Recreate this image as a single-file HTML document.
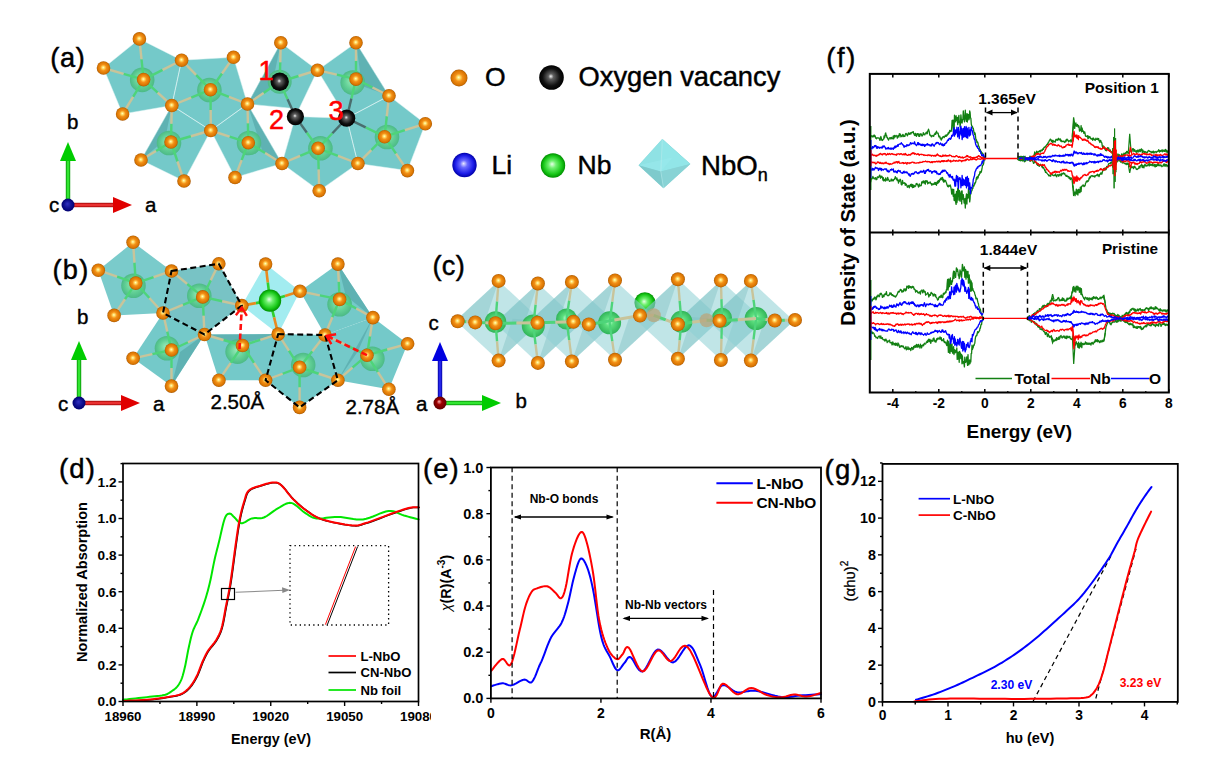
<!DOCTYPE html>
<html><head><meta charset="utf-8"><style>
html,body{margin:0;padding:0;background:#fff;}
svg{display:block;font-family:"Liberation Sans", sans-serif;}
</style></head><body>
<svg width="1232" height="762" viewBox="0 0 1232 762">
<defs>
<clipPath id="clipd"><rect x="0" y="0" width="431" height="762"/></clipPath>
</defs>
<rect width="1232" height="762" fill="#fff"/>
<defs>
<radialGradient id="gO" cx="50%" cy="50%" r="50%" fx="48%" fy="46%">
 <stop offset="0" stop-color="#ffffc8"/><stop offset="0.2" stop-color="#ffd860"/>
 <stop offset="0.45" stop-color="#f39018"/><stop offset="0.85" stop-color="#d87400"/><stop offset="1" stop-color="#a85a08"/></radialGradient>
<radialGradient id="gV" cx="50%" cy="50%" r="50%" fx="47%" fy="45%">
 <stop offset="0" stop-color="#f0f0f0"/><stop offset="0.22" stop-color="#606060"/>
 <stop offset="0.7" stop-color="#111"/><stop offset="1" stop-color="#000"/></radialGradient>
<radialGradient id="gNbm" cx="50%" cy="50%" r="50%" fx="45%" fy="42%">
 <stop offset="0" stop-color="#96eab8"/><stop offset="0.6" stop-color="#62d096"/>
 <stop offset="1" stop-color="#4cba86"/></radialGradient>
<radialGradient id="gNb" cx="50%" cy="50%" r="50%" fx="46%" fy="44%">
 <stop offset="0" stop-color="#e8ffe8"/><stop offset="0.3" stop-color="#70f070"/>
 <stop offset="0.75" stop-color="#18c818"/><stop offset="1" stop-color="#009000"/></radialGradient>
<radialGradient id="gAx" cx="50%" cy="50%" r="50%" fx="45%" fy="40%">
 <stop offset="0" stop-color="#3030c0"/><stop offset="0.6" stop-color="#101090"/><stop offset="1" stop-color="#000070"/></radialGradient>
<radialGradient id="gLi" cx="50%" cy="50%" r="50%" fx="46%" fy="44%">
 <stop offset="0" stop-color="#e8e8ff"/><stop offset="0.3" stop-color="#6a6aff"/>
 <stop offset="0.75" stop-color="#1c1ce8"/><stop offset="1" stop-color="#0000a8"/></radialGradient>
<radialGradient id="gNbc" cx="50%" cy="50%" r="50%" fx="48%" fy="45%">
 <stop offset="0" stop-color="#c8ffd8"/><stop offset="0.35" stop-color="#5ee080"/>
 <stop offset="1" stop-color="#30b458"/></radialGradient>
<radialGradient id="gRed" cx="50%" cy="50%" r="50%" fx="42%" fy="38%">
 <stop offset="0" stop-color="#ffb0b0"/><stop offset="0.4" stop-color="#a00000"/>
 <stop offset="1" stop-color="#600000"/></radialGradient>
<linearGradient id="gArG" x1="0" y1="0" x2="1" y2="0">
 <stop offset="0" stop-color="#009000"/><stop offset="0.5" stop-color="#40ff40"/><stop offset="1" stop-color="#009000"/></linearGradient>
<linearGradient id="gArR" x1="0" y1="0" x2="0" y2="1">
 <stop offset="0" stop-color="#a00000"/><stop offset="0.5" stop-color="#ff4040"/><stop offset="1" stop-color="#a00000"/></linearGradient>
<linearGradient id="gArB" x1="0" y1="0" x2="1" y2="0">
 <stop offset="0" stop-color="#0000a0"/><stop offset="0.5" stop-color="#3030ff"/><stop offset="1" stop-color="#0000a0"/></linearGradient>
<linearGradient id="gArG2" x1="0" y1="0" x2="0" y2="1">
 <stop offset="0" stop-color="#009000"/><stop offset="0.5" stop-color="#40ff40"/><stop offset="1" stop-color="#009000"/></linearGradient>
</defs><polygon points="139.4,38.9 181.6,60.2 171.8,105.5 122.6,114 103.5,68" fill="#74c9c9" /><polygon points="181.6,60.2 233.5,57.3 247.5,104 210.8,130.5 171.8,105.5" fill="#74c9c9" /><polygon points="171.8,105.5 210.8,130.5 184,181 141,160" fill="#74c9c9" /><polygon points="247.5,104 282,163.5 235,177.5 210.8,130.5" fill="#74c9c9" /><polygon points="280.8,42.7 317.5,70.2 299,109 247.5,104" fill="#74c9c9" /><polygon points="356,42.7 389,95.8 346.7,118.2 317.5,70.2" fill="#74c9c9" /><polygon points="295.4,116.6 346.7,118.2 357.9,163.5 319.2,190.7 282,163.5" fill="#74c9c9" /><polygon points="389,95.8 425.3,123.75 407.4,170.6 357.9,163.5 346.7,118.2" fill="#74c9c9" /><polygon points="171.8,105.5 141,160 165,140" fill="#5aacae" opacity="0.8"/><polygon points="247.5,104 282,163.5 262,150" fill="#5aacae" opacity="0.8"/><polygon points="280.8,42.7 247.5,104 272,86" fill="#5aacae" opacity="0.8"/><polygon points="356,42.7 389,95.8 362,86" fill="#5aacae" opacity="0.8"/><polygon points="139.4,38.9 181.6,60.2 171.8,105.5 122.6,114 103.5,68" fill="none" stroke="#e0f4f4" stroke-width="0.7" opacity="0.7"/><polygon points="181.6,60.2 233.5,57.3 247.5,104 210.8,130.5 171.8,105.5" fill="none" stroke="#e0f4f4" stroke-width="0.7" opacity="0.7"/><polygon points="171.8,105.5 210.8,130.5 184,181 141,160" fill="none" stroke="#e0f4f4" stroke-width="0.7" opacity="0.7"/><polygon points="247.5,104 282,163.5 235,177.5 210.8,130.5" fill="none" stroke="#e0f4f4" stroke-width="0.7" opacity="0.7"/><polygon points="280.8,42.7 317.5,70.2 299,109 247.5,104" fill="none" stroke="#e0f4f4" stroke-width="0.7" opacity="0.7"/><polygon points="356,42.7 389,95.8 346.7,118.2 317.5,70.2" fill="none" stroke="#e0f4f4" stroke-width="0.7" opacity="0.7"/><polygon points="295.4,116.6 346.7,118.2 357.9,163.5 319.2,190.7 282,163.5" fill="none" stroke="#e0f4f4" stroke-width="0.7" opacity="0.7"/><polygon points="389,95.8 425.3,123.75 407.4,170.6 357.9,163.5 346.7,118.2" fill="none" stroke="#e0f4f4" stroke-width="0.7" opacity="0.7"/><circle cx="142.2" cy="79.9" r="12.3" fill="url(#gNbm)"/><circle cx="209.4" cy="90" r="12.3" fill="url(#gNbm)"/><circle cx="169" cy="143" r="12.3" fill="url(#gNbm)"/><circle cx="249" cy="143" r="12.3" fill="url(#gNbm)"/><circle cx="352.7" cy="82.5" r="12.3" fill="url(#gNbm)"/><circle cx="320.4" cy="148.3" r="12.3" fill="url(#gNbm)"/><circle cx="387" cy="137" r="12.3" fill="url(#gNbm)"/><circle cx="279.7" cy="81.8" r="12" fill="url(#gNbm)"/><line x1="143.6" y1="79.6" x2="141.5" y2="59.25" stroke="#4ed47a" stroke-width="2.4"/><line x1="141.5" y1="59.25" x2="139.4" y2="38.9" stroke="#c8c49a" stroke-width="2.4"/><line x1="143.6" y1="79.6" x2="123.55" y2="73.8" stroke="#4ed47a" stroke-width="2.4"/><line x1="123.55" y1="73.8" x2="103.5" y2="68" stroke="#c8c49a" stroke-width="2.4"/><line x1="143.6" y1="79.6" x2="133.1" y2="96.8" stroke="#4ed47a" stroke-width="2.4"/><line x1="133.1" y1="96.8" x2="122.6" y2="114" stroke="#c8c49a" stroke-width="2.4"/><line x1="143.6" y1="79.6" x2="162.6" y2="69.9" stroke="#4ed47a" stroke-width="2.4"/><line x1="162.6" y1="69.9" x2="181.6" y2="60.2" stroke="#c8c49a" stroke-width="2.4"/><line x1="143.6" y1="79.6" x2="157.7" y2="92.55" stroke="#4ed47a" stroke-width="2.4"/><line x1="157.7" y1="92.55" x2="171.8" y2="105.5" stroke="#c8c49a" stroke-width="2.4"/><line x1="210.5" y1="89.7" x2="196.05" y2="74.95" stroke="#4ed47a" stroke-width="2.4"/><line x1="196.05" y1="74.95" x2="181.6" y2="60.2" stroke="#c8c49a" stroke-width="2.4"/><line x1="210.5" y1="89.7" x2="222" y2="73.5" stroke="#4ed47a" stroke-width="2.4"/><line x1="222" y1="73.5" x2="233.5" y2="57.3" stroke="#c8c49a" stroke-width="2.4"/><line x1="210.5" y1="89.7" x2="229" y2="96.85" stroke="#4ed47a" stroke-width="2.4"/><line x1="229" y1="96.85" x2="247.5" y2="104" stroke="#c8c49a" stroke-width="2.4"/><line x1="210.5" y1="89.7" x2="210.65" y2="110.1" stroke="#4ed47a" stroke-width="2.4"/><line x1="210.65" y1="110.1" x2="210.8" y2="130.5" stroke="#c8c49a" stroke-width="2.4"/><line x1="210.5" y1="89.7" x2="191.15" y2="97.6" stroke="#4ed47a" stroke-width="2.4"/><line x1="191.15" y1="97.6" x2="171.8" y2="105.5" stroke="#c8c49a" stroke-width="2.4"/><line x1="171" y1="142" x2="171.4" y2="123.75" stroke="#4ed47a" stroke-width="2.4"/><line x1="171.4" y1="123.75" x2="171.8" y2="105.5" stroke="#c8c49a" stroke-width="2.4"/><line x1="171" y1="142" x2="190.9" y2="136.25" stroke="#4ed47a" stroke-width="2.4"/><line x1="190.9" y1="136.25" x2="210.8" y2="130.5" stroke="#c8c49a" stroke-width="2.4"/><line x1="171" y1="142" x2="177.5" y2="161.5" stroke="#4ed47a" stroke-width="2.4"/><line x1="177.5" y1="161.5" x2="184" y2="181" stroke="#c8c49a" stroke-width="2.4"/><line x1="171" y1="142" x2="156" y2="151" stroke="#4ed47a" stroke-width="2.4"/><line x1="156" y1="151" x2="141" y2="160" stroke="#c8c49a" stroke-width="2.4"/><line x1="248.3" y1="142.7" x2="247.9" y2="123.35" stroke="#4ed47a" stroke-width="2.4"/><line x1="247.9" y1="123.35" x2="247.5" y2="104" stroke="#c8c49a" stroke-width="2.4"/><line x1="248.3" y1="142.7" x2="265.15" y2="153.1" stroke="#4ed47a" stroke-width="2.4"/><line x1="265.15" y1="153.1" x2="282" y2="163.5" stroke="#c8c49a" stroke-width="2.4"/><line x1="248.3" y1="142.7" x2="241.65" y2="160.1" stroke="#4ed47a" stroke-width="2.4"/><line x1="241.65" y1="160.1" x2="235" y2="177.5" stroke="#c8c49a" stroke-width="2.4"/><line x1="248.3" y1="142.7" x2="229.55" y2="136.6" stroke="#4ed47a" stroke-width="2.4"/><line x1="229.55" y1="136.6" x2="210.8" y2="130.5" stroke="#c8c49a" stroke-width="2.4"/><line x1="356" y1="79.1" x2="356" y2="60.9" stroke="#4ed47a" stroke-width="2.4"/><line x1="356" y1="60.9" x2="356" y2="42.7" stroke="#c8c49a" stroke-width="2.4"/><line x1="356" y1="79.1" x2="372.5" y2="87.45" stroke="#4ed47a" stroke-width="2.4"/><line x1="372.5" y1="87.45" x2="389" y2="95.8" stroke="#c8c49a" stroke-width="2.4"/><line x1="356" y1="79.1" x2="336.75" y2="74.65" stroke="#4ed47a" stroke-width="2.4"/><line x1="336.75" y1="74.65" x2="317.5" y2="70.2" stroke="#c8c49a" stroke-width="2.4"/><line x1="318.1" y1="148.3" x2="338" y2="155.9" stroke="#4ed47a" stroke-width="2.4"/><line x1="338" y1="155.9" x2="357.9" y2="163.5" stroke="#c8c49a" stroke-width="2.4"/><line x1="318.1" y1="148.3" x2="318.65" y2="169.5" stroke="#4ed47a" stroke-width="2.4"/><line x1="318.65" y1="169.5" x2="319.2" y2="190.7" stroke="#c8c49a" stroke-width="2.4"/><line x1="318.1" y1="148.3" x2="300.05" y2="155.9" stroke="#4ed47a" stroke-width="2.4"/><line x1="300.05" y1="155.9" x2="282" y2="163.5" stroke="#c8c49a" stroke-width="2.4"/><line x1="384.6" y1="136.7" x2="386.8" y2="116.25" stroke="#4ed47a" stroke-width="2.4"/><line x1="386.8" y1="116.25" x2="389" y2="95.8" stroke="#c8c49a" stroke-width="2.4"/><line x1="384.6" y1="136.7" x2="404.95" y2="130.22" stroke="#4ed47a" stroke-width="2.4"/><line x1="404.95" y1="130.22" x2="425.3" y2="123.75" stroke="#c8c49a" stroke-width="2.4"/><line x1="384.6" y1="136.7" x2="396" y2="153.65" stroke="#4ed47a" stroke-width="2.4"/><line x1="396" y1="153.65" x2="407.4" y2="170.6" stroke="#c8c49a" stroke-width="2.4"/><line x1="384.6" y1="136.7" x2="371.25" y2="150.1" stroke="#4ed47a" stroke-width="2.4"/><line x1="371.25" y1="150.1" x2="357.9" y2="163.5" stroke="#c8c49a" stroke-width="2.4"/><line x1="279.7" y1="81.8" x2="280.25" y2="62.25" stroke="#4ed47a" stroke-width="2.4"/><line x1="280.25" y1="62.25" x2="280.8" y2="42.7" stroke="#c8c49a" stroke-width="2.4"/><line x1="279.7" y1="81.8" x2="298.6" y2="76" stroke="#4ed47a" stroke-width="2.4"/><line x1="298.6" y1="76" x2="317.5" y2="70.2" stroke="#c8c49a" stroke-width="2.4"/><line x1="279.7" y1="81.8" x2="263.6" y2="92.9" stroke="#4ed47a" stroke-width="2.4"/><line x1="263.6" y1="92.9" x2="247.5" y2="104" stroke="#c8c49a" stroke-width="2.4"/><line x1="279.7" y1="81.8" x2="287.55" y2="99.2" stroke="#4ed47a" stroke-width="2.4"/><line x1="287.55" y1="99.2" x2="295.4" y2="116.6" stroke="#4a6e6e" stroke-width="2.4"/><line x1="318.1" y1="148.3" x2="306.75" y2="132.45" stroke="#4ed47a" stroke-width="2.4"/><line x1="306.75" y1="132.45" x2="295.4" y2="116.6" stroke="#4a6e6e" stroke-width="2.4"/><line x1="318.1" y1="148.3" x2="332.4" y2="133.25" stroke="#4ed47a" stroke-width="2.4"/><line x1="332.4" y1="133.25" x2="346.7" y2="118.2" stroke="#4a6e6e" stroke-width="2.4"/><line x1="384.6" y1="136.7" x2="365.65" y2="127.45" stroke="#4ed47a" stroke-width="2.4"/><line x1="365.65" y1="127.45" x2="346.7" y2="118.2" stroke="#4a6e6e" stroke-width="2.4"/><line x1="356" y1="79.1" x2="351.35" y2="98.65" stroke="#4ed47a" stroke-width="2.4"/><line x1="351.35" y1="98.65" x2="346.7" y2="118.2" stroke="#4a6e6e" stroke-width="2.4"/><circle cx="139.4" cy="38.9" r="6.8" fill="url(#gO)"/><circle cx="103.5" cy="68" r="6.8" fill="url(#gO)"/><circle cx="122.6" cy="114" r="6.8" fill="url(#gO)"/><circle cx="181.6" cy="60.2" r="6.8" fill="url(#gO)"/><circle cx="233.5" cy="57.3" r="6.8" fill="url(#gO)"/><circle cx="143.6" cy="79.6" r="6.8" fill="url(#gO)"/><circle cx="210.5" cy="89.7" r="6.8" fill="url(#gO)"/><circle cx="171.8" cy="105.5" r="6.8" fill="url(#gO)"/><circle cx="247.5" cy="104" r="6.8" fill="url(#gO)"/><circle cx="210.8" cy="130.5" r="6.8" fill="url(#gO)"/><circle cx="171" cy="142" r="6.8" fill="url(#gO)"/><circle cx="248.3" cy="142.7" r="6.8" fill="url(#gO)"/><circle cx="141" cy="160" r="6.8" fill="url(#gO)"/><circle cx="184" cy="181" r="6.8" fill="url(#gO)"/><circle cx="235" cy="177.5" r="6.8" fill="url(#gO)"/><circle cx="280.8" cy="42.7" r="6.8" fill="url(#gO)"/><circle cx="317.5" cy="70.2" r="6.8" fill="url(#gO)"/><circle cx="356" cy="42.7" r="6.8" fill="url(#gO)"/><circle cx="356" cy="79.1" r="6.8" fill="url(#gO)"/><circle cx="389" cy="95.8" r="6.8" fill="url(#gO)"/><circle cx="425.3" cy="123.75" r="6.8" fill="url(#gO)"/><circle cx="384.6" cy="136.7" r="6.8" fill="url(#gO)"/><circle cx="318.1" cy="148.3" r="6.8" fill="url(#gO)"/><circle cx="282" cy="163.5" r="6.8" fill="url(#gO)"/><circle cx="357.9" cy="163.5" r="6.8" fill="url(#gO)"/><circle cx="319.2" cy="190.7" r="6.8" fill="url(#gO)"/><circle cx="407.4" cy="170.6" r="6.8" fill="url(#gO)"/><circle cx="279.7" cy="81.8" r="9.2" fill="url(#gV)"/><circle cx="295.4" cy="116.6" r="8.6" fill="url(#gV)"/><circle cx="346.7" cy="118.2" r="8.6" fill="url(#gV)"/><text x="258.5" y="80.3" font-size="27" font-weight="normal" text-anchor="start" fill="#ff0000" stroke="#ff0000" stroke-width="0.5" >1</text><text x="269" y="128.7" font-size="27" font-weight="normal" text-anchor="start" fill="#ff0000" stroke="#ff0000" stroke-width="0.5" >2</text><text x="328.5" y="120.4" font-size="27" font-weight="normal" text-anchor="start" fill="#ff0000" stroke="#ff0000" stroke-width="0.5" >3</text><text x="50.3" y="66.5" font-size="27.2" font-weight="normal" text-anchor="start" fill="#000" stroke="#000" stroke-width="0.45" letter-spacing="0.7">(a)</text><rect x="65.8" y="159" width="4.4" height="46" fill="url(#gArG)"/><polygon points="68,142 60,161 76,161" fill="#00cc00"/><rect x="68" y="202.8" width="47" height="4.4" fill="url(#gArR)"/><polygon points="132,205 113,197 113,213" fill="#e00000"/><circle cx="68" cy="205" r="6.5" fill="url(#gAx)"/><text x="67" y="129" font-size="20.5" font-weight="normal" text-anchor="start" fill="#000" stroke="#000" stroke-width="0.4" >b</text><text x="145" y="212" font-size="20.5" font-weight="normal" text-anchor="start" fill="#000" stroke="#000" stroke-width="0.4" >a</text><text x="49" y="212" font-size="20.5" font-weight="normal" text-anchor="start" fill="#000" stroke="#000" stroke-width="0.4" >c</text><circle cx="459" cy="78" r="8.5" fill="url(#gO)"/><text x="485" y="85.5" font-size="26.5" font-weight="normal" text-anchor="start" fill="#000" stroke="#000" stroke-width="0.45" >O</text><circle cx="551.5" cy="77.5" r="12.3" fill="url(#gV)"/><text x="578.5" y="85.5" font-size="27.3" font-weight="normal" text-anchor="start" fill="#000" stroke="#000" stroke-width="0.45" >Oxygen vacancy</text><circle cx="464.5" cy="165" r="12.2" fill="url(#gLi)"/><text x="491.5" y="174" font-size="26.5" font-weight="normal" text-anchor="start" fill="#000" stroke="#000" stroke-width="0.45" >Li</text><circle cx="553" cy="165.5" r="12.2" fill="url(#gNb)"/><text x="577.5" y="174" font-size="26.5" font-weight="normal" text-anchor="start" fill="#000" stroke="#000" stroke-width="0.45" >Nb</text><polygon points="662.3,139.1 638.6,165.3 663.5,188.2 690.3,164.1" fill="#8ad8da" /><polygon points="662.3,139.1 672.5,157.4 690.3,164.1" fill="#86d0d3" /><polygon points="662.3,139.1 638.6,165.3 660.8,171.5" fill="#8fe2e4" /><polygon points="662.3,139.1 660.8,171.5 690.3,164.1" fill="#92e6e8" /><polygon points="638.6,165.3 660.8,171.5 672.5,157.4" fill="#9aeaec" opacity="0.6"/><polygon points="663.5,188.2 638.6,165.3 660.8,171.5" fill="#7ecacc" /><polygon points="663.5,188.2 660.8,171.5 690.3,164.1" fill="#88d3d5" /><polyline points="662.3,139.1 660.8,171.5 663.5,188.2" fill="none" stroke="#c8f0f0" stroke-width="0.6" opacity="0.7"/><text x="701" y="175" font-size="27.6" font-weight="normal" text-anchor="start" fill="#000" stroke="#000" stroke-width="0.45" >NbO<tspan font-size="18" dy="6">n</tspan></text><polygon points="133.1,242.3 171.5,271 163,313 114.1,315.4 98.3,270.2" fill="#7acbcb" /><polygon points="171.5,271 218.8,263.8 241.8,305.6 204.5,334.5 163,313" fill="#78c3c5" /><polygon points="163,313 204.5,334.5 171.5,386.1 133.1,358.3" fill="#74c9c9" /><polygon points="204.5,334.5 278.2,334.1 265.6,380.2 218.9,380.2" fill="#74c9c9" /><polygon points="265.6,264.1 300,291.3 278.2,334.1 241.8,305.6" fill="#a2ecf0" /><polygon points="337.9,264.1 372.9,317.6 325,335 300,291.3" fill="#74c9c9" /><polygon points="278.2,334.1 325,335 337.9,380.2 299.6,407.4 265.6,380.2" fill="#74c9c9" /><polygon points="372.9,317.6 407.6,343.8 388.9,389.2 337.9,380.2 325,335" fill="#74c9c9" /><polygon points="204.5,334.5 171.5,386.1 180,352" fill="#5aacae" opacity="0.8"/><polygon points="204.5,334.5 278.2,334.1 237.6,345" fill="#5aacae" opacity="0.8"/><polygon points="337.9,264.1 372.9,317.6 345.7,295.7" fill="#5aacae" opacity="0.8"/><polygon points="372.9,317.6 337.9,380.2 357.8,351.6" fill="#5aacae" opacity="0.8"/><circle cx="133.5" cy="285.8" r="12.3" fill="url(#gNbm)"/><circle cx="199.3" cy="295.8" r="12.3" fill="url(#gNbm)"/><circle cx="167" cy="348.2" r="12.3" fill="url(#gNbm)"/><circle cx="237.6" cy="351.6" r="12.3" fill="url(#gNbm)"/><circle cx="303.2" cy="365" r="12.3" fill="url(#gNbm)"/><circle cx="339.6" cy="304.2" r="12.3" fill="url(#gNbm)"/><circle cx="372.4" cy="358.8" r="12.3" fill="url(#gNbm)"/><line x1="135.8" y1="283.1" x2="134.45" y2="262.7" stroke="#4ed47a" stroke-width="2.4"/><line x1="134.45" y1="262.7" x2="133.1" y2="242.3" stroke="#c8c49a" stroke-width="2.4"/><line x1="135.8" y1="283.1" x2="117.05" y2="276.65" stroke="#4ed47a" stroke-width="2.4"/><line x1="117.05" y1="276.65" x2="98.3" y2="270.2" stroke="#c8c49a" stroke-width="2.4"/><line x1="135.8" y1="283.1" x2="124.95" y2="299.25" stroke="#4ed47a" stroke-width="2.4"/><line x1="124.95" y1="299.25" x2="114.1" y2="315.4" stroke="#c8c49a" stroke-width="2.4"/><line x1="135.8" y1="283.1" x2="153.65" y2="277.05" stroke="#4ed47a" stroke-width="2.4"/><line x1="153.65" y1="277.05" x2="171.5" y2="271" stroke="#c8c49a" stroke-width="2.4"/><line x1="135.8" y1="283.1" x2="149.4" y2="298.05" stroke="#4ed47a" stroke-width="2.4"/><line x1="149.4" y1="298.05" x2="163" y2="313" stroke="#c8c49a" stroke-width="2.4"/><line x1="202.7" y1="296.9" x2="187.1" y2="283.95" stroke="#4ed47a" stroke-width="2.4"/><line x1="187.1" y1="283.95" x2="171.5" y2="271" stroke="#c8c49a" stroke-width="2.4"/><line x1="202.7" y1="296.9" x2="210.75" y2="280.35" stroke="#4ed47a" stroke-width="2.4"/><line x1="210.75" y1="280.35" x2="218.8" y2="263.8" stroke="#c8c49a" stroke-width="2.4"/><line x1="202.7" y1="296.9" x2="222.25" y2="301.25" stroke="#4ed47a" stroke-width="2.4"/><line x1="222.25" y1="301.25" x2="241.8" y2="305.6" stroke="#c8c49a" stroke-width="2.4"/><line x1="202.7" y1="296.9" x2="203.6" y2="315.7" stroke="#4ed47a" stroke-width="2.4"/><line x1="203.6" y1="315.7" x2="204.5" y2="334.5" stroke="#c8c49a" stroke-width="2.4"/><line x1="202.7" y1="296.9" x2="182.85" y2="304.95" stroke="#4ed47a" stroke-width="2.4"/><line x1="182.85" y1="304.95" x2="163" y2="313" stroke="#c8c49a" stroke-width="2.4"/><line x1="171.5" y1="350" x2="167.25" y2="331.5" stroke="#4ed47a" stroke-width="2.4"/><line x1="167.25" y1="331.5" x2="163" y2="313" stroke="#c8c49a" stroke-width="2.4"/><line x1="171.5" y1="350" x2="188" y2="342.25" stroke="#4ed47a" stroke-width="2.4"/><line x1="188" y1="342.25" x2="204.5" y2="334.5" stroke="#c8c49a" stroke-width="2.4"/><line x1="171.5" y1="350" x2="171.5" y2="368.05" stroke="#4ed47a" stroke-width="2.4"/><line x1="171.5" y1="368.05" x2="171.5" y2="386.1" stroke="#c8c49a" stroke-width="2.4"/><line x1="171.5" y1="350" x2="152.3" y2="354.15" stroke="#4ed47a" stroke-width="2.4"/><line x1="152.3" y1="354.15" x2="133.1" y2="358.3" stroke="#c8c49a" stroke-width="2.4"/><line x1="242.5" y1="345.5" x2="223.5" y2="340" stroke="#4ed47a" stroke-width="2.4"/><line x1="223.5" y1="340" x2="204.5" y2="334.5" stroke="#c8c49a" stroke-width="2.4"/><line x1="242.5" y1="345.5" x2="260.35" y2="339.8" stroke="#4ed47a" stroke-width="2.4"/><line x1="260.35" y1="339.8" x2="278.2" y2="334.1" stroke="#c8c49a" stroke-width="2.4"/><line x1="242.5" y1="345.5" x2="254.05" y2="362.85" stroke="#4ed47a" stroke-width="2.4"/><line x1="254.05" y1="362.85" x2="265.6" y2="380.2" stroke="#c8c49a" stroke-width="2.4"/><line x1="242.5" y1="345.5" x2="230.7" y2="362.85" stroke="#4ed47a" stroke-width="2.4"/><line x1="230.7" y1="362.85" x2="218.9" y2="380.2" stroke="#c8c49a" stroke-width="2.4"/><line x1="299.6" y1="367.3" x2="288.9" y2="350.7" stroke="#4ed47a" stroke-width="2.4"/><line x1="288.9" y1="350.7" x2="278.2" y2="334.1" stroke="#c8c49a" stroke-width="2.4"/><line x1="299.6" y1="367.3" x2="312.3" y2="351.15" stroke="#4ed47a" stroke-width="2.4"/><line x1="312.3" y1="351.15" x2="325" y2="335" stroke="#c8c49a" stroke-width="2.4"/><line x1="299.6" y1="367.3" x2="318.75" y2="373.75" stroke="#4ed47a" stroke-width="2.4"/><line x1="318.75" y1="373.75" x2="337.9" y2="380.2" stroke="#c8c49a" stroke-width="2.4"/><line x1="299.6" y1="367.3" x2="299.6" y2="387.35" stroke="#4ed47a" stroke-width="2.4"/><line x1="299.6" y1="387.35" x2="299.6" y2="407.4" stroke="#c8c49a" stroke-width="2.4"/><line x1="299.6" y1="367.3" x2="282.6" y2="373.75" stroke="#4ed47a" stroke-width="2.4"/><line x1="282.6" y1="373.75" x2="265.6" y2="380.2" stroke="#c8c49a" stroke-width="2.4"/><line x1="339.6" y1="299.4" x2="338.75" y2="281.75" stroke="#4ed47a" stroke-width="2.4"/><line x1="338.75" y1="281.75" x2="337.9" y2="264.1" stroke="#c8c49a" stroke-width="2.4"/><line x1="339.6" y1="299.4" x2="356.25" y2="308.5" stroke="#4ed47a" stroke-width="2.4"/><line x1="356.25" y1="308.5" x2="372.9" y2="317.6" stroke="#c8c49a" stroke-width="2.4"/><line x1="339.6" y1="299.4" x2="332.3" y2="317.2" stroke="#4ed47a" stroke-width="2.4"/><line x1="332.3" y1="317.2" x2="325" y2="335" stroke="#c8c49a" stroke-width="2.4"/><line x1="339.6" y1="299.4" x2="319.8" y2="295.35" stroke="#4ed47a" stroke-width="2.4"/><line x1="319.8" y1="295.35" x2="300" y2="291.3" stroke="#c8c49a" stroke-width="2.4"/><line x1="367" y1="355.2" x2="369.95" y2="336.4" stroke="#4ed47a" stroke-width="2.4"/><line x1="369.95" y1="336.4" x2="372.9" y2="317.6" stroke="#c8c49a" stroke-width="2.4"/><line x1="367" y1="355.2" x2="387.3" y2="349.5" stroke="#4ed47a" stroke-width="2.4"/><line x1="387.3" y1="349.5" x2="407.6" y2="343.8" stroke="#c8c49a" stroke-width="2.4"/><line x1="367" y1="355.2" x2="377.95" y2="372.2" stroke="#4ed47a" stroke-width="2.4"/><line x1="377.95" y1="372.2" x2="388.9" y2="389.2" stroke="#c8c49a" stroke-width="2.4"/><line x1="367" y1="355.2" x2="352.45" y2="367.7" stroke="#4ed47a" stroke-width="2.4"/><line x1="352.45" y1="367.7" x2="337.9" y2="380.2" stroke="#c8c49a" stroke-width="2.4"/><line x1="367" y1="355.2" x2="346" y2="345.1" stroke="#4ed47a" stroke-width="2.4"/><line x1="346" y1="345.1" x2="325" y2="335" stroke="#c8c49a" stroke-width="2.4"/><line x1="270" y1="300.6" x2="267.8" y2="282.35" stroke="#30d030" stroke-width="2.6"/><line x1="267.8" y1="282.35" x2="265.6" y2="264.1" stroke="#e88a20" stroke-width="2.6"/><line x1="270" y1="300.6" x2="285" y2="295.95" stroke="#30d030" stroke-width="2.6"/><line x1="285" y1="295.95" x2="300" y2="291.3" stroke="#e88a20" stroke-width="2.6"/><line x1="270" y1="300.6" x2="274.1" y2="317.35" stroke="#30d030" stroke-width="2.6"/><line x1="274.1" y1="317.35" x2="278.2" y2="334.1" stroke="#e88a20" stroke-width="2.6"/><line x1="270" y1="300.6" x2="255.9" y2="303.1" stroke="#30d030" stroke-width="2.6"/><line x1="255.9" y1="303.1" x2="241.8" y2="305.6" stroke="#e88a20" stroke-width="2.6"/><circle cx="270" cy="300.6" r="11.2" fill="url(#gNb)"/><circle cx="133.1" cy="242.3" r="6.8" fill="url(#gO)"/><circle cx="98.3" cy="270.2" r="6.8" fill="url(#gO)"/><circle cx="114.1" cy="315.4" r="6.8" fill="url(#gO)"/><circle cx="135.8" cy="283.1" r="6.8" fill="url(#gO)"/><circle cx="171.5" cy="271" r="6.8" fill="url(#gO)"/><circle cx="218.8" cy="263.8" r="6.8" fill="url(#gO)"/><circle cx="202.7" cy="296.9" r="6.8" fill="url(#gO)"/><circle cx="163" cy="313" r="6.8" fill="url(#gO)"/><circle cx="241.8" cy="305.6" r="6.8" fill="url(#gO)"/><circle cx="204.5" cy="334.5" r="6.8" fill="url(#gO)"/><circle cx="171.5" cy="350" r="6.8" fill="url(#gO)"/><circle cx="133.1" cy="358.3" r="6.8" fill="url(#gO)"/><circle cx="171.5" cy="386.1" r="6.8" fill="url(#gO)"/><circle cx="242.5" cy="345.5" r="6.8" fill="url(#gO)"/><circle cx="218.9" cy="380.2" r="6.8" fill="url(#gO)"/><circle cx="265.6" cy="264.1" r="6.8" fill="url(#gO)"/><circle cx="300" cy="291.3" r="6.8" fill="url(#gO)"/><circle cx="278.2" cy="334.1" r="6.8" fill="url(#gO)"/><circle cx="265.6" cy="380.2" r="6.8" fill="url(#gO)"/><circle cx="299.6" cy="367.3" r="6.8" fill="url(#gO)"/><circle cx="325" cy="335" r="6.8" fill="url(#gO)"/><circle cx="337.9" cy="380.2" r="6.8" fill="url(#gO)"/><circle cx="299.6" cy="407.4" r="6.8" fill="url(#gO)"/><circle cx="337.9" cy="264.1" r="6.8" fill="url(#gO)"/><circle cx="339.6" cy="299.4" r="6.8" fill="url(#gO)"/><circle cx="372.9" cy="317.6" r="6.8" fill="url(#gO)"/><circle cx="407.6" cy="343.8" r="6.8" fill="url(#gO)"/><circle cx="367" cy="355.2" r="6.8" fill="url(#gO)"/><circle cx="388.9" cy="389.2" r="6.8" fill="url(#gO)"/><polygon points="171.5,271 218.8,263.8 241.8,305.6 204.5,334.5 163,313" fill="none" stroke="#000" stroke-width="2.1" stroke-dasharray="6,3.5"/><polygon points="278.2,334.1 325,335 337.9,380.2 299.6,407.4 265.6,380.2" fill="none" stroke="#000" stroke-width="2.1" stroke-dasharray="6,3.5"/><line x1="239.5" y1="349" x2="241.8" y2="307.5" stroke="#ff1010" stroke-width="2.6" stroke-dasharray="6,3.5"/><polyline points="246.85,315.79 241.8,307.5 235.87,315.18" fill="none" stroke="#ff1010" stroke-width="2.4"/><line x1="367" y1="355.2" x2="326.5" y2="335.8" stroke="#ff1010" stroke-width="2.6" stroke-dasharray="6,3.5"/><polyline points="336.09,334.3 326.5,335.8 331.34,344.22" fill="none" stroke="#ff1010" stroke-width="2.4"/><text x="210.5" y="408.5" font-size="20.5" font-weight="normal" text-anchor="start" fill="#000" stroke="#000" stroke-width="0.35" >2.50Å</text><text x="345.5" y="413.5" font-size="20.5" font-weight="normal" text-anchor="start" fill="#000" stroke="#000" stroke-width="0.35" >2.78Å</text><text x="52.5" y="278.6" font-size="27.2" font-weight="normal" text-anchor="start" fill="#000" stroke="#000" stroke-width="0.45" letter-spacing="1.3">(b)</text><rect x="76.8" y="358" width="4.4" height="45" fill="url(#gArG)"/><polygon points="79,341 71,360 87,360" fill="#00cc00"/><rect x="79" y="400.8" width="44" height="4.4" fill="url(#gArR)"/><polygon points="140,403 121,395 121,411" fill="#e00000"/><circle cx="79" cy="403" r="6.5" fill="url(#gAx)"/><text x="77" y="324" font-size="20.5" font-weight="normal" text-anchor="start" fill="#000" stroke="#000" stroke-width="0.4" >b</text><text x="153" y="411" font-size="20.5" font-weight="normal" text-anchor="start" fill="#000" stroke="#000" stroke-width="0.4" >a</text><text x="58" y="411" font-size="20.5" font-weight="normal" text-anchor="start" fill="#000" stroke="#000" stroke-width="0.4" >c</text><circle cx="644.9" cy="302.7" r="10.5" fill="url(#gNb)"/><polygon points="498.6,280.9 455.6,320.75 498.6,360.6 541.6,320.75" fill="#8dd0d4" opacity="0.55"/><polygon points="498.6,280.9 455.6,320.75 484.6,322.75" fill="#6fb7bb" opacity="0.35"/><polygon points="498.6,360.6 541.6,320.75 512.6,318.75" fill="#6fb7bb" opacity="0.35"/><polygon points="537.9,283.5 494.9,323.2 537.9,362.9 580.9,323.2" fill="#8dd0d4" opacity="0.55"/><polygon points="537.9,283.5 494.9,323.2 523.9,325.2" fill="#6fb7bb" opacity="0.35"/><polygon points="537.9,362.9 580.9,323.2 551.9,321.2" fill="#6fb7bb" opacity="0.35"/><polygon points="571.9,282 528.9,321.7 571.9,361.4 614.9,321.7" fill="#8dd0d4" opacity="0.55"/><polygon points="571.9,282 528.9,321.7 557.9,323.7" fill="#6fb7bb" opacity="0.35"/><polygon points="571.9,361.4 614.9,321.7 585.9,319.7" fill="#6fb7bb" opacity="0.35"/><polygon points="615,280.4 572,320.1 615,359.8 658,320.1" fill="#8dd0d4" opacity="0.55"/><polygon points="615,280.4 572,320.1 601,322.1" fill="#6fb7bb" opacity="0.35"/><polygon points="615,359.8 658,320.1 629,318.1" fill="#6fb7bb" opacity="0.35"/><polygon points="677.9,279.3 634.9,319.05 677.9,358.8 720.9,319.05" fill="#8dd0d4" opacity="0.55"/><polygon points="677.9,279.3 634.9,319.05 663.9,321.05" fill="#6fb7bb" opacity="0.35"/><polygon points="677.9,358.8 720.9,319.05 691.9,317.05" fill="#6fb7bb" opacity="0.35"/><polygon points="720.9,280.4 677.9,320.2 720.9,360 763.9,320.2" fill="#8dd0d4" opacity="0.55"/><polygon points="720.9,280.4 677.9,320.2 706.9,322.2" fill="#6fb7bb" opacity="0.35"/><polygon points="720.9,360 763.9,320.2 734.9,318.2" fill="#6fb7bb" opacity="0.35"/><polygon points="750.9,280.9 707.9,320.7 750.9,360.5 793.9,320.7" fill="#8dd0d4" opacity="0.55"/><polygon points="750.9,280.9 707.9,320.7 736.9,322.7" fill="#6fb7bb" opacity="0.35"/><polygon points="750.9,360.5 793.9,320.7 764.9,318.7" fill="#6fb7bb" opacity="0.35"/><circle cx="495.5" cy="322" r="10.8" fill="url(#gNbc)"/><circle cx="533.3" cy="325.9" r="11.5" fill="url(#gNbc)"/><circle cx="566.5" cy="319" r="10.5" fill="url(#gNbc)"/><circle cx="609.6" cy="322.8" r="11.5" fill="url(#gNbc)"/><circle cx="681.4" cy="321.8" r="11" fill="url(#gNbc)"/><circle cx="722" cy="317.8" r="10" fill="url(#gNbc)"/><circle cx="756.1" cy="318.6" r="11.5" fill="url(#gNbc)"/><line x1="495.5" y1="322" x2="497.05" y2="301.45" stroke="#4ed47a" stroke-width="2.4"/><line x1="497.05" y1="301.45" x2="498.6" y2="280.9" stroke="#c8c49a" stroke-width="2.4"/><line x1="495.5" y1="322" x2="497.05" y2="341.3" stroke="#4ed47a" stroke-width="2.4"/><line x1="497.05" y1="341.3" x2="498.6" y2="360.6" stroke="#c8c49a" stroke-width="2.4"/><line x1="533.3" y1="325.9" x2="535.6" y2="304.7" stroke="#4ed47a" stroke-width="2.4"/><line x1="535.6" y1="304.7" x2="537.9" y2="283.5" stroke="#c8c49a" stroke-width="2.4"/><line x1="533.3" y1="325.9" x2="535.6" y2="344.4" stroke="#4ed47a" stroke-width="2.4"/><line x1="535.6" y1="344.4" x2="537.9" y2="362.9" stroke="#c8c49a" stroke-width="2.4"/><line x1="566.5" y1="319" x2="569.2" y2="300.5" stroke="#4ed47a" stroke-width="2.4"/><line x1="569.2" y1="300.5" x2="571.9" y2="282" stroke="#c8c49a" stroke-width="2.4"/><line x1="566.5" y1="319" x2="569.2" y2="340.2" stroke="#4ed47a" stroke-width="2.4"/><line x1="569.2" y1="340.2" x2="571.9" y2="361.4" stroke="#c8c49a" stroke-width="2.4"/><line x1="609.6" y1="322.8" x2="612.3" y2="301.6" stroke="#4ed47a" stroke-width="2.4"/><line x1="612.3" y1="301.6" x2="615" y2="280.4" stroke="#c8c49a" stroke-width="2.4"/><line x1="609.6" y1="322.8" x2="612.3" y2="341.3" stroke="#4ed47a" stroke-width="2.4"/><line x1="612.3" y1="341.3" x2="615" y2="359.8" stroke="#c8c49a" stroke-width="2.4"/><line x1="681.4" y1="321.8" x2="679.65" y2="300.55" stroke="#4ed47a" stroke-width="2.4"/><line x1="679.65" y1="300.55" x2="677.9" y2="279.3" stroke="#c8c49a" stroke-width="2.4"/><line x1="681.4" y1="321.8" x2="679.65" y2="340.3" stroke="#4ed47a" stroke-width="2.4"/><line x1="679.65" y1="340.3" x2="677.9" y2="358.8" stroke="#c8c49a" stroke-width="2.4"/><line x1="722" y1="317.8" x2="721.45" y2="299.1" stroke="#4ed47a" stroke-width="2.4"/><line x1="721.45" y1="299.1" x2="720.9" y2="280.4" stroke="#c8c49a" stroke-width="2.4"/><line x1="722" y1="317.8" x2="721.45" y2="338.9" stroke="#4ed47a" stroke-width="2.4"/><line x1="721.45" y1="338.9" x2="720.9" y2="360" stroke="#c8c49a" stroke-width="2.4"/><line x1="756.1" y1="318.6" x2="753.5" y2="299.75" stroke="#4ed47a" stroke-width="2.4"/><line x1="753.5" y1="299.75" x2="750.9" y2="280.9" stroke="#c8c49a" stroke-width="2.4"/><line x1="756.1" y1="318.6" x2="753.5" y2="339.55" stroke="#4ed47a" stroke-width="2.4"/><line x1="753.5" y1="339.55" x2="750.9" y2="360.5" stroke="#c8c49a" stroke-width="2.4"/><line x1="457.7" y1="321.3" x2="466.45" y2="321.85" stroke="#4ed47a" stroke-width="3.0"/><line x1="466.45" y1="321.85" x2="475.2" y2="322.4" stroke="#c8c49a" stroke-width="3.0"/><line x1="475.2" y1="322.4" x2="485.35" y2="322.85" stroke="#4ed47a" stroke-width="3.0"/><line x1="485.35" y1="322.85" x2="495.5" y2="323.3" stroke="#c8c49a" stroke-width="3.0"/><line x1="495.5" y1="323.3" x2="516.5" y2="323.05" stroke="#4ed47a" stroke-width="3.0"/><line x1="516.5" y1="323.05" x2="537.5" y2="322.8" stroke="#c8c49a" stroke-width="3.0"/><line x1="537.5" y1="322.8" x2="555.45" y2="322.3" stroke="#4ed47a" stroke-width="3.0"/><line x1="555.45" y1="322.3" x2="573.4" y2="321.8" stroke="#c8c49a" stroke-width="3.0"/><line x1="573.4" y1="321.8" x2="581.1" y2="323.1" stroke="#4ed47a" stroke-width="3.0"/><line x1="581.1" y1="323.1" x2="588.8" y2="324.4" stroke="#c8c49a" stroke-width="3.0"/><line x1="588.8" y1="324.4" x2="614.4" y2="320" stroke="#4ed47a" stroke-width="3.0"/><line x1="614.4" y1="320" x2="640" y2="315.6" stroke="#c8c49a" stroke-width="3.0"/><line x1="640" y1="315.6" x2="646.9" y2="315.45" stroke="#4ed47a" stroke-width="3.0"/><line x1="646.9" y1="315.45" x2="653.8" y2="315.3" stroke="#c8c49a" stroke-width="3.0"/><line x1="653.8" y1="315.3" x2="665.85" y2="319.8" stroke="#4ed47a" stroke-width="3.0"/><line x1="665.85" y1="319.8" x2="677.9" y2="324.3" stroke="#c8c49a" stroke-width="3.0"/><line x1="677.9" y1="324.3" x2="692.25" y2="322.25" stroke="#4ed47a" stroke-width="3.0"/><line x1="692.25" y1="322.25" x2="706.6" y2="320.2" stroke="#c8c49a" stroke-width="3.0"/><line x1="706.6" y1="320.2" x2="713.1" y2="320.45" stroke="#4ed47a" stroke-width="3.0"/><line x1="713.1" y1="320.45" x2="719.6" y2="320.7" stroke="#c8c49a" stroke-width="3.0"/><line x1="719.6" y1="320.7" x2="737.85" y2="319.65" stroke="#4ed47a" stroke-width="3.0"/><line x1="737.85" y1="319.65" x2="756.1" y2="318.6" stroke="#c8c49a" stroke-width="3.0"/><line x1="756.1" y1="318.6" x2="765.45" y2="319.55" stroke="#4ed47a" stroke-width="3.0"/><line x1="765.45" y1="319.55" x2="774.8" y2="320.5" stroke="#c8c49a" stroke-width="3.0"/><line x1="774.8" y1="320.5" x2="784.9" y2="320.2" stroke="#4ed47a" stroke-width="3.0"/><line x1="784.9" y1="320.2" x2="795" y2="319.9" stroke="#c8c49a" stroke-width="3.0"/><circle cx="653.8" cy="315.3" r="7" fill="#b8a880" opacity="0.8"/><circle cx="706.6" cy="320.2" r="7" fill="#b8a880" opacity="0.8"/><circle cx="498.6" cy="280.9" r="7" fill="url(#gO)"/><circle cx="498.6" cy="360.6" r="7" fill="url(#gO)"/><circle cx="537.9" cy="283.5" r="7" fill="url(#gO)"/><circle cx="537.9" cy="362.9" r="7" fill="url(#gO)"/><circle cx="571.9" cy="282" r="7" fill="url(#gO)"/><circle cx="571.9" cy="361.4" r="7" fill="url(#gO)"/><circle cx="615" cy="280.4" r="7" fill="url(#gO)"/><circle cx="615" cy="359.8" r="7" fill="url(#gO)"/><circle cx="677.9" cy="279.3" r="7" fill="url(#gO)"/><circle cx="677.9" cy="358.8" r="7" fill="url(#gO)"/><circle cx="720.9" cy="280.4" r="7" fill="url(#gO)"/><circle cx="720.9" cy="360" r="7" fill="url(#gO)"/><circle cx="750.9" cy="280.9" r="7" fill="url(#gO)"/><circle cx="750.9" cy="360.5" r="7" fill="url(#gO)"/><circle cx="457.7" cy="321.3" r="7" fill="url(#gO)"/><circle cx="475.2" cy="322.4" r="7" fill="url(#gO)"/><circle cx="495.5" cy="323.3" r="7" fill="url(#gO)"/><circle cx="537.5" cy="322.8" r="7" fill="url(#gO)"/><circle cx="573.4" cy="321.8" r="7" fill="url(#gO)"/><circle cx="588.8" cy="324.4" r="7" fill="url(#gO)"/><circle cx="640" cy="315.6" r="7" fill="url(#gO)"/><circle cx="677.9" cy="324.3" r="7" fill="url(#gO)"/><circle cx="719.6" cy="320.7" r="7" fill="url(#gO)"/><circle cx="774.8" cy="320.5" r="7" fill="url(#gO)"/><circle cx="795" cy="319.9" r="7" fill="url(#gO)"/><text x="432.5" y="275.2" font-size="27.2" font-weight="normal" text-anchor="start" fill="#000" stroke="#000" stroke-width="0.45" letter-spacing="0.3">(c)</text><rect x="437.8" y="359" width="4.4" height="44" fill="url(#gArB)"/><polygon points="440,342 432,361 448,361" fill="#0000e0"/><rect x="440" y="400.8" width="44" height="4.4" fill="url(#gArG2)"/><polygon points="501,403 482,395 482,411" fill="#00cc00"/><circle cx="440" cy="403" r="6.5" fill="url(#gRed)"/><text x="428.5" y="330" font-size="20.5" font-weight="normal" text-anchor="start" fill="#000" stroke="#000" stroke-width="0.4" >c</text><text x="515.5" y="408" font-size="20.5" font-weight="normal" text-anchor="start" fill="#000" stroke="#000" stroke-width="0.4" >b</text><text x="416" y="411" font-size="20.5" font-weight="normal" text-anchor="start" fill="#000" stroke="#000" stroke-width="0.4" >a</text>
<polyline points="123.4,701.3 125.53,701.19 128.42,701.07 131.86,700.91 135.66,700.74 139.62,700.54 143.54,700.32 147.23,700.07 150.5,699.8 153.46,699.5 156.35,699.15 159.16,698.78 161.86,698.38 164.43,697.98 166.86,697.57 169.12,697.18 171.2,696.8 173.06,696.47 174.7,696.18 176.15,695.92 177.47,695.64 178.7,695.34 179.87,694.98 181.02,694.54 182.2,694 183.38,693.36 184.5,692.66 185.57,691.89 186.61,691.06 187.61,690.17 188.59,689.21 189.55,688.19 190.5,687.1 191.44,685.94 192.36,684.7 193.25,683.4 194.12,682.03 194.98,680.61 195.81,679.14 196.61,677.64 197.4,676.1 198.15,674.49 198.87,672.78 199.57,671.01 200.24,669.2 200.9,667.39 201.56,665.62 202.22,663.91 202.9,662.3 203.57,660.79 204.21,659.35 204.84,657.97 205.48,656.62 206.13,655.3 206.83,653.98 207.58,652.66 208.4,651.3 209.32,649.93 210.34,648.58 211.43,647.24 212.55,645.89 213.67,644.53 214.76,643.15 215.78,641.74 216.7,640.3 217.53,638.87 218.3,637.49 219.03,636.12 219.71,634.71 220.36,633.22 220.99,631.62 221.6,629.86 222.2,627.9 222.8,625.63 223.38,623.02 223.95,620.2 224.49,617.3 225,614.43 225.48,611.7 225.91,609.26 226.3,607.2 226.62,605.63 226.86,604.47 227.04,603.59 227.2,602.86 227.35,602.15 227.52,601.32 227.73,600.25 228,598.8 228.31,597.21 228.61,595.72 228.93,594.16 229.28,592.4 229.68,590.28 230.14,587.66 230.67,584.38 231.3,580.3 232.06,575.05 232.94,568.62 233.91,561.38 234.94,553.71 235.99,545.99 237.02,538.59 238,531.9 238.9,526.3 239.73,521.69 240.52,517.68 241.28,514.18 242.02,511.1 242.74,508.36 243.44,505.87 244.12,503.55 244.8,501.3 245.41,499.23 245.91,497.46 246.37,495.95 246.83,494.64 247.34,493.49 247.96,492.45 248.73,491.47 249.7,490.5 250.91,489.59 252.33,488.81 253.9,488.14 255.57,487.56 257.3,487.03 259.03,486.55 260.72,486.08 262.3,485.6 263.83,485.1 265.38,484.6 266.92,484.11 268.45,483.66 269.94,483.27 271.37,482.97 272.73,482.77 274,482.7 275.13,482.71 276.13,482.76 277.04,482.89 277.9,483.11 278.76,483.47 279.67,483.98 280.67,484.68 281.8,485.6 283.06,486.81 284.41,488.31 285.82,490.03 287.29,491.9 288.8,493.83 290.35,495.76 291.92,497.61 293.5,499.3 295.1,500.88 296.72,502.44 298.37,503.97 300.06,505.46 301.77,506.92 303.51,508.33 305.29,509.69 307.1,511 308.86,512.25 310.54,513.45 312.21,514.61 313.93,515.71 315.77,516.77 317.8,517.79 320.09,518.77 322.7,519.7 325.81,520.63 329.41,521.56 333.34,522.46 337.43,523.32 341.49,524.09 345.38,524.75 348.9,525.26 351.9,525.6 354.24,525.79 356.03,525.86 357.45,525.81 358.69,525.64 359.94,525.33 361.36,524.9 363.16,524.32 365.5,523.6 368.5,522.64 372.04,521.4 375.94,519.97 380.02,518.43 384.12,516.87 388.06,515.37 391.68,514.02 394.8,512.9 397.46,511.98 399.85,511.16 402,510.44 403.94,509.81 405.73,509.26 407.39,508.78 408.97,508.36 410.5,508 411.97,507.72 413.35,507.55 414.62,507.47 415.78,507.44 416.82,507.46 417.72,507.49 418.49,507.51 419.1,507.5" fill="none" stroke="#000" stroke-width="1.6" stroke-linejoin="round" stroke-linecap="round" /><polyline points="122.9,699.8 124.56,699.61 126.79,699.37 129.44,699.07 132.38,698.74 135.47,698.4 138.58,698.05 141.57,697.71 144.3,697.4 146.91,697.12 149.57,696.86 152.25,696.61 154.88,696.36 157.4,696.09 159.76,695.8 161.92,695.47 163.8,695.1 165.38,694.68 166.71,694.22 167.82,693.73 168.77,693.21 169.61,692.68 170.4,692.12 171.18,691.56 172,691 172.83,690.44 173.62,689.89 174.36,689.34 175.06,688.76 175.72,688.16 176.37,687.53 176.99,686.84 177.6,686.1 178.19,685.32 178.75,684.52 179.28,683.69 179.79,682.82 180.28,681.89 180.76,680.88 181.23,679.79 181.7,678.6 182.16,677.32 182.6,675.98 183.02,674.55 183.44,673.06 183.85,671.48 184.26,669.81 184.67,668.05 185.1,666.2 185.53,664.21 185.95,662.06 186.38,659.79 186.81,657.46 187.24,655.09 187.68,652.73 188.13,650.42 188.6,648.2 189.07,646.04 189.55,643.87 190.03,641.72 190.53,639.6 191.03,637.52 191.56,635.5 192.12,633.56 192.7,631.7 193.31,630 193.94,628.47 194.6,627.05 195.28,625.67 195.97,624.28 196.69,622.79 197.44,621.15 198.2,619.3 199.01,617.21 199.87,614.93 200.77,612.51 201.69,610 202.6,607.45 203.48,604.9 204.32,602.4 205.1,600 205.81,597.72 206.47,595.5 207.1,593.33 207.7,591.17 208.28,588.99 208.85,586.75 209.42,584.43 210,582 210.58,579.42 211.15,576.69 211.72,573.88 212.28,571.01 212.83,568.15 213.38,565.33 213.94,562.6 214.5,560 215.05,557.58 215.59,555.3 216.13,553.13 216.67,550.99 217.22,548.84 217.78,546.63 218.38,544.3 219,541.8 219.67,539 220.38,535.88 221.12,532.59 221.87,529.26 222.63,526.04 223.38,523.06 224.11,520.47 224.8,518.4 225.46,516.85 226.09,515.69 226.71,514.86 227.31,514.29 227.91,513.95 228.5,513.75 229.1,513.66 229.7,513.6 230.29,513.66 230.86,513.92 231.42,514.34 231.97,514.89 232.55,515.52 233.15,516.19 233.8,516.86 234.5,517.5 235.24,518.21 235.99,519.07 236.77,520.01 237.59,520.95 238.45,521.83 239.37,522.56 240.35,523.07 241.4,523.3 242.54,523.17 243.76,522.73 245.05,522.07 246.39,521.27 247.77,520.41 249.18,519.59 250.59,518.89 252,518.4 253.41,518.15 254.82,518.08 256.26,518.12 257.71,518.19 259.19,518.24 260.7,518.19 262.23,517.96 263.8,517.5 265.41,516.76 267.07,515.79 268.77,514.65 270.49,513.41 272.22,512.13 273.96,510.87 275.69,509.71 277.4,508.7 279.1,507.73 280.8,506.68 282.5,505.62 284.19,504.64 285.89,503.81 287.59,503.19 289.3,502.86 291,502.9 292.72,503.4 294.46,504.33 296.22,505.57 297.97,507.02 299.7,508.57 301.41,510.09 303.08,511.47 304.7,512.6 306.19,513.56 307.54,514.5 308.81,515.38 310.07,516.2 311.39,516.93 312.84,517.55 314.49,518.05 316.4,518.4 318.58,518.53 320.98,518.44 323.55,518.2 326.26,517.86 329.07,517.49 331.96,517.16 334.88,516.95 337.8,516.9 340.77,517.1 343.83,517.5 346.96,518.02 350.14,518.58 353.36,519.09 356.59,519.45 359.81,519.58 363,519.4 366.24,518.78 369.59,517.76 372.98,516.48 376.36,515.07 379.66,513.68 382.82,512.45 385.79,511.51 388.5,511 390.92,510.95 393.1,511.23 395.08,511.77 396.93,512.48 398.69,513.29 400.42,514.11 402.17,514.88 404,515.5 405.97,516.04 408.06,516.61 410.18,517.18 412.27,517.73 414.23,518.25 416,518.71 417.48,519.1 418.6,519.4" fill="none" stroke="#00e600" stroke-width="2.0" stroke-linejoin="round" stroke-linecap="round" /><polyline points="122.9,701 125.03,700.89 127.92,700.77 131.36,700.61 135.16,700.44 139.12,700.24 143.04,700.02 146.73,699.77 150,699.5 152.96,699.2 155.85,698.85 158.66,698.48 161.36,698.08 163.93,697.68 166.36,697.27 168.62,696.88 170.7,696.5 172.56,696.17 174.2,695.88 175.65,695.62 176.97,695.34 178.2,695.04 179.37,694.68 180.52,694.24 181.7,693.7 182.88,693.06 184,692.36 185.07,691.59 186.11,690.76 187.11,689.87 188.09,688.91 189.05,687.89 190,686.8 190.94,685.64 191.86,684.4 192.75,683.1 193.62,681.73 194.48,680.31 195.31,678.84 196.11,677.34 196.9,675.8 197.65,674.19 198.37,672.48 199.07,670.71 199.74,668.9 200.4,667.09 201.06,665.32 201.72,663.61 202.4,662 203.07,660.49 203.71,659.05 204.34,657.67 204.98,656.33 205.63,655 206.33,653.68 207.08,652.36 207.9,651 208.82,649.63 209.84,648.28 210.93,646.94 212.05,645.59 213.17,644.23 214.26,642.85 215.28,641.44 216.2,640 217.03,638.57 217.8,637.19 218.53,635.82 219.21,634.41 219.86,632.92 220.49,631.32 221.1,629.56 221.7,627.6 222.3,625.33 222.88,622.72 223.45,619.9 223.99,617 224.5,614.13 224.98,611.4 225.41,608.96 225.8,606.9 226.12,605.33 226.36,604.17 226.54,603.29 226.7,602.56 226.85,601.85 227.02,601.02 227.23,599.95 227.5,598.5 227.81,596.91 228.11,595.42 228.43,593.86 228.78,592.1 229.18,589.98 229.64,587.36 230.17,584.08 230.8,580 231.56,574.75 232.44,568.32 233.41,561.08 234.44,553.41 235.49,545.69 236.52,538.29 237.5,531.6 238.4,526 239.23,521.39 240.02,517.38 240.78,513.88 241.52,510.8 242.24,508.06 242.94,505.57 243.62,503.25 244.3,501 244.91,498.93 245.41,497.16 245.87,495.65 246.33,494.34 246.84,493.19 247.46,492.15 248.23,491.17 249.2,490.2 250.41,489.29 251.83,488.51 253.4,487.84 255.07,487.26 256.8,486.73 258.53,486.25 260.22,485.78 261.8,485.3 263.33,484.8 264.88,484.3 266.42,483.81 267.95,483.36 269.44,482.97 270.87,482.67 272.23,482.47 273.5,482.4 274.63,482.41 275.63,482.46 276.54,482.59 277.4,482.81 278.26,483.17 279.17,483.68 280.17,484.38 281.3,485.3 282.56,486.51 283.91,488.01 285.32,489.73 286.79,491.6 288.3,493.53 289.85,495.46 291.42,497.31 293,499 294.6,500.58 296.22,502.14 297.87,503.67 299.56,505.16 301.27,506.62 303.01,508.03 304.79,509.39 306.6,510.7 308.36,511.95 310.04,513.15 311.71,514.31 313.43,515.41 315.27,516.47 317.3,517.49 319.59,518.47 322.2,519.4 325.31,520.33 328.91,521.26 332.84,522.16 336.93,523.02 340.99,523.79 344.88,524.45 348.4,524.96 351.4,525.3 353.74,525.49 355.53,525.56 356.95,525.51 358.19,525.34 359.44,525.03 360.86,524.6 362.66,524.02 365,523.3 368,522.34 371.54,521.1 375.44,519.67 379.52,518.13 383.62,516.57 387.56,515.07 391.18,513.72 394.3,512.6 396.96,511.68 399.35,510.86 401.5,510.14 403.44,509.51 405.23,508.96 406.89,508.48 408.47,508.06 410,507.7 411.47,507.42 412.85,507.25 414.12,507.17 415.28,507.14 416.32,507.16 417.22,507.19 417.99,507.21 418.6,507.2" fill="none" stroke="#f00" stroke-width="2.0" stroke-linejoin="round" stroke-linecap="round" /><rect x="123" y="463.5" width="295.5" height="238.0" fill="none" stroke="#000" stroke-width="1.7"/><line x1="118.5" y1="701.5" x2="123" y2="701.5" stroke="#000" stroke-width="1.4" /><text x="116.5" y="706.4" font-size="13.6" font-weight="bold" text-anchor="end" fill="#000" >0.0</text><line x1="120.5" y1="683.2" x2="123" y2="683.2" stroke="#000" stroke-width="1.4" /><line x1="118.5" y1="664.9" x2="123" y2="664.9" stroke="#000" stroke-width="1.4" /><text x="116.5" y="669.8" font-size="13.6" font-weight="bold" text-anchor="end" fill="#000" >0.2</text><line x1="120.5" y1="646.6" x2="123" y2="646.6" stroke="#000" stroke-width="1.4" /><line x1="118.5" y1="628.3" x2="123" y2="628.3" stroke="#000" stroke-width="1.4" /><text x="116.5" y="633.2" font-size="13.6" font-weight="bold" text-anchor="end" fill="#000" >0.4</text><line x1="120.5" y1="610" x2="123" y2="610" stroke="#000" stroke-width="1.4" /><line x1="118.5" y1="591.7" x2="123" y2="591.7" stroke="#000" stroke-width="1.4" /><text x="116.5" y="596.6" font-size="13.6" font-weight="bold" text-anchor="end" fill="#000" >0.6</text><line x1="120.5" y1="573.4" x2="123" y2="573.4" stroke="#000" stroke-width="1.4" /><line x1="118.5" y1="555.1" x2="123" y2="555.1" stroke="#000" stroke-width="1.4" /><text x="116.5" y="560" font-size="13.6" font-weight="bold" text-anchor="end" fill="#000" >0.8</text><line x1="120.5" y1="536.8" x2="123" y2="536.8" stroke="#000" stroke-width="1.4" /><line x1="118.5" y1="518.5" x2="123" y2="518.5" stroke="#000" stroke-width="1.4" /><text x="116.5" y="523.4" font-size="13.6" font-weight="bold" text-anchor="end" fill="#000" >1.0</text><line x1="120.5" y1="500.2" x2="123" y2="500.2" stroke="#000" stroke-width="1.4" /><line x1="118.5" y1="481.9" x2="123" y2="481.9" stroke="#000" stroke-width="1.4" /><text x="116.5" y="486.8" font-size="13.6" font-weight="bold" text-anchor="end" fill="#000" >1.2</text><line x1="120.5" y1="463.6" x2="123" y2="463.6" stroke="#000" stroke-width="1.4" /><line x1="123" y1="701.5" x2="123" y2="706" stroke="#000" stroke-width="1.4" /><text x="123" y="720.7" font-size="13.3" font-weight="bold" text-anchor="middle" fill="#000" clip-path="url(#clipd)">18960</text><line x1="159.94" y1="701.5" x2="159.94" y2="704" stroke="#000" stroke-width="1.4" /><line x1="196.88" y1="701.5" x2="196.88" y2="706" stroke="#000" stroke-width="1.4" /><text x="196.88" y="720.7" font-size="13.3" font-weight="bold" text-anchor="middle" fill="#000" clip-path="url(#clipd)">18990</text><line x1="233.81" y1="701.5" x2="233.81" y2="704" stroke="#000" stroke-width="1.4" /><line x1="270.75" y1="701.5" x2="270.75" y2="706" stroke="#000" stroke-width="1.4" /><text x="270.75" y="720.7" font-size="13.3" font-weight="bold" text-anchor="middle" fill="#000" clip-path="url(#clipd)">19020</text><line x1="307.69" y1="701.5" x2="307.69" y2="704" stroke="#000" stroke-width="1.4" /><line x1="344.62" y1="701.5" x2="344.62" y2="706" stroke="#000" stroke-width="1.4" /><text x="344.62" y="720.7" font-size="13.3" font-weight="bold" text-anchor="middle" fill="#000" clip-path="url(#clipd)">19050</text><line x1="381.56" y1="701.5" x2="381.56" y2="704" stroke="#000" stroke-width="1.4" /><line x1="418.5" y1="701.5" x2="418.5" y2="706" stroke="#000" stroke-width="1.4" /><text x="418.5" y="720.7" font-size="13.3" font-weight="bold" text-anchor="middle" fill="#000" clip-path="url(#clipd)">19080</text><text x="271" y="743.6" font-size="14.4" font-weight="bold" text-anchor="middle" fill="#000" >Energy (eV)</text><text x="0" y="0" font-size="14.6" font-weight="bold" text-anchor="middle" fill="#000" transform="translate(87,582) rotate(-90)">Normalized Absorption</text><rect x="290" y="545.7" width="98.6" height="79.3" fill="none" stroke="#000" stroke-width="1.3" stroke-dasharray="1.3,3.2"/><line x1="327.4" y1="624.6" x2="357.6" y2="546.6" stroke="#000" stroke-width="1.0" /><line x1="325.4" y1="624.6" x2="355.6" y2="546.6" stroke="#f00" stroke-width="1.0" /><rect x="221.5" y="588.5" width="13" height="11" fill="none" stroke="#000" stroke-width="1.2"/><line x1="235.5" y1="592.3" x2="284" y2="590.3" stroke="#888" stroke-width="1.1" /><polygon points="290,590.1 282,587.3 282.4,593" fill="#888"/><line x1="328.5" y1="656" x2="356" y2="656" stroke="#f00" stroke-width="1.7" /><text x="360.5" y="660.7" font-size="13.1" font-weight="bold" text-anchor="start" fill="#000" >L-NbO</text><line x1="328.5" y1="672.5" x2="356" y2="672.5" stroke="#000" stroke-width="1.7" /><text x="360.5" y="677.2" font-size="13.1" font-weight="bold" text-anchor="start" fill="#000" >CN-NbO</text><line x1="328.5" y1="690" x2="356" y2="690" stroke="#00e600" stroke-width="1.7" /><text x="360.5" y="694.7" font-size="13.1" font-weight="bold" text-anchor="start" fill="#000" >Nb foil</text><text x="59" y="478.2" font-size="27.5" font-weight="normal" text-anchor="start" fill="#000" stroke="#000" stroke-width="0.45" letter-spacing="1.2">(d)</text><polyline points="491.2,686.2 492.07,685.94 493.24,685.56 494.63,685.11 496.18,684.63 497.79,684.16 499.4,683.75 500.93,683.45 502.3,683.3 503.52,683.37 504.66,683.64 505.74,684.03 506.81,684.47 507.89,684.9 509.01,685.23 510.21,685.38 511.5,685.3 512.94,684.9 514.5,684.23 516.15,683.37 517.83,682.42 519.5,681.48 521.12,680.64 522.64,679.98 524,679.6 525.21,679.65 526.3,680.09 527.3,680.76 528.24,681.51 529.15,682.16 530.04,682.57 530.95,682.57 531.9,682 532.91,680.73 533.97,678.86 535.05,676.58 536.11,674.04 537.14,671.44 538.1,668.95 538.96,666.75 539.7,665 540.26,663.8 540.64,663.02 540.9,662.5 541.11,662.11 541.33,661.68 541.6,661.06 542.01,660.12 542.6,658.7 543.37,656.73 544.26,654.32 545.25,651.59 546.32,648.68 547.45,645.69 548.62,642.77 549.81,640.03 551,637.6 552.24,635.48 553.58,633.57 554.97,631.8 556.38,630.11 557.78,628.44 559.12,626.72 560.37,624.89 561.5,622.9 562.49,620.8 563.37,618.67 564.17,616.49 564.91,614.24 565.62,611.89 566.32,609.41 567.04,606.79 567.8,604 568.59,600.92 569.38,597.54 570.16,593.96 570.95,590.28 571.74,586.61 572.52,583.05 573.31,579.72 574.1,576.7 574.89,573.85 575.68,570.99 576.46,568.23 577.25,565.64 578.04,563.32 578.83,561.36 579.61,559.86 580.4,558.9 581.19,558.5 581.98,558.59 582.76,559.1 583.55,559.99 584.34,561.2 585.13,562.68 585.91,564.36 586.7,566.2 587.47,568.16 588.23,570.27 588.97,572.6 589.72,575.19 590.48,578.1 591.28,581.38 592.11,585.1 593,589.3 593.95,594.33 594.95,600.29 596,606.85 597.07,613.71 598.16,620.53 599.25,626.99 600.34,632.79 601.4,637.6 602.46,641.41 603.52,644.54 604.59,647.11 605.66,649.27 606.72,651.16 607.77,652.92 608.8,654.68 609.8,656.6 610.77,658.7 611.72,660.87 612.65,663.01 613.57,665.04 614.48,666.87 615.38,668.4 616.29,669.54 617.2,670.2 618.13,670.28 619.06,669.8 620,668.92 620.93,667.75 621.85,666.43 622.76,665.1 623.65,663.87 624.5,662.9 625.28,661.98 625.97,660.92 626.62,659.81 627.26,658.76 627.94,657.88 628.7,657.27 629.57,657.04 630.6,657.3 631.79,658.37 633.09,660.3 634.5,662.76 635.99,665.42 637.55,667.95 639.16,670.02 640.82,671.32 642.5,671.5 644.23,670.25 646.04,667.75 647.91,664.41 649.82,660.64 651.76,656.86 653.71,653.48 655.67,650.92 657.6,649.6 659.53,649.74 661.46,651.06 663.41,653.17 665.37,655.7 667.33,658.27 669.29,660.49 671.25,661.99 673.2,662.4 675.18,661.44 677.2,659.36 679.23,656.55 681.26,653.41 683.26,650.32 685.2,647.67 687.05,645.87 688.8,645.3 690.43,645.94 691.95,647.41 693.39,649.55 694.77,652.23 696.12,655.28 697.46,658.56 698.81,661.91 700.2,665.2 701.62,668.86 703.03,673.22 704.44,677.98 705.85,682.81 707.26,687.39 708.67,691.41 710.08,694.55 711.5,696.5 712.9,696.99 714.28,696.22 715.64,694.54 717.02,692.31 718.42,689.9 719.85,687.65 721.34,685.93 722.9,685.1 724.51,685.16 726.15,685.77 727.83,686.78 729.56,688.03 731.34,689.35 733.18,690.59 735.1,691.59 737.1,692.2 739.16,692.38 741.26,692.27 743.41,691.96 745.64,691.56 747.96,691.14 750.38,690.81 752.92,690.67 755.6,690.8 758.5,691.26 761.64,692 764.94,692.91 768.32,693.91 771.71,694.9 775.02,695.81 778.18,696.54 781.1,697 783.76,697.18 786.24,697.16 788.58,696.99 790.83,696.72 793.05,696.39 795.28,696.04 797.58,695.73 800,695.5 802.67,695.32 805.59,695.13 808.64,694.94 811.68,694.76 814.57,694.58 817.18,694.43 819.37,694.3 821,694.2" fill="none" stroke="#00f" stroke-width="2.0" stroke-linejoin="round" stroke-linecap="round" /><polyline points="491.2,670.8 492.07,669.77 493.25,668.28 494.66,666.49 496.21,664.57 497.83,662.69 499.44,661.02 500.96,659.74 502.3,659 503.49,659.11 504.62,660.05 505.7,661.48 506.74,663.06 507.77,664.46 508.79,665.36 509.83,665.42 510.9,664.3 512.01,661.84 513.15,658.27 514.31,653.9 515.47,649 516.6,643.87 517.7,638.8 518.74,634.08 519.7,630 520.58,626.41 521.38,622.97 522.12,619.69 522.83,616.56 523.51,613.6 524.19,610.8 524.88,608.16 525.6,605.7 526.34,603.41 527.08,601.3 527.82,599.35 528.56,597.56 529.29,595.94 530.03,594.47 530.77,593.16 531.5,592 532.2,591.05 532.86,590.33 533.5,589.81 534.15,589.42 534.83,589.12 535.56,588.87 536.38,588.61 537.3,588.3 538.35,587.91 539.53,587.49 540.8,587.07 542.11,586.68 543.45,586.37 544.76,586.18 546.03,586.15 547.2,586.3 548.31,586.69 549.38,587.29 550.43,588.05 551.45,588.92 552.44,589.85 553.39,590.79 554.31,591.69 555.2,592.5 556.05,593.35 556.85,594.35 557.62,595.41 558.36,596.42 559.08,597.31 559.77,597.96 560.44,598.29 561.1,598.2 561.73,597.78 562.3,597.15 562.85,596.29 563.38,595.16 563.91,593.71 564.46,591.93 565.05,589.77 565.7,587.2 566.39,583.99 567.12,580.08 567.86,575.68 568.64,571 569.44,566.24 570.27,561.62 571.12,557.33 572,553.6 572.93,550.22 573.93,546.91 574.98,543.76 576.04,540.83 577.09,538.21 578.12,535.98 579.1,534.22 580,533 580.81,532.28 581.55,531.96 582.24,532.05 582.89,532.56 583.55,533.49 584.22,534.86 584.93,536.66 585.7,538.9 586.54,541.67 587.44,545.01 588.36,548.83 589.31,553.05 590.27,557.61 591.21,562.42 592.12,567.41 593,572.5 593.82,577.98 594.6,584.03 595.34,590.45 596.08,597.04 596.83,603.57 597.6,609.85 598.42,615.66 599.3,620.8 600.25,625.34 601.24,629.51 602.27,633.33 603.34,636.84 604.42,640.05 605.52,643 606.61,645.71 607.7,648.2 608.81,650.46 609.96,652.45 611.14,654.18 612.31,655.65 613.47,656.87 614.58,657.85 615.63,658.59 616.6,659.1 617.47,659.28 618.26,659.09 618.98,658.61 619.66,657.91 620.32,657.07 620.99,656.17 621.67,655.29 622.4,654.5 623.11,653.55 623.76,652.24 624.4,650.77 625.05,649.32 625.77,648.11 626.59,647.3 627.55,647.1 628.7,647.7 630.06,649.52 631.59,652.55 633.27,656.35 635.05,660.49 636.9,664.51 638.78,667.98 640.66,670.46 642.5,671.5 644.34,670.8 646.23,668.66 648.15,665.52 650.08,661.83 652.01,658.04 653.92,654.59 655.79,651.92 657.6,650.5 659.33,650.47 660.98,651.49 662.58,653.22 664.16,655.32 665.76,657.49 667.39,659.37 669.1,660.65 670.9,661 672.76,659.97 674.62,657.69 676.52,654.68 678.47,651.45 680.52,648.53 682.67,646.44 684.95,645.69 687.4,646.8 690.14,650.38 693.19,656.2 696.44,663.5 699.77,671.56 703.06,679.63 706.19,686.97 709.04,692.84 711.5,696.5 713.51,697.73 715.18,697.15 716.58,695.25 717.82,692.55 718.98,689.54 720.15,686.73 721.43,684.61 722.9,683.7 724.54,684.01 726.25,685.08 728.02,686.66 729.82,688.54 731.65,690.46 733.48,692.2 735.31,693.53 737.1,694.2 738.87,694.13 740.62,693.51 742.36,692.52 744.11,691.32 745.87,690.09 747.65,689.01 749.46,688.26 751.3,688 753.19,688.28 755.13,688.93 757.11,689.86 759.1,690.97 761.09,692.14 763.07,693.27 765.01,694.26 766.9,695 768.75,695.55 770.58,696.03 772.39,696.43 774.18,696.76 775.94,697.02 777.68,697.19 779.4,697.29 781.1,697.3 782.77,697.16 784.4,696.85 786,696.41 787.59,695.92 789.16,695.42 790.73,694.98 792.31,694.66 793.9,694.5 795.49,694.56 797.06,694.79 798.63,695.14 800.21,695.54 801.79,695.94 803.39,696.27 805.03,696.48 806.7,696.5 808.51,696.3 810.5,695.93 812.58,695.44 814.65,694.88 816.62,694.3 818.4,693.76 819.89,693.31 821,693" fill="none" stroke="#f00" stroke-width="2.0" stroke-linejoin="round" stroke-linecap="round" /><line x1="512.1" y1="467.3" x2="512.1" y2="698.4" stroke="#000" stroke-width="1.2" stroke-dasharray="5,3.5"/><line x1="617.2" y1="467.3" x2="617.2" y2="698.4" stroke="#000" stroke-width="1.2" stroke-dasharray="5,3.5"/><line x1="713.5" y1="590" x2="713.5" y2="698.4" stroke="#000" stroke-width="1.2" stroke-dasharray="5,3.5"/><rect x="490.9" y="467.5" width="330.1" height="230.89999999999998" fill="none" stroke="#000" stroke-width="1.8"/><line x1="486.4" y1="698.4" x2="490.9" y2="698.4" stroke="#000" stroke-width="1.4" /><text x="483.4" y="703.4" font-size="14.5" font-weight="bold" text-anchor="end" fill="#000" >0.0</text><line x1="488.4" y1="675.31" x2="490.9" y2="675.31" stroke="#000" stroke-width="1.4" /><line x1="486.4" y1="652.22" x2="490.9" y2="652.22" stroke="#000" stroke-width="1.4" /><text x="483.4" y="657.22" font-size="14.5" font-weight="bold" text-anchor="end" fill="#000" >0.2</text><line x1="488.4" y1="629.13" x2="490.9" y2="629.13" stroke="#000" stroke-width="1.4" /><line x1="486.4" y1="606.04" x2="490.9" y2="606.04" stroke="#000" stroke-width="1.4" /><text x="483.4" y="611.04" font-size="14.5" font-weight="bold" text-anchor="end" fill="#000" >0.4</text><line x1="488.4" y1="582.95" x2="490.9" y2="582.95" stroke="#000" stroke-width="1.4" /><line x1="486.4" y1="559.86" x2="490.9" y2="559.86" stroke="#000" stroke-width="1.4" /><text x="483.4" y="564.86" font-size="14.5" font-weight="bold" text-anchor="end" fill="#000" >0.6</text><line x1="488.4" y1="536.77" x2="490.9" y2="536.77" stroke="#000" stroke-width="1.4" /><line x1="486.4" y1="513.68" x2="490.9" y2="513.68" stroke="#000" stroke-width="1.4" /><text x="483.4" y="518.68" font-size="14.5" font-weight="bold" text-anchor="end" fill="#000" >0.8</text><line x1="488.4" y1="490.59" x2="490.9" y2="490.59" stroke="#000" stroke-width="1.4" /><line x1="486.4" y1="467.5" x2="490.9" y2="467.5" stroke="#000" stroke-width="1.4" /><text x="483.4" y="472.5" font-size="14.5" font-weight="bold" text-anchor="end" fill="#000" >1.0</text><line x1="490.9" y1="698.4" x2="490.9" y2="702.7" stroke="#000" stroke-width="1.4" /><text x="490.9" y="718.1" font-size="14" font-weight="bold" text-anchor="middle" fill="#000" >0</text><line x1="600.93" y1="698.4" x2="600.93" y2="702.7" stroke="#000" stroke-width="1.4" /><text x="600.93" y="718.1" font-size="14" font-weight="bold" text-anchor="middle" fill="#000" >2</text><line x1="710.97" y1="698.4" x2="710.97" y2="702.7" stroke="#000" stroke-width="1.4" /><text x="710.97" y="718.1" font-size="14" font-weight="bold" text-anchor="middle" fill="#000" >4</text><line x1="821" y1="698.4" x2="821" y2="702.7" stroke="#000" stroke-width="1.4" /><text x="821" y="718.1" font-size="14" font-weight="bold" text-anchor="middle" fill="#000" >6</text><text x="655.5" y="739" font-size="15" font-weight="bold" text-anchor="middle" fill="#000" >R(Å)</text><text x="0" y="0" font-size="14.3" font-weight="bold" text-anchor="middle" fill="#000" transform="translate(451.3,583) rotate(-90)"><tspan font-style="italic" font-weight="normal">χ</tspan>(R)(A<tspan dy="-6" font-size="10">-3</tspan><tspan dy="6">)</tspan></text><line x1="515" y1="517" x2="612.5" y2="517" stroke="#000" stroke-width="1.3" /><polygon points="521,514.4 513.5,517 521,519.6" fill="#000"/><polygon points="606.5,514.4 614.0,517 606.5,519.6" fill="#000"/><line x1="624" y1="618.4" x2="707.5" y2="618.4" stroke="#000" stroke-width="1.3" /><polygon points="630,615.8 622.5,618.4 630,621.0" fill="#000"/><polygon points="701.5,615.8 709.0,618.4 701.5,621.0" fill="#000"/><text x="564" y="502.5" font-size="12" font-weight="bold" text-anchor="middle" fill="#000" >Nb-O bonds</text><text x="666" y="608.5" font-size="12" font-weight="bold" text-anchor="middle" fill="#000" >Nb-Nb vectors</text><line x1="716.4" y1="483.2" x2="752.8" y2="483.2" stroke="#00f" stroke-width="1.9" /><text x="756.5" y="488.5" font-size="15.4" font-weight="bold" text-anchor="start" fill="#000" >L-NbO</text><line x1="716.4" y1="502.7" x2="752.8" y2="502.7" stroke="#f00" stroke-width="1.9" /><text x="756.5" y="508" font-size="15.4" font-weight="bold" text-anchor="start" fill="#000" >CN-NbO</text><text x="423" y="478.2" font-size="27.5" font-weight="normal" text-anchor="start" fill="#000" stroke="#000" stroke-width="0.45" letter-spacing="1.0">(e)</text><line x1="1033.1" y1="701.2" x2="1111" y2="556" stroke="#000" stroke-width="1.2" stroke-dasharray="4.5,3.5"/><line x1="1095.8" y1="698.5" x2="1136" y2="548.8" stroke="#000" stroke-width="1.2" stroke-dasharray="4.5,3.5"/><polyline points="916,699.8 917.51,699.34 919.52,698.75 921.91,698.04 924.57,697.24 927.38,696.39 930.23,695.49 933.01,694.59 935.6,693.7 938.06,692.81 940.52,691.88 942.98,690.93 945.44,689.94 947.91,688.94 950.37,687.91 952.84,686.86 955.3,685.8 957.76,684.72 960.22,683.61 962.69,682.47 965.15,681.32 967.61,680.15 970.07,678.97 972.54,677.79 975,676.6 977.46,675.42 979.92,674.25 982.39,673.07 984.85,671.89 987.31,670.68 989.77,669.43 992.24,668.14 994.7,666.8 997.16,665.41 999.62,663.98 1002.09,662.52 1004.55,661.01 1007.01,659.47 1009.48,657.89 1011.94,656.27 1014.4,654.6 1016.86,652.89 1019.32,651.14 1021.79,649.35 1024.25,647.52 1026.71,645.65 1029.17,643.74 1031.64,641.79 1034.1,639.8 1036.56,637.76 1039.02,635.67 1041.49,633.53 1043.95,631.36 1046.41,629.16 1048.88,626.94 1051.34,624.72 1053.8,622.5 1056.34,620.21 1058.99,617.82 1061.68,615.37 1064.35,612.92 1066.93,610.55 1069.36,608.3 1071.57,606.23 1073.5,604.4 1075.1,602.87 1076.4,601.59 1077.49,600.5 1078.42,599.54 1079.27,598.62 1080.1,597.69 1080.99,596.67 1082,595.5 1083.1,594.19 1084.21,592.83 1085.34,591.42 1086.47,589.98 1087.6,588.5 1088.74,587.01 1089.87,585.5 1091,584 1092.12,582.5 1093.23,581.01 1094.33,579.5 1095.44,577.98 1096.55,576.42 1097.68,574.83 1098.83,573.19 1100,571.5 1101.22,569.72 1102.5,567.86 1103.81,565.93 1105.12,563.97 1106.43,562.02 1107.69,560.08 1108.89,558.2 1110,556.4 1111,554.71 1111.9,553.1 1112.73,551.56 1113.53,550.04 1114.32,548.5 1115.14,546.93 1116.03,545.27 1117,543.5 1118.07,541.61 1119.2,539.64 1120.38,537.6 1121.59,535.51 1122.83,533.38 1124.07,531.24 1125.3,529.11 1126.5,527 1127.69,524.88 1128.9,522.7 1130.1,520.51 1131.31,518.31 1132.5,516.14 1133.69,514.02 1134.86,511.96 1136,510 1137.13,508.12 1138.25,506.29 1139.37,504.51 1140.46,502.78 1141.54,501.12 1142.59,499.51 1143.61,497.97 1144.6,496.5 1145.59,495.06 1146.61,493.62 1147.62,492.23 1148.59,490.91 1149.49,489.69 1150.3,488.61 1150.98,487.71 1151.5,487" fill="none" stroke="#00f" stroke-width="2.0" stroke-linejoin="round" stroke-linecap="round" /><polyline points="914.3,701.5 915.86,701.29 917.86,701 920.22,700.65 922.89,700.27 925.83,699.89 928.96,699.54 932.24,699.23 935.6,699 939.05,698.84 942.63,698.74 946.37,698.67 950.31,698.62 954.46,698.61 958.86,698.6 963.53,698.6 968.5,698.6 973.87,698.61 979.65,698.64 985.76,698.7 992.08,698.76 998.53,698.82 1005.02,698.86 1011.44,698.9 1017.7,698.9 1024.06,698.88 1030.71,698.84 1037.48,698.78 1044.19,698.72 1050.66,698.64 1056.72,698.56 1062.2,698.48 1066.9,698.4 1070.81,698.33 1074.09,698.27 1076.82,698.21 1079.12,698.15 1081.08,698.07 1082.79,697.95 1084.37,697.8 1085.9,697.6 1087.26,697.35 1088.31,697.06 1089.1,696.73 1089.71,696.37 1090.19,695.98 1090.63,695.57 1091.07,695.14 1091.6,694.7 1092.16,694.24 1092.67,693.78 1093.14,693.29 1093.58,692.78 1094.01,692.24 1094.43,691.66 1094.86,691.05 1095.3,690.4 1095.75,689.72 1096.21,689.01 1096.66,688.28 1097.11,687.51 1097.55,686.7 1098,685.83 1098.45,684.9 1098.9,683.9 1099.35,682.83 1099.8,681.7 1100.25,680.5 1100.7,679.26 1101.15,677.96 1101.6,676.61 1102.05,675.23 1102.5,673.8 1102.96,672.29 1103.44,670.66 1103.92,668.95 1104.39,667.22 1104.86,665.49 1105.31,663.82 1105.72,662.24 1106.1,660.8 1106.36,659.79 1106.47,659.32 1106.51,659.09 1106.54,658.84 1106.66,658.28 1106.92,657.14 1107.41,655.14 1108.2,652 1109.37,647.4 1110.88,641.47 1112.63,634.6 1114.53,627.19 1116.46,619.63 1118.33,612.31 1120.05,605.64 1121.5,600 1122.71,595.32 1123.78,591.17 1124.75,587.47 1125.63,584.11 1126.44,581 1127.23,578.05 1128.01,575.15 1128.8,572.2 1129.61,569.25 1130.4,566.41 1131.18,563.69 1131.92,561.08 1132.64,558.6 1133.31,556.26 1133.93,554.06 1134.5,552 1134.98,550.16 1135.35,548.55 1135.67,547.12 1135.94,545.8 1136.22,544.54 1136.54,543.28 1136.92,541.95 1137.4,540.5 1137.97,538.97 1138.6,537.42 1139.27,535.86 1139.99,534.27 1140.74,532.65 1141.53,530.99 1142.35,529.27 1143.2,527.5 1144.14,525.54 1145.21,523.36 1146.36,521.05 1147.51,518.74 1148.62,516.53 1149.63,514.52 1150.48,512.85 1151.1,511.6" fill="none" stroke="#f00" stroke-width="2.0" stroke-linejoin="round" stroke-linecap="round" /><rect x="882.5" y="463.9" width="295.29999999999995" height="238.0" fill="none" stroke="#000" stroke-width="1.8"/><line x1="878" y1="701.9" x2="882.5" y2="701.9" stroke="#000" stroke-width="1.4" /><text x="876" y="706.9" font-size="14.3" font-weight="bold" text-anchor="end" fill="#000" >0</text><line x1="880" y1="683.52" x2="882.5" y2="683.52" stroke="#000" stroke-width="1.4" /><line x1="878" y1="665.14" x2="882.5" y2="665.14" stroke="#000" stroke-width="1.4" /><text x="876" y="670.14" font-size="14.3" font-weight="bold" text-anchor="end" fill="#000" >2</text><line x1="880" y1="646.76" x2="882.5" y2="646.76" stroke="#000" stroke-width="1.4" /><line x1="878" y1="628.38" x2="882.5" y2="628.38" stroke="#000" stroke-width="1.4" /><text x="876" y="633.38" font-size="14.3" font-weight="bold" text-anchor="end" fill="#000" >4</text><line x1="880" y1="610" x2="882.5" y2="610" stroke="#000" stroke-width="1.4" /><line x1="878" y1="591.62" x2="882.5" y2="591.62" stroke="#000" stroke-width="1.4" /><text x="876" y="596.62" font-size="14.3" font-weight="bold" text-anchor="end" fill="#000" >6</text><line x1="880" y1="573.24" x2="882.5" y2="573.24" stroke="#000" stroke-width="1.4" /><line x1="878" y1="554.86" x2="882.5" y2="554.86" stroke="#000" stroke-width="1.4" /><text x="876" y="559.86" font-size="14.3" font-weight="bold" text-anchor="end" fill="#000" >8</text><line x1="880" y1="536.48" x2="882.5" y2="536.48" stroke="#000" stroke-width="1.4" /><line x1="878" y1="518.1" x2="882.5" y2="518.1" stroke="#000" stroke-width="1.4" /><text x="876" y="523.1" font-size="14.3" font-weight="bold" text-anchor="end" fill="#000" >10</text><line x1="880" y1="499.72" x2="882.5" y2="499.72" stroke="#000" stroke-width="1.4" /><line x1="878" y1="481.34" x2="882.5" y2="481.34" stroke="#000" stroke-width="1.4" /><text x="876" y="486.34" font-size="14.3" font-weight="bold" text-anchor="end" fill="#000" >12</text><line x1="880" y1="462.96" x2="882.5" y2="462.96" stroke="#000" stroke-width="1.4" /><line x1="882.5" y1="701.9" x2="882.5" y2="706.4" stroke="#000" stroke-width="1.4" /><text x="882.5" y="720.3" font-size="13.8" font-weight="bold" text-anchor="middle" fill="#000" >0</text><line x1="915.25" y1="701.9" x2="915.25" y2="704.4" stroke="#000" stroke-width="1.4" /><line x1="948" y1="701.9" x2="948" y2="706.4" stroke="#000" stroke-width="1.4" /><text x="948" y="720.3" font-size="13.8" font-weight="bold" text-anchor="middle" fill="#000" >1</text><line x1="980.75" y1="701.9" x2="980.75" y2="704.4" stroke="#000" stroke-width="1.4" /><line x1="1013.5" y1="701.9" x2="1013.5" y2="706.4" stroke="#000" stroke-width="1.4" /><text x="1013.5" y="720.3" font-size="13.8" font-weight="bold" text-anchor="middle" fill="#000" >2</text><line x1="1046.25" y1="701.9" x2="1046.25" y2="704.4" stroke="#000" stroke-width="1.4" /><line x1="1079" y1="701.9" x2="1079" y2="706.4" stroke="#000" stroke-width="1.4" /><text x="1079" y="720.3" font-size="13.8" font-weight="bold" text-anchor="middle" fill="#000" >3</text><line x1="1111.75" y1="701.9" x2="1111.75" y2="704.4" stroke="#000" stroke-width="1.4" /><line x1="1144.5" y1="701.9" x2="1144.5" y2="706.4" stroke="#000" stroke-width="1.4" /><text x="1144.5" y="720.3" font-size="13.8" font-weight="bold" text-anchor="middle" fill="#000" >4</text><line x1="1177.25" y1="701.9" x2="1177.25" y2="704.4" stroke="#000" stroke-width="1.4" /><text x="1030" y="743" font-size="14.5" font-weight="bold" text-anchor="middle" fill="#000" >hυ (eV)</text><text x="0" y="0" font-size="15" font-weight="normal" text-anchor="middle" fill="#000" transform="translate(855,581) rotate(-90)" stroke="#000" stroke-width="0.25">(αhυ)<tspan dy="-7" font-size="10">2</tspan></text><line x1="918.6" y1="498.7" x2="950" y2="498.7" stroke="#00f" stroke-width="1.7" /><text x="953" y="504" font-size="13.5" font-weight="bold" text-anchor="start" fill="#000" >L-NbO</text><line x1="918.6" y1="515.1" x2="950" y2="515.1" stroke="#f00" stroke-width="1.7" /><text x="953" y="520.4" font-size="13.5" font-weight="bold" text-anchor="start" fill="#000" >C-NbO</text><text x="1011.5" y="688.8" font-size="12.1" font-weight="bold" text-anchor="middle" fill="#00f" >2.30 eV</text><text x="1140.5" y="686.6" font-size="12.1" font-weight="bold" text-anchor="middle" fill="#f00" >3.23 eV</text><text x="824.5" y="478.5" font-size="27.5" font-weight="normal" text-anchor="start" fill="#000" stroke="#000" stroke-width="0.45" letter-spacing="1.3">(g)</text><polyline points="870.5,137.16 870.9,136.29 871.3,135.56 871.7,136.64 872.1,136.6 872.5,136.89 872.9,135.65 873.3,136.8 873.7,136.4 874.1,134.87 874.5,136.71 874.9,135.69 875.3,136.32 875.7,138.13 876.1,138.34 876.5,138.77 876.9,137.7 877.3,137.99 877.7,137.94 878.1,137.93 878.5,138 878.9,138.26 879.3,138.11 879.7,140.2 880.1,140.37 880.5,137.59 880.9,136.54 881.3,138.22 881.7,140.11 882.1,139.83 882.5,140.47 882.9,139.54 883.3,139.25 883.7,139.11 884.1,135.9 884.5,137.87 884.9,136.82 885.3,133.88 885.7,132.97 886.1,135.46 886.5,135.12 886.9,137.51 887.3,137.24 887.7,138.96 888.1,139 888.5,140.14 888.9,139.22 889.3,137.87 889.7,138.15 890.1,137.68 890.5,138.08 890.9,139.12 891.3,137.29 891.7,137.89 892.1,138.47 892.5,138.7 892.9,137.39 893.3,135.79 893.7,138.88 894.1,137.67 894.5,135.31 894.9,137.1 895.3,136.26 895.7,136.12 896.1,135.43 896.5,135.87 896.9,136.01 897.3,138.23 897.7,136.08 898.1,135.77 898.5,136.51 898.9,137.03 899.3,133.76 899.7,133.94 900.1,135.25 900.5,134.11 900.9,136.79 901.3,135.72 901.7,136.01 902.1,136.67 902.5,135.42 902.9,134.31 903.3,135.14 903.7,136.59 904.1,135.9 904.5,136.42 904.9,136.45 905.3,134.58 905.7,133.5 906.1,133.37 906.5,134.14 906.9,134.82 907.3,135.79 907.7,135.15 908.1,133.6 908.5,132.9 908.9,133.61 909.3,134.37 909.7,133.82 910.1,132.92 910.5,133.88 910.9,134.01 911.3,132.36 911.7,132.75 912.1,132.5 912.5,132.51 912.9,131.67 913.3,131.68 913.7,133.8 914.1,133.89 914.5,135.19 914.9,135.46 915.3,133.31 915.7,133.72 916.1,135.87 916.5,136.3 916.9,134.32 917.3,133.54 917.7,133.56 918.1,135.04 918.5,133.8 918.9,136.45 919.3,134.97 919.7,136.41 920.1,133.76 920.5,134.85 920.9,134.5 921.3,133.92 921.7,135.4 922.1,136.03 922.5,135.42 922.9,134.83 923.3,132.65 923.7,133.6 924.1,134.48 924.5,134.82 924.9,134.75 925.3,133.36 925.7,133.05 926.1,133.17 926.5,132.05 926.9,133.88 927.3,133.68 927.7,130.83 928.1,130.94 928.5,129.25 928.9,130.4 929.3,131.89 929.7,134.57 930.1,135.46 930.5,135.61 930.9,135.29 931.3,136.76 931.7,136.65 932.1,135.8 932.5,135.91 932.9,135.46 933.3,135.56 933.7,136.43 934.1,135.12 934.5,133.96 934.9,134.24 935.3,132.8 935.7,134.33 936.1,132.81 936.5,131.14 936.9,132.91 937.3,133.07 937.7,133.27 938.1,133.07 938.5,135.04 938.9,136.78 939.3,136.77 939.7,136.07 940.1,138.08 940.5,138.9 940.9,138.04 941.3,140.15 941.7,138.11 942.1,138.81 942.5,137.44 942.9,136.87 943.3,136.49 943.7,136.85 944.1,137.64 944.5,136.94 944.9,136.33 945.3,135.09 945.7,136.27 946.1,135.48 946.5,136.23 946.9,134.56 947.3,135.21 947.7,134.61 948.1,133.03 948.5,133.97 948.9,132.04 949.3,132.82 949.7,130.31 950.1,130.52 950.5,131.56 950.9,131.29 951.3,131.22 951.7,127.46 952.1,120.41 952.5,123.2 952.9,120.06 953.3,131.48 953.7,120.46 954.1,131.23 954.5,115.03 954.9,121.43 955.3,117.17 955.7,121.94 956.1,115.69 956.5,120.37 956.9,118.75 957.3,117.39 957.7,124.6 958.1,122.54 958.5,117.91 958.9,115.34 959.3,122.43 959.7,121.26 960.1,126.84 960.5,122.91 960.9,114.79 961.3,119.36 961.7,122.45 962.1,123.07 962.5,119.58 962.9,119.33 963.3,110.89 963.7,115.14 964.1,119.82 964.5,121.93 964.9,118.79 965.3,110.21 965.7,118.76 966.1,118.09 966.5,121.4 966.9,113.63 967.3,122.05 967.7,114.05 968.1,118.57 968.5,114.65 968.9,119.96 969.3,118.2 969.7,110.86 970.1,112.66 970.5,117.98 970.9,118.51 971.3,124.2 971.7,125.71 972.1,126.14 972.5,126.6 972.9,128.47 973.3,128.15 973.7,130.78 974.1,132.48 974.5,134.3 974.9,132.78 975.3,134.26 975.7,138.06 976.1,140.31 976.5,139.74 976.9,142.53 977.3,141.8 977.7,142.23 978.1,143.57 978.5,146.05 978.9,146.16 979.3,147.18 979.7,149.51 980.1,151.34 980.5,149.98 980.9,153.43 981.3,151.75 981.7,153.42 982.1,153.68 982.5,153.01 982.9,153.86 983.3,156.33 983.7,159.34 984.1,158.78 984.5,159.18 984.9,159.94" fill="none" stroke="#138013" stroke-width="1.3" stroke-linejoin="round" stroke-linecap="round" /><polyline points="870.5,182.18 870.9,180.98 871.3,178.66 871.7,179.16 872.1,178.32 872.5,178.05 872.9,176.4 873.3,178 873.7,177.63 874.1,178.87 874.5,178.55 874.9,178.81 875.3,177.83 875.7,177.67 876.1,179.75 876.5,179.11 876.9,179.34 877.3,176.99 877.7,176.92 878.1,177.09 878.5,177.45 878.9,177.07 879.3,175.73 879.7,175.06 880.1,175.82 880.5,178.22 880.9,176.61 881.3,177.36 881.7,176.05 882.1,176.64 882.5,177.57 882.9,180.18 883.3,177.55 883.7,180.83 884.1,179.85 884.5,179.42 884.9,180.51 885.3,181.19 885.7,177.82 886.1,178.85 886.5,179.5 886.9,180.54 887.3,180.12 887.7,177.28 888.1,179.37 888.5,179.24 888.9,180.18 889.3,181.11 889.7,181.4 890.1,180.89 890.5,180.93 890.9,180.26 891.3,179.03 891.7,180.83 892.1,180.8 892.5,180.27 892.9,179.53 893.3,180.87 893.7,179.71 894.1,179.39 894.5,179.15 894.9,178.31 895.3,176.55 895.7,178.16 896.1,178.22 896.5,179.7 896.9,177.99 897.3,180.58 897.7,179.34 898.1,180.03 898.5,183.17 898.9,180.93 899.3,181.54 899.7,180.03 900.1,179.22 900.5,179.63 900.9,181.9 901.3,184.72 901.7,184.92 902.1,184.67 902.5,180.48 902.9,182.66 903.3,182.97 903.7,183.4 904.1,182.73 904.5,182.84 904.9,183.26 905.3,185.31 905.7,183.49 906.1,184.19 906.5,184.7 906.9,185.51 907.3,187.07 907.7,187.24 908.1,185.82 908.5,186.23 908.9,185.36 909.3,187.75 909.7,186.2 910.1,186.36 910.5,184.51 910.9,185.57 911.3,186.21 911.7,184.12 912.1,186.44 912.5,187.7 912.9,184.61 913.3,186.74 913.7,187.44 914.1,185.39 914.5,185.72 914.9,186.65 915.3,185.95 915.7,185.99 916.1,183.76 916.5,184.42 916.9,183.35 917.3,184.02 917.7,184.61 918.1,185.82 918.5,187.09 918.9,186.65 919.3,183.93 919.7,185.83 920.1,185.29 920.5,185.3 920.9,185.82 921.3,185.26 921.7,181.95 922.1,183.2 922.5,181.95 922.9,181.49 923.3,180.84 923.7,182.55 924.1,183.12 924.5,181.18 924.9,181.98 925.3,184.07 925.7,180.7 926.1,181.05 926.5,181.73 926.9,180.66 927.3,181.08 927.7,183.95 928.1,182.32 928.5,182.58 928.9,183.05 929.3,182.96 929.7,182.85 930.1,181.84 930.5,182.71 930.9,183.63 931.3,183.54 931.7,185.15 932.1,183.72 932.5,184.73 932.9,184.45 933.3,184.21 933.7,184.5 934.1,183.14 934.5,184.01 934.9,182.46 935.3,184.4 935.7,182.56 936.1,183.71 936.5,185.24 936.9,182.35 937.3,181.73 937.7,183.27 938.1,180.77 938.5,182.79 938.9,180.3 939.3,181.81 939.7,179.65 940.1,179.78 940.5,178.36 940.9,179.78 941.3,177.78 941.7,178.91 942.1,179.33 942.5,177.43 942.9,180.81 943.3,179.12 943.7,182.06 944.1,181.07 944.5,181.76 944.9,180.01 945.3,180.58 945.7,180.58 946.1,182.04 946.5,182.95 946.9,184.52 947.3,185.62 947.7,186.49 948.1,185.11 948.5,186.75 948.9,186.39 949.3,185.78 949.7,185.97 950.1,184.96 950.5,186 950.9,187.64 951.3,189.87 951.7,194 952.1,190.18 952.5,189.13 952.9,194.22 953.3,196.38 953.7,189.37 954.1,200.2 954.5,200.66 954.9,196.07 955.3,194.12 955.7,202.29 956.1,204.4 956.5,191.43 956.9,202.65 957.3,199.88 957.7,188.51 958.1,187.81 958.5,190.91 958.9,200.22 959.3,190.28 959.7,194.57 960.1,201.23 960.5,195.17 960.9,193.1 961.3,191.26 961.7,203.87 962.1,190.93 962.5,199.42 962.9,198.17 963.3,194.62 963.7,198.95 964.1,203.04 964.5,201.09 964.9,198.66 965.3,207.98 965.7,200.41 966.1,197.17 966.5,193.93 966.9,204.02 967.3,194.56 967.7,198.31 968.1,197.95 968.5,188.26 968.9,190.5 969.3,195.98 969.7,201.9 970.1,198.8 970.5,189.42 970.9,193.86 971.3,191.33 971.7,191.06 972.1,190.17 972.5,188.18 972.9,188.42 973.3,185.48 973.7,186.28 974.1,185.65 974.5,183.14 974.9,184.01 975.3,182.42 975.7,182.15 976.1,179.94 976.5,177.42 976.9,179.42 977.3,176.64 977.7,177.64 978.1,177.95 978.5,174.9 978.9,174.93 979.3,175.09 979.7,173.17 980.1,171.4 980.5,172.99 980.9,171.96 981.3,172.19 981.7,170.03 982.1,167.94 982.5,165.39 982.9,164.78 983.3,164.85 983.7,163.08 984.1,159.52 984.5,159.15 984.9,157.52" fill="none" stroke="#138013" stroke-width="1.3" stroke-linejoin="round" stroke-linecap="round" /><polyline points="870.5,148.72 870.9,148.22 871.3,148.24 871.7,148.01 872.1,148.73 872.5,146.62 872.9,146.96 873.3,147.82 873.7,146.92 874.1,147 874.5,145.72 874.9,146.54 875.3,145.5 875.7,145.73 876.1,145.76 876.5,148.09 876.9,146.84 877.3,148.35 877.7,146.64 878.1,146.93 878.5,147.74 878.9,147.1 879.3,147.26 879.7,148.32 880.1,147.49 880.5,147.68 880.9,147.58 881.3,146.94 881.7,148.14 882.1,148.14 882.5,147.12 882.9,145.83 883.3,147 883.7,146.32 884.1,145.83 884.5,146.85 884.9,146.86 885.3,147.65 885.7,149.08 886.1,148.34 886.5,148.44 886.9,148.91 887.3,147.83 887.7,147.89 888.1,148.88 888.5,147.4 888.9,148.64 889.3,148.84 889.7,148.5 890.1,148.81 890.5,148.11 890.9,149.31 891.3,148.02 891.7,149 892.1,148.24 892.5,148.22 892.9,148.94 893.3,149.24 893.7,147.87 894.1,147.22 894.5,148.06 894.9,146.25 895.3,147.7 895.7,147.28 896.1,145.79 896.5,146.9 896.9,146.31 897.3,145.91 897.7,144.78 898.1,146.37 898.5,144.7 898.9,144.4 899.3,144.09 899.7,144.02 900.1,144.02 900.5,144.02 900.9,143.56 901.3,142.66 901.7,143.53 902.1,143.59 902.5,144.89 902.9,144.86 903.3,144.93 903.7,146.08 904.1,147.36 904.5,146.36 904.9,145.73 905.3,146.3 905.7,146.11 906.1,146.53 906.5,145.72 906.9,144.57 907.3,144.82 907.7,145.78 908.1,145.72 908.5,145.39 908.9,144.77 909.3,145.08 909.7,145 910.1,143.69 910.5,142.65 910.9,142.84 911.3,143.75 911.7,144.05 912.1,143.3 912.5,143.12 912.9,143.2 913.3,143.4 913.7,143.67 914.1,143.86 914.5,141.78 914.9,142.96 915.3,144.33 915.7,144.51 916.1,145.08 916.5,145.68 916.9,144.92 917.3,144.33 917.7,142.66 918.1,144.36 918.5,142.72 918.9,144.92 919.3,143.64 919.7,144.06 920.1,144.7 920.5,145.17 920.9,144.05 921.3,145.28 921.7,144.97 922.1,145.59 922.5,144.08 922.9,145.41 923.3,145.14 923.7,144.5 924.1,144.41 924.5,146.31 924.9,146.25 925.3,144.81 925.7,145.41 926.1,144.52 926.5,144.83 926.9,144.26 927.3,143.56 927.7,145.03 928.1,144.29 928.5,145.06 928.9,144.66 929.3,144.6 929.7,145.1 930.1,145.83 930.5,145.41 930.9,145.88 931.3,144.36 931.7,145.84 932.1,144.14 932.5,143.87 932.9,144.37 933.3,145.02 933.7,145.73 934.1,146.19 934.5,144.96 934.9,144.76 935.3,143.93 935.7,143.8 936.1,142.68 936.5,143.55 936.9,142.32 937.3,142.31 937.7,142.95 938.1,142.66 938.5,142.91 938.9,143.77 939.3,144.38 939.7,144.62 940.1,143.79 940.5,143.05 940.9,143.85 941.3,143.95 941.7,144.91 942.1,145.47 942.5,143.98 942.9,145.39 943.3,145.78 943.7,145.41 944.1,144.29 944.5,145.41 944.9,143.72 945.3,143.63 945.7,143.38 946.1,142.59 946.5,142.92 946.9,141.7 947.3,140.6 947.7,140.72 948.1,139.56 948.5,140.38 948.9,138.62 949.3,138.93 949.7,138.26 950.1,138.06 950.5,139.35 950.9,138.61 951.3,137.87 951.7,135.39 952.1,136.42 952.5,134.83 952.9,135.84 953.3,133.01 953.7,129.66 954.1,127.71 954.5,136.12 954.9,131.3 955.3,134.49 955.7,129.81 956.1,130.65 956.5,132.87 956.9,127.27 957.3,133.12 957.7,136.83 958.1,134.04 958.5,127.41 958.9,131.99 959.3,138.68 959.7,131.59 960.1,133.83 960.5,128.58 960.9,126.11 961.3,135.14 961.7,128.51 962.1,139.55 962.5,137.42 962.9,131.06 963.3,128.3 963.7,137.16 964.1,136.2 964.5,126.67 964.9,131.03 965.3,136.68 965.7,134.04 966.1,126.44 966.5,137.62 966.9,127.89 967.3,128.47 967.7,138.19 968.1,131.33 968.5,133.84 968.9,127.3 969.3,136.03 969.7,132.83 970.1,129.85 970.5,135.04 970.9,129.57 971.3,127 971.7,129.97 972.1,130.21 972.5,131.35 972.9,134.16 973.3,135.13 973.7,135.83 974.1,138.62 974.5,139.55 974.9,139.75 975.3,142.28 975.7,144.32 976.1,145.32 976.5,146.21 976.9,146.92 977.3,146.04 977.7,148.11 978.1,148.35 978.5,148.36 978.9,149.71 979.3,150.9 979.7,151.2 980.1,151.42 980.5,151.04 980.9,152.65 981.3,153.64 981.7,155.5 982.1,155.46 982.5,155.85 982.9,155.16 983.3,154.46 983.7,155.25 984.1,156.55 984.5,158.24 984.9,157.44" fill="none" stroke="#0000ff" stroke-width="1.3" stroke-linejoin="round" stroke-linecap="round" /><polyline points="870.5,168.61 870.9,169.21 871.3,169.98 871.7,169.91 872.1,169.08 872.5,168.42 872.9,170.03 873.3,169.74 873.7,168.69 874.1,169.99 874.5,169.12 874.9,168.94 875.3,167.28 875.7,167.65 876.1,168.08 876.5,167.81 876.9,168.48 877.3,168.31 877.7,168.05 878.1,169.01 878.5,170.49 878.9,169.66 879.3,168.15 879.7,168.99 880.1,169.34 880.5,168.27 880.9,168.72 881.3,170.62 881.7,168.53 882.1,169.79 882.5,169.54 882.9,169.58 883.3,170.08 883.7,169.34 884.1,169.29 884.5,168.95 884.9,169.08 885.3,168.96 885.7,168.89 886.1,169.88 886.5,168.96 886.9,170.29 887.3,171.65 887.7,170.92 888.1,170.34 888.5,171.97 888.9,172.11 889.3,171.67 889.7,171.06 890.1,170.25 890.5,169.64 890.9,169.58 891.3,170.11 891.7,168.93 892.1,169.77 892.5,169.85 892.9,170 893.3,168.95 893.7,171.66 894.1,172.21 894.5,171.67 894.9,171.11 895.3,170.99 895.7,171.17 896.1,172.43 896.5,172.68 896.9,171.4 897.3,172.78 897.7,170.6 898.1,171 898.5,170.29 898.9,171.01 899.3,170.87 899.7,171.55 900.1,170.68 900.5,172.15 900.9,172.16 901.3,172.98 901.7,172.81 902.1,172.86 902.5,173.34 902.9,172.67 903.3,171.66 903.7,172.73 904.1,171.08 904.5,172.73 904.9,172.4 905.3,172.54 905.7,171.97 906.1,171.92 906.5,172.8 906.9,171.94 907.3,172.72 907.7,173.24 908.1,173.39 908.5,174.54 908.9,175.15 909.3,173.82 909.7,175.18 910.1,176.41 910.5,175.78 910.9,174.79 911.3,173.62 911.7,174.09 912.1,173.65 912.5,173.34 912.9,174.3 913.3,173.76 913.7,174.17 914.1,173.6 914.5,172.22 914.9,172.73 915.3,172.13 915.7,171.76 916.1,171.62 916.5,172.26 916.9,172.98 917.3,173.28 917.7,172.84 918.1,173.71 918.5,172.43 918.9,172.75 919.3,173.07 919.7,172 920.1,171.68 920.5,171.14 920.9,172.21 921.3,171.32 921.7,171.18 922.1,172.15 922.5,172.08 922.9,171.93 923.3,170.83 923.7,170.26 924.1,170.9 924.5,173.3 924.9,172.55 925.3,173.37 925.7,170.78 926.1,171.68 926.5,170.76 926.9,170.29 927.3,169.62 927.7,170.52 928.1,169.65 928.5,169.39 928.9,171.22 929.3,171.43 929.7,171.59 930.1,170.74 930.5,170.79 930.9,171.01 931.3,171.58 931.7,173.2 932.1,173.09 932.5,171.56 932.9,172.1 933.3,171.32 933.7,171.4 934.1,170.94 934.5,171.93 934.9,170.58 935.3,171.77 935.7,172.4 936.1,171.97 936.5,171.32 936.9,173.81 937.3,173.93 937.7,173.21 938.1,173.56 938.5,174.06 938.9,174.54 939.3,174.2 939.7,173.61 940.1,174.34 940.5,173.53 940.9,172.21 941.3,172.59 941.7,171.23 942.1,172.33 942.5,170.27 942.9,171.62 943.3,171.46 943.7,170.2 944.1,170.31 944.5,171.17 944.9,170.08 945.3,170.78 945.7,170.95 946.1,171.21 946.5,172.23 946.9,173.35 947.3,172.71 947.7,173.02 948.1,174.74 948.5,175.58 948.9,174.93 949.3,177.07 949.7,175.28 950.1,174.37 950.5,175.61 950.9,177.02 951.3,177.58 951.7,176.8 952.1,178.03 952.5,176.32 952.9,179.43 953.3,180.24 953.7,179.95 954.1,179.12 954.5,181.77 954.9,186.18 955.3,179.78 955.7,186.05 956.1,178.27 956.5,175.37 956.9,177.54 957.3,181.51 957.7,176.37 958.1,186.48 958.5,188.28 958.9,178.05 959.3,179.52 959.7,177.7 960.1,177.82 960.5,179.75 960.9,187.82 961.3,180.48 961.7,185.56 962.1,175.38 962.5,180.39 962.9,185.68 963.3,179.03 963.7,179.42 964.1,184.65 964.5,182.11 964.9,180.12 965.3,185.37 965.7,177.5 966.1,183.5 966.5,187.85 966.9,177.39 967.3,176.39 967.7,185.94 968.1,181.07 968.5,178.32 968.9,189.44 969.3,183.28 969.7,182.84 970.1,187.55 970.5,193.71 970.9,187.41 971.3,188.27 971.7,188.14 972.1,186.96 972.5,185.01 972.9,183.55 973.3,179.41 973.7,178.33 974.1,176.72 974.5,175.88 974.9,172.45 975.3,171.17 975.7,170.98 976.1,169.03 976.5,168.82 976.9,168.12 977.3,167.14 977.7,168.09 978.1,166.36 978.5,166.47 978.9,166.67 979.3,165.8 979.7,165.35 980.1,165.79 980.5,165.56 980.9,165.3 981.3,163.97 981.7,163.68 982.1,161.25 982.5,163.08 982.9,161.27 983.3,160.2 983.7,160.89 984.1,159.45 984.5,158.77 984.9,158" fill="none" stroke="#0000ff" stroke-width="1.3" stroke-linejoin="round" stroke-linecap="round" /><polyline points="870.5,154.82 870.9,154.71 871.3,154.48 871.7,155.27 872.1,154.69 872.5,154.25 872.9,154.74 873.3,155.55 873.7,155.43 874.1,155.66 874.5,155.27 874.9,155.16 875.3,155.42 875.7,155.71 876.1,156.43 876.5,155.9 876.9,155.08 877.3,155.75 877.7,155.17 878.1,155.06 878.5,155.11 878.9,154.36 879.3,153.98 879.7,154.65 880.1,153.76 880.5,153.32 880.9,153.78 881.3,154.1 881.7,154.63 882.1,154.22 882.5,154.94 882.9,154.1 883.3,153.77 883.7,153.67 884.1,154.25 884.5,153.54 884.9,153.84 885.3,153.71 885.7,154.14 886.1,155.16 886.5,154.87 886.9,154.39 887.3,154.23 887.7,153.45 888.1,154.65 888.5,154.31 888.9,154.22 889.3,153.5 889.7,154.02 890.1,154.27 890.5,154.65 890.9,153.84 891.3,153.88 891.7,153.65 892.1,154.15 892.5,153.78 892.9,154.23 893.3,154.09 893.7,154.5 894.1,154.59 894.5,154.4 894.9,154.51 895.3,154.55 895.7,154.93 896.1,154.55 896.5,155.23 896.9,153.97 897.3,154.28 897.7,154.1 898.1,154 898.5,153.77 898.9,153.79 899.3,154 899.7,154.54 900.1,153.97 900.5,154.14 900.9,153.59 901.3,153.66 901.7,154.2 902.1,154.71 902.5,154.4 902.9,154.6 903.3,154.37 903.7,153.85 904.1,154.78 904.5,154.76 904.9,153.88 905.3,153.54 905.7,154.75 906.1,154.21 906.5,154.84 906.9,155.21 907.3,155.23 907.7,155.44 908.1,155.22 908.5,154.72 908.9,154.35 909.3,154.98 909.7,154.59 910.1,154.62 910.5,154.99 910.9,154.51 911.3,153.36 911.7,153.56 912.1,153.88 912.5,153.35 912.9,152.59 913.3,152.98 913.7,153.58 914.1,153.05 914.5,154.25 914.9,153.42 915.3,153.53 915.7,153.98 916.1,154.08 916.5,154.57 916.9,154.2 917.3,154.23 917.7,153.74 918.1,153.57 918.5,154.37 918.9,154.68 919.3,155.3 919.7,154.3 920.1,154.44 920.5,154.31 920.9,154.59 921.3,154.56 921.7,154.27 922.1,154.64 922.5,154.68 922.9,154.5 923.3,154.83 923.7,155.22 924.1,154.83 924.5,154.84 924.9,155.45 925.3,155.19 925.7,155.31 926.1,155.43 926.5,155.45 926.9,155.39 927.3,154.94 927.7,155.67 928.1,155.36 928.5,154.89 928.9,154.76 929.3,155.2 929.7,155.49 930.1,155.08 930.5,155.24 930.9,155.33 931.3,156.23 931.7,155.38 932.1,155.41 932.5,155.38 932.9,155.58 933.3,155.61 933.7,156.04 934.1,155.42 934.5,155.99 934.9,155.63 935.3,155.36 935.7,156.2 936.1,155.25 936.5,154.96 936.9,155.31 937.3,153.97 937.7,154.53 938.1,154.86 938.5,155.4 938.9,155.48 939.3,156.16 939.7,156.18 940.1,155.69 940.5,156.36 940.9,155.95 941.3,156.63 941.7,156.59 942.1,156.31 942.5,156.44 942.9,154.98 943.3,155.43 943.7,156.01 944.1,155.38 944.5,155.97 944.9,155.55 945.3,155.02 945.7,156 946.1,155.54 946.5,155.48 946.9,156.32 947.3,155.55 947.7,155.72 948.1,155.4 948.5,155.54 948.9,155.99 949.3,155.7 949.7,154.88 950.1,155.34 950.5,155.44 950.9,155.55 951.3,155.66 951.7,156.59 952.1,156.31 952.5,156.54 952.9,156.78 953.3,156.39 953.7,156.42 954.1,156.74 954.5,156.62 954.9,156.87 955.3,156.72 955.7,156.08 956.1,155.56 956.5,155.84 956.9,155.69 957.3,156.53 957.7,156.54 958.1,156.56 958.5,157.46 958.9,157.38 959.3,156.79 959.7,156.54 960.1,157.11 960.5,157.19 960.9,157.78 961.3,157.28 961.7,157.42 962.1,157.87 962.5,156.94 962.9,157.8 963.3,158.1 963.7,157.53 964.1,157.33 964.5,157.43 964.9,157.43 965.3,156.99 965.7,156.96 966.1,156.22 966.5,156.67 966.9,155.5 967.3,156.2 967.7,155.58 968.1,156.69 968.5,156.97 968.9,156.94 969.3,157.32 969.7,157.14 970.1,156.64 970.5,156.76 970.9,157.51 971.3,157.34 971.7,157.37 972.1,158 972.5,157.67 972.9,157.84 973.3,157.95 973.7,157.33 974.1,157.46 974.5,158.15 974.9,157.64 975.3,157.41 975.7,157.5 976.1,157.46 976.5,156.93 976.9,157.45 977.3,156.62 977.7,157.07 978.1,156.22 978.5,155.62 978.9,155.72 979.3,156.34 979.7,156.32 980.1,157.19 980.5,156.71 980.9,157.01 981.3,157.61 981.7,157.97 982.1,157.46 982.5,158.06 982.9,158.48 983.3,158.43 983.7,158 984.1,158.78 984.5,158.43 984.9,158.51" fill="none" stroke="#ff0000" stroke-width="1.3" stroke-linejoin="round" stroke-linecap="round" /><polyline points="870.5,162.39 870.9,161.99 871.3,162.86 871.7,161.74 872.1,162.62 872.5,162.41 872.9,162.52 873.3,162.19 873.7,162.59 874.1,162.91 874.5,162.96 874.9,162.19 875.3,163.46 875.7,163.95 876.1,163.68 876.5,163.49 876.9,162.8 877.3,161.93 877.7,162.54 878.1,162.2 878.5,162.37 878.9,162.09 879.3,163.16 879.7,163.32 880.1,163.25 880.5,162.32 880.9,163.23 881.3,163.04 881.7,163.55 882.1,163.54 882.5,162.94 882.9,163.1 883.3,163.8 883.7,163.11 884.1,163.55 884.5,163.14 884.9,162.72 885.3,162.34 885.7,163.35 886.1,162.21 886.5,163.15 886.9,162.99 887.3,163.65 887.7,163.65 888.1,163.52 888.5,163.94 888.9,163.54 889.3,164.1 889.7,164.58 890.1,163.85 890.5,163.65 890.9,164.14 891.3,164.17 891.7,164.08 892.1,163.92 892.5,163.46 892.9,163.58 893.3,163.3 893.7,162.8 894.1,162.15 894.5,162.64 894.9,163.13 895.3,162.27 895.7,162.01 896.1,162.03 896.5,161.61 896.9,161.84 897.3,163.03 897.7,161.79 898.1,162.4 898.5,162.16 898.9,161.43 899.3,163.07 899.7,163.16 900.1,163.27 900.5,163.1 900.9,163.18 901.3,163.22 901.7,162.99 902.1,162.92 902.5,162.64 902.9,162.5 903.3,163.61 903.7,162.73 904.1,162.83 904.5,163.35 904.9,163.14 905.3,163.07 905.7,162.5 906.1,163.04 906.5,163.72 906.9,164.19 907.3,162.7 907.7,163.07 908.1,162.82 908.5,162.93 908.9,163.36 909.3,163.53 909.7,162.77 910.1,162.58 910.5,163.09 910.9,162.85 911.3,162.38 911.7,162.67 912.1,162.17 912.5,162.21 912.9,162.13 913.3,162.33 913.7,162.84 914.1,162.89 914.5,162.54 914.9,163 915.3,163.1 915.7,163.13 916.1,163.24 916.5,162.94 916.9,162.89 917.3,162.82 917.7,162.77 918.1,162.62 918.5,162.53 918.9,163.12 919.3,162.75 919.7,162.06 920.1,162.16 920.5,162.61 920.9,162.27 921.3,162.24 921.7,162.46 922.1,162.39 922.5,162.09 922.9,161.52 923.3,161.79 923.7,161.48 924.1,161.65 924.5,161.65 924.9,161.69 925.3,161.4 925.7,161.05 926.1,161.55 926.5,161.82 926.9,161.77 927.3,161.99 927.7,161.32 928.1,161.66 928.5,161.71 928.9,161.84 929.3,161.54 929.7,161.64 930.1,162.34 930.5,162.26 930.9,162.68 931.3,162.51 931.7,161.6 932.1,161.8 932.5,162.68 932.9,161.6 933.3,161.89 933.7,161.8 934.1,161.63 934.5,161.51 934.9,162.13 935.3,161.56 935.7,161.8 936.1,161.73 936.5,161.31 936.9,161.72 937.3,161.62 937.7,161.89 938.1,161.02 938.5,161.7 938.9,161.78 939.3,161.26 939.7,161.83 940.1,161.27 940.5,162.19 940.9,161.62 941.3,161.15 941.7,160.65 942.1,161.49 942.5,160.66 942.9,161.38 943.3,161.63 943.7,160.55 944.1,161.47 944.5,160.56 944.9,161.04 945.3,161.22 945.7,161.25 946.1,161.27 946.5,160.69 946.9,161.59 947.3,160.71 947.7,161.18 948.1,159.96 948.5,159.9 948.9,160.62 949.3,161.11 949.7,160.98 950.1,161.27 950.5,160.4 950.9,162.1 951.3,161.07 951.7,161.17 952.1,161.14 952.5,161.16 952.9,161.39 953.3,160.24 953.7,160.05 954.1,160.69 954.5,160.72 954.9,161.07 955.3,161.32 955.7,160.54 956.1,160.52 956.5,160.46 956.9,161.18 957.3,160.86 957.7,160.99 958.1,161.17 958.5,161.22 958.9,160.07 959.3,160.31 959.7,160.25 960.1,160.87 960.5,160.67 960.9,160.33 961.3,160.75 961.7,161.74 962.1,161.08 962.5,160.55 962.9,160.91 963.3,160.69 963.7,160.45 964.1,160.9 964.5,160.12 964.9,160.22 965.3,160.01 965.7,160.71 966.1,159.13 966.5,160.06 966.9,159.16 967.3,159.4 967.7,158.98 968.1,159.63 968.5,160.13 968.9,159.87 969.3,160.16 969.7,159.65 970.1,159.62 970.5,158.67 970.9,159.65 971.3,159.14 971.7,159.53 972.1,158.76 972.5,159.52 972.9,158.32 973.3,159.07 973.7,158.64 974.1,159.27 974.5,159.24 974.9,159.12 975.3,159.23 975.7,159.54 976.1,160.05 976.5,159.58 976.9,159.71 977.3,158.95 977.7,158.9 978.1,158.69 978.5,158.85 978.9,159.03 979.3,158.92 979.7,159.08 980.1,159.03 980.5,159.36 980.9,159 981.3,158.76 981.7,158.58 982.1,158.98 982.5,158.39 982.9,159 983.3,158.77 983.7,158.22 984.1,158.76 984.5,158.76 984.9,159.19" fill="none" stroke="#ff0000" stroke-width="1.3" stroke-linejoin="round" stroke-linecap="round" /><polyline points="1017.9,157.1 1018.3,157.29 1018.7,158.06 1019.1,157.09 1019.5,156.68 1019.9,157.46 1020.3,157.23 1020.7,157.94 1021.1,156.78 1021.5,156.99 1021.9,158.36 1022.3,157.42 1022.7,157 1023.1,158.56 1023.5,156.4 1023.9,156.58 1024.3,157.42 1024.7,157.3 1025.1,156.24 1025.5,158.74 1025.9,159.2 1026.3,158.11 1026.7,158.78 1027.1,160.48 1027.5,159.85 1027.9,159.01 1028.3,159.95 1028.7,158.1 1029.1,157.69 1029.5,159.13 1029.9,156.12 1030.3,156.43 1030.7,157.95 1031.1,157.19 1031.5,156.8 1031.9,156.9 1032.3,156.68 1032.7,157.81 1033.1,156.03 1033.5,155.67 1033.9,155.69 1034.3,154.3 1034.7,151.99 1035.1,154.88 1035.5,153.36 1035.9,153.19 1036.3,153.72 1036.7,151.16 1037.1,153.05 1037.5,153 1037.9,152.47 1038.3,151.48 1038.7,151.83 1039.1,151.29 1039.5,151.62 1039.9,150.55 1040.3,152.02 1040.7,151.24 1041.1,149.96 1041.5,150.71 1041.9,150.06 1042.3,150.69 1042.7,148.84 1043.1,148.91 1043.5,149.42 1043.9,147.54 1044.3,147.18 1044.7,146.96 1045.1,147.26 1045.5,146.45 1045.9,146.08 1046.3,145.46 1046.7,144.96 1047.1,144.46 1047.5,143.68 1047.9,144.46 1048.3,142.05 1048.7,142.13 1049.1,141.32 1049.5,140.31 1049.9,140.07 1050.3,139.09 1050.7,139.4 1051.1,140.36 1051.5,141.67 1051.9,140.07 1052.3,141.66 1052.7,142.59 1053.1,140.4 1053.5,141.88 1053.9,141.42 1054.3,141.37 1054.7,141.3 1055.1,142.26 1055.5,141.05 1055.9,139.42 1056.3,140.12 1056.7,139.74 1057.1,139.3 1057.5,140.31 1057.9,139.07 1058.3,139.49 1058.7,138.25 1059.1,139.81 1059.5,139.63 1059.9,139.84 1060.3,138.93 1060.7,141.19 1061.1,140.16 1061.5,140.72 1061.9,141.75 1062.3,141.54 1062.7,141.4 1063.1,141.03 1063.5,141.41 1063.9,141.9 1064.3,141.8 1064.7,142.48 1065.1,140.9 1065.5,140.87 1065.9,141.76 1066.3,139.31 1066.7,140.54 1067.1,139.22 1067.5,139.66 1067.9,139.96 1068.3,141.13 1068.7,141.81 1069.1,140.96 1069.5,141.17 1069.9,140.75 1070.3,140.71 1070.7,139.88 1071.1,142.15 1071.5,140.13 1071.9,140.96 1072.3,137.35 1072.7,130.85 1073.1,129.82 1073.5,123.91 1073.9,122.02 1074.3,126.62 1074.7,128.41 1075.1,123.93 1075.5,125.16 1075.9,122.85 1076.3,126.25 1076.7,125.01 1077.1,124.71 1077.5,124.44 1077.9,126.61 1078.3,127.08 1078.7,125.72 1079.1,127.05 1079.5,131.15 1079.9,129.35 1080.3,130.51 1080.7,130.1 1081.1,125.58 1081.5,131.82 1081.9,127.85 1082.3,128.81 1082.7,131.29 1083.1,130.79 1083.5,131.63 1083.9,133.39 1084.3,132.05 1084.7,131.85 1085.1,133.75 1085.5,136.18 1085.9,136.05 1086.3,136.46 1086.7,136.24 1087.1,136.52 1087.5,135.67 1087.9,138.44 1088.3,138.48 1088.7,136.17 1089.1,137.5 1089.5,137.52 1089.9,136.64 1090.3,137.91 1090.7,138.67 1091.1,138.83 1091.5,139.11 1091.9,138.51 1092.3,139.36 1092.7,140.32 1093.1,137.99 1093.5,138.37 1093.9,138.68 1094.3,139.66 1094.7,139.75 1095.1,140.45 1095.5,139.61 1095.9,138.24 1096.3,139.45 1096.7,139.35 1097.1,138.82 1097.5,139.33 1097.9,138.29 1098.3,139.93 1098.7,138.6 1099.1,140.97 1099.5,141.22 1099.9,142.46 1100.3,140.47 1100.7,140.51 1101.1,142 1101.5,142.35 1101.9,143.32 1102.3,146.13 1102.7,147.69 1103.1,145.96 1103.5,147.46 1103.9,146.25 1104.3,147.58 1104.7,149.09 1105.1,147.98 1105.5,150.38 1105.9,149.59 1106.3,150.89 1106.7,149.31 1107.1,149.63 1107.5,147.88 1107.9,147.68 1108.3,148.53 1108.7,147.97 1109.1,150.43 1109.5,150.71 1109.9,150.49 1110.3,149.96 1110.7,151.98 1111.1,151.48 1111.5,152.16 1111.9,153.04 1112.3,152.39 1112.7,150.47 1113.1,154.49 1113.5,158.99 1113.9,148.53 1114.3,149.29 1114.7,154.27 1115.1,153.19 1115.5,155.35 1115.9,159.52 1116.3,159.81 1116.7,155.12 1117.1,155.28 1117.5,156.07 1117.9,153.94 1118.3,156.87 1118.7,154.92 1119.1,155.65 1119.5,154.8 1119.9,155.98 1120.3,157.79 1120.7,157 1121.1,157.62 1121.5,154.55 1121.9,153.77 1122.3,154.66 1122.7,155.54 1123.1,155.37 1123.5,155.32 1123.9,153.24 1124.3,153.4 1124.7,154.5 1125.1,154.48 1125.5,152.76 1125.9,152.52 1126.3,153.15 1126.7,151.45 1127.1,152.83 1127.5,151.44 1127.9,152.99 1128.3,152.79 1128.7,153.25 1129.1,152.55 1129.5,152.84 1129.9,151.43 1130.3,150.24 1130.7,150.82 1131.1,150.83 1131.5,152.12 1131.9,151.74 1132.3,149.89 1132.7,148.65 1133.1,149.34 1133.5,148.84 1133.9,151.39 1134.3,151.13 1134.7,149.72 1135.1,150.45 1135.5,151.53 1135.9,151.39 1136.3,152.39 1136.7,150.62 1137.1,151.81 1137.5,150.2 1137.9,151.87 1138.3,150.05 1138.7,151.96 1139.1,150.19 1139.5,151.01 1139.9,149.31 1140.3,151.55 1140.7,150.43 1141.1,149.72 1141.5,148.89 1141.9,150.34 1142.3,152.47 1142.7,149.94 1143.1,152.27 1143.5,151.64 1143.9,151.19 1144.3,151.56 1144.7,152.73 1145.1,152.14 1145.5,151.67 1145.9,152.23 1146.3,152.19 1146.7,152.75 1147.1,153 1147.5,152.06 1147.9,151.39 1148.3,150.43 1148.7,150.77 1149.1,150.72 1149.5,151.34 1149.9,151.35 1150.3,151.77 1150.7,151.45 1151.1,151.44 1151.5,152.92 1151.9,152.39 1152.3,152.59 1152.7,151.41 1153.1,152.31 1153.5,151.12 1153.9,153.19 1154.3,152.23 1154.7,152.1 1155.1,151.48 1155.5,151.78 1155.9,151.91 1156.3,152.52 1156.7,151.81 1157.1,151.26 1157.5,151.68 1157.9,151.06 1158.3,151 1158.7,149.62 1159.1,150.88 1159.5,152.08 1159.9,150.66 1160.3,150.71 1160.7,151.43 1161.1,150.76 1161.5,150.22 1161.9,150.35 1162.3,151.87 1162.7,149.95 1163.1,150.17 1163.5,150.71 1163.9,151.43 1164.3,150.13 1164.7,151.44 1165.1,150.97 1165.5,149.39 1165.9,150.26 1166.3,152.11 1166.7,150.45 1167.1,151.84 1167.5,151.15 1167.9,152.75" fill="none" stroke="#138013" stroke-width="1.3" stroke-linejoin="round" stroke-linecap="round" /><polyline points="1017.9,159.47 1018.3,159.83 1018.7,158.17 1019.1,158.13 1019.5,159.01 1019.9,159.86 1020.3,160.72 1020.7,158.55 1021.1,159.81 1021.5,159.78 1021.9,159.22 1022.3,160.39 1022.7,160.97 1023.1,159.48 1023.5,159.85 1023.9,159.81 1024.3,161.72 1024.7,161.74 1025.1,160.86 1025.5,160.98 1025.9,158.8 1026.3,158.5 1026.7,159.47 1027.1,159.17 1027.5,157.71 1027.9,159.68 1028.3,158.96 1028.7,157.89 1029.1,158.95 1029.5,160.19 1029.9,161.13 1030.3,161.3 1030.7,159.81 1031.1,160.25 1031.5,160.6 1031.9,159.08 1032.3,160.6 1032.7,161.12 1033.1,161.76 1033.5,163.25 1033.9,163.3 1034.3,162.39 1034.7,161.61 1035.1,161.36 1035.5,161.45 1035.9,162.51 1036.3,162.21 1036.7,164.11 1037.1,164.54 1037.5,165.32 1037.9,164.71 1038.3,164.01 1038.7,164.97 1039.1,166.38 1039.5,166.04 1039.9,165.28 1040.3,164.26 1040.7,164.73 1041.1,165.37 1041.5,165.85 1041.9,166.96 1042.3,165.47 1042.7,167.89 1043.1,167.2 1043.5,167.32 1043.9,168.9 1044.3,168.9 1044.7,170.54 1045.1,169.79 1045.5,172.31 1045.9,171.74 1046.3,172.65 1046.7,172.85 1047.1,173.42 1047.5,173.92 1047.9,174.31 1048.3,174.62 1048.7,175.89 1049.1,175.79 1049.5,175.24 1049.9,175.8 1050.3,175.38 1050.7,176.21 1051.1,174.22 1051.5,173.94 1051.9,173.86 1052.3,174.51 1052.7,175.32 1053.1,175.23 1053.5,175.42 1053.9,175.85 1054.3,175.11 1054.7,175.29 1055.1,175.53 1055.5,173.92 1055.9,175.73 1056.3,175.95 1056.7,176.82 1057.1,174.98 1057.5,174.8 1057.9,174.65 1058.3,174.89 1058.7,176.21 1059.1,175.72 1059.5,174.38 1059.9,174.9 1060.3,174.12 1060.7,174.17 1061.1,175.8 1061.5,175.5 1061.9,173.17 1062.3,174.07 1062.7,173.91 1063.1,173.68 1063.5,172.89 1063.9,173.63 1064.3,174.16 1064.7,173.43 1065.1,174.62 1065.5,175.62 1065.9,175.76 1066.3,176.43 1066.7,175.25 1067.1,175.68 1067.5,176.67 1067.9,176.83 1068.3,176.71 1068.7,176.48 1069.1,178.46 1069.5,177.96 1069.9,177.49 1070.3,179.71 1070.7,179.52 1071.1,177.97 1071.5,178.05 1071.9,178.93 1072.3,179.47 1072.7,187.01 1073.1,185.84 1073.5,190.76 1073.9,191.07 1074.3,194.27 1074.7,193.24 1075.1,195.66 1075.5,191.79 1075.9,193.1 1076.3,189.24 1076.7,194.13 1077.1,190.44 1077.5,190.16 1077.9,194.99 1078.3,189.38 1078.7,189.44 1079.1,192.64 1079.5,189.83 1079.9,192.66 1080.3,187.13 1080.7,191.48 1081.1,191.61 1081.5,186.3 1081.9,186.13 1082.3,186.16 1082.7,185.48 1083.1,184.89 1083.5,185.38 1083.9,186.67 1084.3,185.79 1084.7,186.08 1085.1,185.58 1085.5,183.38 1085.9,182.92 1086.3,181.53 1086.7,181.77 1087.1,180.7 1087.5,181.83 1087.9,181.02 1088.3,181.16 1088.7,180.15 1089.1,177.8 1089.5,178.77 1089.9,176.72 1090.3,177.67 1090.7,176.65 1091.1,175.92 1091.5,176.08 1091.9,175.74 1092.3,176.02 1092.7,175.65 1093.1,176.63 1093.5,176.14 1093.9,176.42 1094.3,175.86 1094.7,177.13 1095.1,176.38 1095.5,175.63 1095.9,175.64 1096.3,175.65 1096.7,175.06 1097.1,174.6 1097.5,174.27 1097.9,175.8 1098.3,175.65 1098.7,174.92 1099.1,176.69 1099.5,174.96 1099.9,174.1 1100.3,174.3 1100.7,172.81 1101.1,173.74 1101.5,172.9 1101.9,174.21 1102.3,172.27 1102.7,171.07 1103.1,169.69 1103.5,168.78 1103.9,170.25 1104.3,168.13 1104.7,169.87 1105.1,169.94 1105.5,168.1 1105.9,169.69 1106.3,169.1 1106.7,166.31 1107.1,166.53 1107.5,167.09 1107.9,167.09 1108.3,164.74 1108.7,163.69 1109.1,163.7 1109.5,163.47 1109.9,163.14 1110.3,163.88 1110.7,162.39 1111.1,163.2 1111.5,162.69 1111.9,161.75 1112.3,162.25 1112.7,166.83 1113.1,164.82 1113.5,165.76 1113.9,159.61 1114.3,165.35 1114.7,166.69 1115.1,160.44 1115.5,164.72 1115.9,163.19 1116.3,162.88 1116.7,162.59 1117.1,159.94 1117.5,160.35 1117.9,161.26 1118.3,160.55 1118.7,159.75 1119.1,160.14 1119.5,159.93 1119.9,161.37 1120.3,160.09 1120.7,162.04 1121.1,161.06 1121.5,160.34 1121.9,162.05 1122.3,163.14 1122.7,161.65 1123.1,162.08 1123.5,161.66 1123.9,163.15 1124.3,163.43 1124.7,163.47 1125.1,163.82 1125.5,163.6 1125.9,163.85 1126.3,164.6 1126.7,163.43 1127.1,162.83 1127.5,164.35 1127.9,164.05 1128.3,163.41 1128.7,164.63 1129.1,166.17 1129.5,166.39 1129.9,166.26 1130.3,166.47 1130.7,165.45 1131.1,166.98 1131.5,167.63 1131.9,166.92 1132.3,167.49 1132.7,166.88 1133.1,166.83 1133.5,168.59 1133.9,166.65 1134.3,167.67 1134.7,166.16 1135.1,167.18 1135.5,167.79 1135.9,168.03 1136.3,169.3 1136.7,169.07 1137.1,169.46 1137.5,169.17 1137.9,168.77 1138.3,168.44 1138.7,168.42 1139.1,166.23 1139.5,167.9 1139.9,167.89 1140.3,165.89 1140.7,165.54 1141.1,165.41 1141.5,164.68 1141.9,166.24 1142.3,167.6 1142.7,165.19 1143.1,166.27 1143.5,167.49 1143.9,167.79 1144.3,165.54 1144.7,164.98 1145.1,164.12 1145.5,165.96 1145.9,165.56 1146.3,166.16 1146.7,165.76 1147.1,164.81 1147.5,165.38 1147.9,165.75 1148.3,164.67 1148.7,164.34 1149.1,163.31 1149.5,165.89 1149.9,164.13 1150.3,165.37 1150.7,164.2 1151.1,165.18 1151.5,164.64 1151.9,165.59 1152.3,164 1152.7,163.57 1153.1,165.79 1153.5,165.34 1153.9,165.07 1154.3,166.04 1154.7,164.53 1155.1,166.95 1155.5,166.55 1155.9,164.53 1156.3,165.49 1156.7,166.42 1157.1,164.85 1157.5,164.04 1157.9,165.27 1158.3,163.67 1158.7,165.58 1159.1,164.91 1159.5,165.59 1159.9,165.03 1160.3,165.84 1160.7,165 1161.1,165.09 1161.5,166.04 1161.9,166.73 1162.3,166.18 1162.7,166.15 1163.1,166.14 1163.5,164.13 1163.9,164.26 1164.3,165.65 1164.7,163.88 1165.1,166.29 1165.5,164.74 1165.9,164.66 1166.3,165.65 1166.7,164.61 1167.1,166.56 1167.5,165.72 1167.9,165.6" fill="none" stroke="#138013" stroke-width="1.3" stroke-linejoin="round" stroke-linecap="round" /><polyline points="1018,158.22 1018.4,158.18 1018.8,158.24 1019.2,157.81 1019.6,158.24 1020,158.49 1020.4,159.45 1020.8,158.59 1021.2,159.41 1021.6,158.86 1022,159.48 1022.4,159.09 1022.8,158.8 1023.2,159.12 1023.6,159.09 1024,157.91 1024.4,157.91 1024.8,158.15 1025.2,158.17 1025.6,158.54 1026,158.63 1026.4,158.76 1026.8,158.67 1027.2,159.18 1027.6,158.97 1028,158.25 1028.4,159.06 1028.8,158.97 1029.2,159.04 1029.6,158.39 1030,158.18 1030.4,158.08 1030.8,158.09 1031.2,157.23 1031.6,156.39 1032,156.98 1032.4,156.99 1032.8,156.54 1033.2,155.69 1033.6,157.3 1034,156.66 1034.4,156.07 1034.8,156.25 1035.2,155.87 1035.6,155.62 1036,154.33 1036.4,153.68 1036.8,153.99 1037.2,154.42 1037.6,153.67 1038,153.39 1038.4,154.05 1038.8,153.57 1039.2,154.1 1039.6,154.12 1040,155.02 1040.4,154.42 1040.8,153.57 1041.2,153.71 1041.6,153.5 1042,153.1 1042.4,153.14 1042.8,153.25 1043.2,153.5 1043.6,153.44 1044,152.48 1044.4,151.91 1044.8,151.3 1045.2,149.99 1045.6,149.65 1046,148.47 1046.4,147.95 1046.8,146.97 1047.2,146.49 1047.6,146.14 1048,145.56 1048.4,145.73 1048.8,144.4 1049.2,144.51 1049.6,144.22 1050,144.05 1050.4,143.39 1050.8,143.33 1051.2,143.52 1051.6,143.39 1052,144.09 1052.4,144.95 1052.8,145.22 1053.2,144.21 1053.6,144.19 1054,144.97 1054.4,145.26 1054.8,144.47 1055.2,144.78 1055.6,145.25 1056,145.3 1056.4,145.58 1056.8,145.58 1057.2,145.99 1057.6,145.06 1058,145.49 1058.4,144.72 1058.8,145.09 1059.2,145.44 1059.6,145.96 1060,146.58 1060.4,146.22 1060.8,146.18 1061.2,145.99 1061.6,146.23 1062,147.62 1062.4,147.79 1062.8,147.71 1063.2,147.5 1063.6,147.68 1064,146.6 1064.4,147.37 1064.8,146.56 1065.2,146.78 1065.6,146.73 1066,145.04 1066.4,145.26 1066.8,145.05 1067.2,144.68 1067.6,144.51 1068,144.69 1068.4,144.02 1068.8,145.39 1069.2,144.55 1069.6,145.27 1070,145.12 1070.4,145.39 1070.8,144.89 1071.2,145.01 1071.6,144.85 1072,147.25 1072.4,145.36 1072.8,142.1 1073.2,141.05 1073.6,136.81 1074,134.82 1074.4,136.72 1074.8,135.65 1075.2,136.73 1075.6,135.3 1076,136.72 1076.4,137.49 1076.8,134.89 1077.2,138.34 1077.6,138.17 1078,135.82 1078.4,139.65 1078.8,135.76 1079.2,136.74 1079.6,137.36 1080,137.3 1080.4,137.43 1080.8,138.16 1081.2,138.42 1081.6,138.72 1082,139.44 1082.4,140.35 1082.8,139.62 1083.2,139.1 1083.6,140.15 1084,140.02 1084.4,140.01 1084.8,138.85 1085.2,139.77 1085.6,140.3 1086,139.82 1086.4,140.48 1086.8,141.01 1087.2,140.59 1087.6,140.12 1088,141.44 1088.4,141.27 1088.8,142.52 1089.2,142.99 1089.6,143.02 1090,142.98 1090.4,143.03 1090.8,144.03 1091.2,144.77 1091.6,144.24 1092,144.6 1092.4,144.74 1092.8,145.37 1093.2,145.14 1093.6,145.47 1094,146.66 1094.4,146.5 1094.8,147.45 1095.2,147.53 1095.6,147.03 1096,146.43 1096.4,146.75 1096.8,147.24 1097.2,147.24 1097.6,147.51 1098,146.62 1098.4,148.21 1098.8,147.49 1099.2,148.61 1099.6,148.62 1100,148.63 1100.4,148.16 1100.8,149.33 1101.2,148.82 1101.6,149.21 1102,149.15 1102.4,148.12 1102.8,148.08 1103.2,148.43 1103.6,146.66 1104,147.74 1104.4,147.53 1104.8,147.85 1105.2,148.25 1105.6,148.66 1106,149.46 1106.4,148.47 1106.8,148.54 1107.2,149.39 1107.6,149.47 1108,150.56 1108.4,150.31 1108.8,150.03 1109.2,150.73 1109.6,151.4 1110,150.98 1110.4,151.73 1110.8,151.92 1111.2,152.01 1111.6,152.37 1112,152.85 1112.4,152.35 1112.8,156.03 1113.2,151.49 1113.6,155.73 1114,158.67 1114.4,156.28 1114.8,154.29 1115.2,151.48 1115.6,157.12 1116,153.63 1116.4,157.31 1116.8,155.97 1117.2,156.32 1117.6,156.25 1118,156.06 1118.4,156.73 1118.8,157.22 1119.2,157.04 1119.6,156.49 1120,156.81 1120.4,155.78 1120.8,155.7 1121.2,156.76 1121.6,156.04 1122,156.77 1122.4,156.71 1122.8,156.51 1123.2,155.49 1123.6,155.55 1124,155.94 1124.4,155.03 1124.8,155.24 1125.2,155.79 1125.6,154.98 1126,155.05 1126.4,155.02 1126.8,154.86 1127.2,154.76 1127.6,155.14 1128,155.94 1128.4,156.1 1128.8,155.3 1129.2,156.17 1129.6,155.03 1130,155.88 1130.4,156.11 1130.8,155.96 1131.2,155.19 1131.6,154.72 1132,154.76 1132.4,154.31 1132.8,154.2 1133.2,153.78 1133.6,153.3 1134,153.97 1134.4,153.82 1134.8,154.72 1135.2,154.86 1135.6,154.06 1136,154.61 1136.4,154.11 1136.8,153.38 1137.2,154.17 1137.6,154.21 1138,154.01 1138.4,155.07 1138.8,155.07 1139.2,154.98 1139.6,154.23 1140,154.78 1140.4,155.23 1140.8,155.65 1141.2,154.79 1141.6,154.08 1142,154.87 1142.4,154.47 1142.8,153.85 1143.2,153.53 1143.6,153.39 1144,153.76 1144.4,153.47 1144.8,154.25 1145.2,153.53 1145.6,154.21 1146,154.45 1146.4,154.85 1146.8,153.67 1147.2,154.68 1147.6,154.67 1148,154.66 1148.4,154.65 1148.8,154.2 1149.2,154.52 1149.6,154.39 1150,153.61 1150.4,154.67 1150.8,154.57 1151.2,154.62 1151.6,155.48 1152,155.12 1152.4,155.26 1152.8,155.21 1153.2,155.05 1153.6,155.23 1154,154.99 1154.4,154.97 1154.8,155.18 1155.2,155 1155.6,155.64 1156,154.22 1156.4,155.21 1156.8,155.89 1157.2,154.75 1157.6,155.87 1158,154.93 1158.4,155.3 1158.8,154.99 1159.2,154.85 1159.6,155.5 1160,155.17 1160.4,154.41 1160.8,154.98 1161.2,155 1161.6,155.46 1162,155.35 1162.4,155.41 1162.8,155.21 1163.2,155.02 1163.6,154.85 1164,154.74 1164.4,153.97 1164.8,154.1 1165.2,153.99 1165.6,154.51 1166,155.15 1166.4,154.52 1166.8,153.81 1167.2,154.47 1167.6,154.86 1168,156.04" fill="none" stroke="#ff0000" stroke-width="1.3" stroke-linejoin="round" stroke-linecap="round" /><polyline points="1018,158.22 1018.4,158.56 1018.8,158.41 1019.2,158.33 1019.6,158.87 1020,158.54 1020.4,159.28 1020.8,159.33 1021.2,158.21 1021.6,158.5 1022,159.66 1022.4,159.03 1022.8,158.38 1023.2,158.53 1023.6,158.89 1024,158.85 1024.4,158.46 1024.8,158.64 1025.2,158.03 1025.6,158.72 1026,159.06 1026.4,158.14 1026.8,157.91 1027.2,158.95 1027.6,158.88 1028,159.28 1028.4,159.15 1028.8,159.37 1029.2,159.83 1029.6,159.51 1030,160.04 1030.4,159.67 1030.8,160.64 1031.2,160.02 1031.6,159.19 1032,158.93 1032.4,159.7 1032.8,159.06 1033.2,159.32 1033.6,159.54 1034,159.57 1034.4,160.12 1034.8,160.94 1035.2,161.27 1035.6,162.07 1036,162.71 1036.4,162.67 1036.8,162.47 1037.2,164.11 1037.6,163.94 1038,163.59 1038.4,163.96 1038.8,165.1 1039.2,164.74 1039.6,164.99 1040,165.33 1040.4,165.19 1040.8,165.2 1041.2,165.06 1041.6,165.71 1042,164.85 1042.4,164.52 1042.8,165.25 1043.2,165.16 1043.6,165.31 1044,164.67 1044.4,164.62 1044.8,165.83 1045.2,167.22 1045.6,167.08 1046,168.08 1046.4,168.34 1046.8,169.77 1047.2,169.34 1047.6,170 1048,170.12 1048.4,171.4 1048.8,171.02 1049.2,171.67 1049.6,172.12 1050,172.53 1050.4,173.83 1050.8,173.31 1051.2,174.32 1051.6,173.38 1052,172.94 1052.4,172.2 1052.8,173.02 1053.2,172.96 1053.6,172.1 1054,171.84 1054.4,172.41 1054.8,171.4 1055.2,171.14 1055.6,172.19 1056,171.92 1056.4,171.52 1056.8,172.59 1057.2,172.42 1057.6,171.86 1058,171.46 1058.4,171.83 1058.8,172.01 1059.2,172.56 1059.6,172.03 1060,171.32 1060.4,170.97 1060.8,170.19 1061.2,170.76 1061.6,171.09 1062,170.61 1062.4,169.91 1062.8,169.5 1063.2,169.4 1063.6,170.48 1064,170.35 1064.4,169.91 1064.8,169.22 1065.2,169.87 1065.6,170.16 1066,169.32 1066.4,169.38 1066.8,169.74 1067.2,170.23 1067.6,170.79 1068,171.45 1068.4,170.67 1068.8,171.04 1069.2,171.05 1069.6,171.37 1070,171.04 1070.4,171.02 1070.8,171.14 1071.2,170.89 1071.6,171.5 1072,173.73 1072.4,175.88 1072.8,175.94 1073.2,177.35 1073.6,178.58 1074,180.11 1074.4,178.95 1074.8,176.85 1075.2,180.62 1075.6,177.05 1076,179.38 1076.4,181.15 1076.8,175.88 1077.2,177.67 1077.6,181.02 1078,177.33 1078.4,178.43 1078.8,179.28 1079.2,178.64 1079.6,180.2 1080,178.1 1080.4,178.85 1080.8,177.43 1081.2,177.49 1081.6,177.78 1082,177.02 1082.4,176.53 1082.8,175.71 1083.2,175.08 1083.6,175.76 1084,174.96 1084.4,174.76 1084.8,174.34 1085.2,174.64 1085.6,175.34 1086,175.33 1086.4,175.53 1086.8,175.37 1087.2,174.92 1087.6,174.08 1088,174.9 1088.4,174.25 1088.8,173.31 1089.2,172.14 1089.6,172.86 1090,172.51 1090.4,171.95 1090.8,171.82 1091.2,172.11 1091.6,171.64 1092,171.69 1092.4,171.43 1092.8,171.37 1093.2,171.48 1093.6,171.7 1094,172.82 1094.4,171.71 1094.8,171.95 1095.2,171.17 1095.6,171.43 1096,171.33 1096.4,170.72 1096.8,171.34 1097.2,170.27 1097.6,170.31 1098,171.09 1098.4,170.86 1098.8,170.29 1099.2,170.19 1099.6,169.45 1100,169.19 1100.4,169.73 1100.8,168.57 1101.2,169.58 1101.6,169.04 1102,169.47 1102.4,170.16 1102.8,170.2 1103.2,170.32 1103.6,168.88 1104,169.26 1104.4,169.49 1104.8,169.94 1105.2,168.26 1105.6,168.1 1106,168.1 1106.4,167.64 1106.8,167.84 1107.2,167.64 1107.6,167.23 1108,167.06 1108.4,166.25 1108.8,165.64 1109.2,165.67 1109.6,165.92 1110,166.14 1110.4,165.71 1110.8,165.24 1111.2,165.01 1111.6,165.48 1112,165.66 1112.4,164.61 1112.8,161.78 1113.2,167.25 1113.6,167.06 1114,167.75 1114.4,158.92 1114.8,166.44 1115.2,161.18 1115.6,165.27 1116,164.64 1116.4,157.71 1116.8,161.1 1117.2,159.8 1117.6,160.21 1118,160.08 1118.4,158.86 1118.8,158.66 1119.2,159.36 1119.6,159.52 1120,159.13 1120.4,160.15 1120.8,160.25 1121.2,160.59 1121.6,160.59 1122,161.22 1122.4,161.96 1122.8,161.32 1123.2,161.57 1123.6,160.54 1124,160.68 1124.4,161.12 1124.8,161.68 1125.2,161.96 1125.6,161.46 1126,160.65 1126.4,160.71 1126.8,160.89 1127.2,161.1 1127.6,160.67 1128,161.08 1128.4,160.67 1128.8,161.14 1129.2,162.19 1129.6,162.15 1130,161.92 1130.4,162.18 1130.8,163.05 1131.2,162.4 1131.6,163.08 1132,162.46 1132.4,163.02 1132.8,162.86 1133.2,161.97 1133.6,162.27 1134,162.18 1134.4,163.46 1134.8,164.17 1135.2,163.12 1135.6,163.17 1136,164.17 1136.4,163.5 1136.8,164.23 1137.2,164.65 1137.6,163.46 1138,163.91 1138.4,163.54 1138.8,163.28 1139.2,163.4 1139.6,162.41 1140,161.8 1140.4,162.33 1140.8,161.63 1141.2,162.43 1141.6,162.95 1142,162.34 1142.4,162.15 1142.8,162.15 1143.2,161.57 1143.6,161.41 1144,162.08 1144.4,161.85 1144.8,161.9 1145.2,161.89 1145.6,162.28 1146,162.37 1146.4,163.39 1146.8,163.42 1147.2,163.07 1147.6,162.91 1148,162.74 1148.4,162.42 1148.8,162.25 1149.2,161.22 1149.6,162.44 1150,162.46 1150.4,161.88 1150.8,161.99 1151.2,161.91 1151.6,162.44 1152,162.51 1152.4,162.56 1152.8,162.91 1153.2,162.35 1153.6,162.82 1154,161.89 1154.4,162.63 1154.8,162.45 1155.2,162.25 1155.6,162.18 1156,162.5 1156.4,162.53 1156.8,162.24 1157.2,162.13 1157.6,163.12 1158,162.26 1158.4,162.9 1158.8,163.09 1159.2,162.66 1159.6,162.93 1160,162.8 1160.4,162.75 1160.8,162.5 1161.2,162.59 1161.6,162.81 1162,162.02 1162.4,162.15 1162.8,160.99 1163.2,161.45 1163.6,161.33 1164,160.18 1164.4,161.15 1164.8,161.09 1165.2,160.59 1165.6,161.56 1166,162.07 1166.4,162.59 1166.8,161.2 1167.2,161.53 1167.6,161.46 1168,162.2" fill="none" stroke="#ff0000" stroke-width="1.3" stroke-linejoin="round" stroke-linecap="round" /><polyline points="1018,159.19 1018.4,158.92 1018.8,158.66 1019.2,158.69 1019.6,159.01 1020,158.19 1020.4,157.55 1020.8,156.96 1021.2,157.26 1021.6,157.39 1022,157.99 1022.4,157.86 1022.8,158.9 1023.2,157.86 1023.6,157.12 1024,158.21 1024.4,158.5 1024.8,160.14 1025.2,158.67 1025.6,159.28 1026,157.97 1026.4,158.59 1026.8,159.22 1027.2,158.29 1027.6,158.34 1028,158.84 1028.4,158.1 1028.8,157.93 1029.2,157.33 1029.6,157.86 1030,157.96 1030.4,157.42 1030.8,159.09 1031.2,158.58 1031.6,157.81 1032,158.09 1032.4,157.97 1032.8,158.59 1033.2,158.74 1033.6,158.85 1034,157.87 1034.4,157.58 1034.8,158.34 1035.2,158.09 1035.6,158 1036,157.55 1036.4,157.13 1036.8,157.35 1037.2,156.74 1037.6,156.76 1038,156.43 1038.4,156.71 1038.8,157.54 1039.2,156.22 1039.6,157.18 1040,157.28 1040.4,156.69 1040.8,156.17 1041.2,157.05 1041.6,156.87 1042,157.56 1042.4,157.55 1042.8,157.31 1043.2,157.65 1043.6,156.4 1044,157.39 1044.4,156.53 1044.8,156.9 1045.2,157.05 1045.6,156.4 1046,156.59 1046.4,157.88 1046.8,157.75 1047.2,157.48 1047.6,156.76 1048,156.36 1048.4,156.87 1048.8,156.38 1049.2,157.06 1049.6,156.76 1050,155.96 1050.4,156.99 1050.8,157.02 1051.2,156.46 1051.6,156.41 1052,156.62 1052.4,155.42 1052.8,155.37 1053.2,155.54 1053.6,156.03 1054,155.67 1054.4,156.03 1054.8,155.23 1055.2,155.85 1055.6,155.11 1056,155.38 1056.4,155.72 1056.8,155.92 1057.2,156.01 1057.6,155.57 1058,155.69 1058.4,155.97 1058.8,155.35 1059.2,156.35 1059.6,155.2 1060,156.57 1060.4,155.54 1060.8,155.93 1061.2,155.58 1061.6,156.25 1062,156.2 1062.4,155.65 1062.8,155.39 1063.2,156.42 1063.6,155.15 1064,155.1 1064.4,155.87 1064.8,156.07 1065.2,155.61 1065.6,154.17 1066,154.6 1066.4,155.11 1066.8,155.09 1067.2,154.45 1067.6,155.05 1068,154.45 1068.4,155.96 1068.8,154.63 1069.2,155.75 1069.6,154.52 1070,155.51 1070.4,155.88 1070.8,154.41 1071.2,154.1 1071.6,154.36 1072,155.64 1072.4,155.13 1072.8,156.01 1073.2,154.63 1073.6,153.96 1074,153.3 1074.4,151.6 1074.8,152.44 1075.2,152.59 1075.6,152.96 1076,152.21 1076.4,152.02 1076.8,152.7 1077.2,153.74 1077.6,152.91 1078,153.72 1078.4,153.23 1078.8,153.53 1079.2,152.7 1079.6,152.63 1080,152.6 1080.4,152.94 1080.8,153.38 1081.2,153.63 1081.6,152.43 1082,153.57 1082.4,154.31 1082.8,154.16 1083.2,153.52 1083.6,152.94 1084,154.44 1084.4,153.79 1084.8,153.33 1085.2,154.4 1085.6,154.15 1086,153.99 1086.4,154.1 1086.8,153.1 1087.2,154.51 1087.6,153.28 1088,153.48 1088.4,154.12 1088.8,153.33 1089.2,154.24 1089.6,153.96 1090,153.06 1090.4,154.19 1090.8,153.06 1091.2,153.18 1091.6,154.44 1092,154.07 1092.4,153.69 1092.8,153.98 1093.2,153.83 1093.6,154.24 1094,155.22 1094.4,154.75 1094.8,153.75 1095.2,154.18 1095.6,154.81 1096,155.17 1096.4,155.67 1096.8,155.74 1097.2,154.75 1097.6,156.16 1098,155.17 1098.4,155.57 1098.8,154.6 1099.2,155.68 1099.6,155.17 1100,155.48 1100.4,153.68 1100.8,155.33 1101.2,155.43 1101.6,154.18 1102,155.36 1102.4,155.18 1102.8,155.16 1103.2,155.38 1103.6,156.11 1104,156.21 1104.4,157.24 1104.8,157.21 1105.2,156.1 1105.6,156.6 1106,156.91 1106.4,157.24 1106.8,156.32 1107.2,156.66 1107.6,158 1108,157.97 1108.4,157.12 1108.8,156.74 1109.2,157.6 1109.6,157.32 1110,157.7 1110.4,156.96 1110.8,157.72 1111.2,157.03 1111.6,156.24 1112,157.16 1112.4,157.83 1112.8,157.89 1113.2,157.63 1113.6,156.81 1114,158.26 1114.4,157.3 1114.8,157.99 1115.2,158.44 1115.6,158.38 1116,159.63 1116.4,158.21 1116.8,159.7 1117.2,157.72 1117.6,158.31 1118,158.97 1118.4,156.91 1118.8,157.17 1119.2,158.73 1119.6,158.75 1120,157.67 1120.4,157.99 1120.8,158.54 1121.2,157.9 1121.6,158.64 1122,159.09 1122.4,157.88 1122.8,157.56 1123.2,158.58 1123.6,158.81 1124,157.22 1124.4,157.23 1124.8,156.87 1125.2,157.97 1125.6,158.46 1126,158.51 1126.4,157.82 1126.8,157.78 1127.2,157.6 1127.6,157.56 1128,157.81 1128.4,156.58 1128.8,157.89 1129.2,158.33 1129.6,157.37 1130,157.68 1130.4,157.57 1130.8,158.06 1131.2,156.97 1131.6,158.1 1132,158.5 1132.4,158.14 1132.8,157.77 1133.2,157.33 1133.6,156.96 1134,156.26 1134.4,155.7 1134.8,156 1135.2,156.34 1135.6,156.44 1136,156.74 1136.4,157.29 1136.8,156.88 1137.2,156.53 1137.6,157.25 1138,155.83 1138.4,157.17 1138.8,156.05 1139.2,156.72 1139.6,156.58 1140,156.73 1140.4,155.78 1140.8,156.2 1141.2,156.72 1141.6,155.99 1142,156.21 1142.4,156.72 1142.8,157.29 1143.2,156.74 1143.6,157.46 1144,157.71 1144.4,157.98 1144.8,156.63 1145.2,157.65 1145.6,157.71 1146,156.92 1146.4,156.79 1146.8,156.91 1147.2,157.73 1147.6,158.1 1148,157.17 1148.4,157.73 1148.8,157.48 1149.2,156.49 1149.6,157.32 1150,157.43 1150.4,157.07 1150.8,158.18 1151.2,157.24 1151.6,157.88 1152,157.37 1152.4,157.46 1152.8,157.81 1153.2,156.47 1153.6,155.92 1154,157.19 1154.4,156.36 1154.8,156.75 1155.2,156.51 1155.6,156.45 1156,158.2 1156.4,156.9 1156.8,157.26 1157.2,158.21 1157.6,158.36 1158,156.98 1158.4,156.91 1158.8,157.83 1159.2,156.88 1159.6,157.1 1160,156.43 1160.4,157.99 1160.8,157.97 1161.2,157.25 1161.6,157.23 1162,157.14 1162.4,156.31 1162.8,157.58 1163.2,156.28 1163.6,157.79 1164,157.04 1164.4,157.45 1164.8,156.47 1165.2,156.82 1165.6,157.48 1166,157.12 1166.4,157.38 1166.8,156.27 1167.2,156.53 1167.6,156.42 1168,157.69" fill="none" stroke="#0000ff" stroke-width="1.3" stroke-linejoin="round" stroke-linecap="round" /><polyline points="1018,157.96 1018.4,158.5 1018.8,157.88 1019.2,158.17 1019.6,157.38 1020,158.8 1020.4,157.29 1020.8,157.12 1021.2,157.25 1021.6,157.8 1022,157.44 1022.4,157.79 1022.8,157.1 1023.2,156.44 1023.6,157.29 1024,157.31 1024.4,157.49 1024.8,157.74 1025.2,158.12 1025.6,158.34 1026,158.14 1026.4,158.14 1026.8,158.22 1027.2,158.41 1027.6,159.57 1028,159.13 1028.4,159.93 1028.8,159.08 1029.2,159.87 1029.6,158.93 1030,158.5 1030.4,158.81 1030.8,159.03 1031.2,158.79 1031.6,157.76 1032,159.3 1032.4,158.42 1032.8,159.19 1033.2,158.4 1033.6,159.77 1034,159.17 1034.4,159.68 1034.8,159.27 1035.2,158.91 1035.6,159.79 1036,158.85 1036.4,159.78 1036.8,159.92 1037.2,159.62 1037.6,158.68 1038,158.66 1038.4,158.55 1038.8,160.1 1039.2,159.87 1039.6,159.94 1040,159.94 1040.4,160.11 1040.8,160.17 1041.2,159.93 1041.6,160.68 1042,160.99 1042.4,159.99 1042.8,160.46 1043.2,160.89 1043.6,160.49 1044,160.07 1044.4,160.98 1044.8,159.85 1045.2,159.64 1045.6,160.5 1046,160.14 1046.4,160.47 1046.8,161.3 1047.2,160.94 1047.6,160.51 1048,160.09 1048.4,160.19 1048.8,159.57 1049.2,159.8 1049.6,159.61 1050,159.71 1050.4,160.27 1050.8,160.32 1051.2,160.42 1051.6,160.78 1052,161.55 1052.4,160.43 1052.8,161.41 1053.2,159.71 1053.6,160.02 1054,160.6 1054.4,160.86 1054.8,161.45 1055.2,162.03 1055.6,161.57 1056,160.5 1056.4,161.52 1056.8,161.71 1057.2,161.69 1057.6,162.23 1058,161.54 1058.4,161.87 1058.8,161.87 1059.2,162 1059.6,161.57 1060,162.46 1060.4,162.6 1060.8,162.51 1061.2,162.76 1061.6,161.65 1062,162.63 1062.4,161.62 1062.8,161.64 1063.2,161.03 1063.6,162.17 1064,163.06 1064.4,162.45 1064.8,161.97 1065.2,162.85 1065.6,162.95 1066,163.17 1066.4,162.17 1066.8,161.91 1067.2,162.12 1067.6,162.81 1068,162.73 1068.4,162.93 1068.8,162.57 1069.2,163.02 1069.6,163.42 1070,162.52 1070.4,162.54 1070.8,163.23 1071.2,162.3 1071.6,162.82 1072,162.08 1072.4,162.43 1072.8,163.05 1073.2,164.21 1073.6,163.49 1074,165.38 1074.4,165.05 1074.8,165.85 1075.2,164.52 1075.6,164.23 1076,164.65 1076.4,165.3 1076.8,163.94 1077.2,163.58 1077.6,164.28 1078,164.4 1078.4,164.18 1078.8,163.1 1079.2,163.45 1079.6,164.11 1080,163.4 1080.4,163.63 1080.8,163.47 1081.2,163.17 1081.6,163.24 1082,164.09 1082.4,164.63 1082.8,164.72 1083.2,163.39 1083.6,162.98 1084,164.55 1084.4,164.33 1084.8,162.93 1085.2,163.83 1085.6,163.11 1086,163.44 1086.4,162.52 1086.8,163.81 1087.2,163.42 1087.6,162.98 1088,162.87 1088.4,162.53 1088.8,162.42 1089.2,162.11 1089.6,161.08 1090,161.51 1090.4,161.94 1090.8,161.68 1091.2,162.25 1091.6,162.46 1092,161.63 1092.4,162.07 1092.8,161.87 1093.2,162.09 1093.6,161.6 1094,163.05 1094.4,161.38 1094.8,161.35 1095.2,162.87 1095.6,161.98 1096,162.12 1096.4,162.39 1096.8,162.35 1097.2,161.37 1097.6,161.3 1098,162.12 1098.4,162.67 1098.8,161.25 1099.2,161.11 1099.6,161.76 1100,161.26 1100.4,160.94 1100.8,161.57 1101.2,161.7 1101.6,161.36 1102,161.26 1102.4,161.06 1102.8,159.87 1103.2,160.29 1103.6,159.76 1104,159.56 1104.4,159.89 1104.8,160.58 1105.2,160.89 1105.6,160.84 1106,161.02 1106.4,160.27 1106.8,161.08 1107.2,160.13 1107.6,161.83 1108,161.16 1108.4,160.95 1108.8,159.98 1109.2,160.22 1109.6,159.48 1110,160.58 1110.4,159.93 1110.8,159.94 1111.2,160.71 1111.6,160.05 1112,159.05 1112.4,160.5 1112.8,159.64 1113.2,159.72 1113.6,159.55 1114,159.81 1114.4,159.14 1114.8,159.89 1115.2,158.98 1115.6,159.07 1116,160.45 1116.4,159.71 1116.8,160.27 1117.2,159.82 1117.6,159.44 1118,158.77 1118.4,158.17 1118.8,158.28 1119.2,159.08 1119.6,158.62 1120,158.21 1120.4,157.28 1120.8,158.17 1121.2,160 1121.6,159.73 1122,159.31 1122.4,160.52 1122.8,160.08 1123.2,158.93 1123.6,159.9 1124,159.74 1124.4,158.95 1124.8,158.74 1125.2,159.71 1125.6,159.49 1126,159.25 1126.4,159.75 1126.8,158.75 1127.2,158.69 1127.6,159.87 1128,159.69 1128.4,159.34 1128.8,158.67 1129.2,159.36 1129.6,160.28 1130,159.2 1130.4,160.13 1130.8,160.54 1131.2,159.38 1131.6,160.26 1132,160.16 1132.4,160.65 1132.8,160.53 1133.2,160.37 1133.6,160.2 1134,159.18 1134.4,160.5 1134.8,160.47 1135.2,159.4 1135.6,159.97 1136,160.22 1136.4,160.86 1136.8,160.96 1137.2,160.86 1137.6,159.9 1138,160.26 1138.4,159.91 1138.8,159.47 1139.2,160.61 1139.6,160.87 1140,159.06 1140.4,159.31 1140.8,160.86 1141.2,160.52 1141.6,160.16 1142,159.82 1142.4,160.47 1142.8,159.64 1143.2,159.4 1143.6,160.68 1144,160.25 1144.4,160.22 1144.8,161.56 1145.2,160.5 1145.6,160.61 1146,160.37 1146.4,160.44 1146.8,159.85 1147.2,161.12 1147.6,160.4 1148,160.12 1148.4,160.58 1148.8,159.92 1149.2,160.18 1149.6,159.82 1150,160.18 1150.4,159.69 1150.8,159.71 1151.2,159.69 1151.6,159.43 1152,158.53 1152.4,158.89 1152.8,159.04 1153.2,160.19 1153.6,158.89 1154,158.81 1154.4,159.94 1154.8,160.02 1155.2,159.74 1155.6,159.45 1156,159.33 1156.4,160.44 1156.8,159.61 1157.2,160.21 1157.6,160.29 1158,159.54 1158.4,159.3 1158.8,160.08 1159.2,159.9 1159.6,161.12 1160,160.96 1160.4,159.53 1160.8,160.86 1161.2,160.45 1161.6,159.82 1162,159.85 1162.4,159.45 1162.8,160.3 1163.2,161.1 1163.6,159.88 1164,161.05 1164.4,160.56 1164.8,160.41 1165.2,160.84 1165.6,161.32 1166,160.33 1166.4,161.19 1166.8,159.77 1167.2,160.07 1167.6,159.89 1168,160.09" fill="none" stroke="#0000ff" stroke-width="1.3" stroke-linejoin="round" stroke-linecap="round" /><line x1="984.7" y1="158.5" x2="1018" y2="158.5" stroke="#ff0000" stroke-width="1.4" /><ellipse cx="1021" cy="158.5" rx="3" ry="2" fill="none" stroke="#138013" stroke-width="1.3"/><polyline points="1072.3,136.76 1073.6,117.3 1074.9,125" fill="none" stroke="#138013" stroke-width="1.2" stroke-linejoin="miter"/><polyline points="1072.3,180.24 1073.6,196 1074.9,192" fill="none" stroke="#138013" stroke-width="1.2" stroke-linejoin="miter"/><polyline points="1072.6,141.64 1073.9,131 1075.2,136.81" fill="none" stroke="#ff0000" stroke-width="1.2" stroke-linejoin="miter"/><polyline points="1072.6,175.36 1073.9,184 1075.2,180.19" fill="none" stroke="#ff0000" stroke-width="1.2" stroke-linejoin="miter"/><polyline points="1128.4,151.71 1129.7,133.9 1131,150.69" fill="none" stroke="#138013" stroke-width="1.2" stroke-linejoin="miter"/><polyline points="1128.4,165.29 1129.7,172.9 1131,166.31" fill="none" stroke="#138013" stroke-width="1.2" stroke-linejoin="miter"/><polyline points="1129.1,154.74 1130.4,146.9 1131.7,153.91" fill="none" stroke="#ff0000" stroke-width="1.2" stroke-linejoin="miter"/><polyline points="1129.1,162.26 1130.4,168 1131.7,163.09" fill="none" stroke="#ff0000" stroke-width="1.2" stroke-linejoin="miter"/><polyline points="1072.9,154.6 1074.2,151 1075.5,152.31" fill="none" stroke="#0000ff" stroke-width="1.2" stroke-linejoin="miter"/><polyline points="1072.9,162.4 1074.2,166 1075.5,164.69" fill="none" stroke="#0000ff" stroke-width="1.2" stroke-linejoin="miter"/><polyline points="1112.6,148.47 1113.1,174.2 1113.6,136.96 1114.1,188.33 1114.6,128.54 1115.1,181.88 1115.6,138.1 1116.1,171.87" fill="none" stroke="#138013" stroke-width="1.0" stroke-linejoin="round" stroke-linecap="round" /><polyline points="1112.9,164.56 1113.4,148.91 1113.9,169.8 1114.4,140.89 1114.9,176.13 1115.4,140.34 1115.9,170.01 1116.4,150.02" fill="none" stroke="#ff0000" stroke-width="1.0" stroke-linejoin="round" stroke-linecap="round" /><polyline points="870.8,302.03 871.2,300.56 871.6,299.76 872,299.74 872.4,300.81 872.8,298.91 873.2,299.43 873.6,298.2 874,299.06 874.4,297.86 874.8,296.91 875.2,298.73 875.6,297.66 876,299.76 876.4,298.91 876.8,296.14 877.2,297.03 877.6,296.12 878,294.94 878.4,295.45 878.8,296.19 879.2,296.81 879.6,296.01 880,293.8 880.4,293.35 880.8,294.26 881.2,293.26 881.6,294.26 882,294.67 882.4,297.3 882.8,296.78 883.2,296.75 883.6,295.23 884,296.61 884.4,294.22 884.8,293.99 885.2,294.46 885.6,294.61 886,293.3 886.4,291.65 886.8,294.59 887.2,295.16 887.6,295.53 888,295.86 888.4,295.57 888.8,295.32 889.2,294.5 889.6,294.86 890,292.69 890.4,293.95 890.8,294.19 891.2,293.1 891.6,294.8 892,295.39 892.4,294.58 892.8,294.55 893.2,296.02 893.6,295.88 894,295.63 894.4,296.55 894.8,296.66 895.2,296.56 895.6,297.08 896,295.73 896.4,295.97 896.8,294.94 897.2,294.38 897.6,293.24 898,292.11 898.4,291.23 898.8,292.03 899.2,292.05 899.6,291.07 900,290.28 900.4,289.38 900.8,290.38 901.2,289.79 901.6,291.24 902,292.28 902.4,291.18 902.8,291.03 903.2,290.53 903.6,291.7 904,288.89 904.4,289.19 904.8,290.16 905.2,288.94 905.6,290.78 906,290.42 906.4,289.44 906.8,286.39 907.2,286.11 907.6,286.82 908,286.85 908.4,288.29 908.8,285.59 909.2,287.72 909.6,286.18 910,287.36 910.4,286.58 910.8,287.83 911.2,286.9 911.6,288.11 912,286.75 912.4,287.26 912.8,286.27 913.2,287.33 913.6,286.98 914,289.12 914.4,288.81 914.8,289.82 915.2,289.75 915.6,292.07 916,290.92 916.4,291.34 916.8,290.48 917.2,291.1 917.6,292.34 918,292.76 918.4,292.76 918.8,293.11 919.2,291.64 919.6,292.74 920,292.76 920.4,294.05 920.8,290.87 921.2,290.88 921.6,290.43 922,289.94 922.4,291.97 922.8,292.89 923.2,291.83 923.6,289.95 924,290.96 924.4,292.05 924.8,291.37 925.2,291.54 925.6,295.15 926,294.35 926.4,294.39 926.8,294.03 927.2,293.95 927.6,292.63 928,293.05 928.4,294.37 928.8,296.98 929.2,296.01 929.6,294.52 930,295.45 930.4,295.34 930.8,293.26 931.2,292.38 931.6,293.11 932,293.58 932.4,293.46 932.8,294.54 933.2,296.11 933.6,294.44 934,294.89 934.4,294.03 934.8,294.99 935.2,296.39 935.6,294.71 936,297.03 936.4,297.43 936.8,297.91 937.2,298.73 937.6,300.06 938,299.87 938.4,299.44 938.8,297.47 939.2,296.89 939.6,296.42 940,297.54 940.4,297.3 940.8,295.55 941.2,295.06 941.6,297.25 942,295.96 942.4,296.54 942.8,297.74 943.2,293.73 943.6,294.38 944,292.99 944.4,294.08 944.8,293.24 945.2,293.01 945.6,291.69 946,292.71 946.4,289.51 946.8,289.35 947.2,283.34 947.6,279.41 948,290.15 948.4,287.17 948.8,279.01 949.2,280.29 949.6,286.65 950,282.84 950.4,277.93 950.8,284.11 951.2,281.49 951.6,284.36 952,280.6 952.4,281.97 952.8,278 953.2,273.3 953.6,271.19 954,278.4 954.4,271.35 954.8,274.92 955.2,273.28 955.6,277.47 956,272.74 956.4,267.89 956.8,268.48 957.2,271.31 957.6,269.53 958,271.76 958.4,275.73 958.8,274.94 959.2,278.66 959.6,275.18 960,269.93 960.4,271.8 960.8,271.69 961.2,276.96 961.6,277.24 962,269.84 962.4,264.3 962.8,266.5 963.2,270.82 963.6,270.61 964,269.76 964.4,266.9 964.8,277.26 965.2,270.77 965.6,269.31 966,279.12 966.4,275.44 966.8,271.25 967.2,273.86 967.6,277.34 968,271.36 968.4,283.17 968.8,282.92 969.2,274.81 969.6,282.84 970,279.15 970.4,289.83 970.8,291.37 971.2,280.91 971.6,290.66 972,282.86 972.4,289.76 972.8,288.39 973.2,290.57 973.6,290.99 974,291.62 974.4,292.06 974.8,293.88 975.2,295.36 975.6,296.38 976,298.96 976.4,298.47 976.8,298.08 977.2,298.57 977.6,301.06 978,302.45 978.4,303.73 978.8,305.89 979.2,307.24 979.6,307.83 980,308.87 980.4,309.32 980.8,311.59 981.2,313.15 981.6,313.66 982,315.59 982.4,317.7 982.8,318.99" fill="none" stroke="#138013" stroke-width="1.3" stroke-linejoin="round" stroke-linecap="round" /><polyline points="870.8,310.1 871.2,308.87 871.6,309.18 872,308.39 872.4,309.33 872.8,307.45 873.2,308.65 873.6,306.78 874,306.47 874.4,307.43 874.8,306.1 875.2,306.12 875.6,307.05 876,306.64 876.4,308.31 876.8,307.78 877.2,308.2 877.6,308.11 878,308.43 878.4,309.54 878.8,309.18 879.2,308.81 879.6,309.22 880,308.87 880.4,308.12 880.8,305.82 881.2,307.01 881.6,308.01 882,306.85 882.4,307.31 882.8,307.1 883.2,308.27 883.6,308.06 884,308.82 884.4,307.12 884.8,307.92 885.2,308.66 885.6,307.82 886,307.08 886.4,308.25 886.8,307.29 887.2,306.67 887.6,307.15 888,308.22 888.4,307.33 888.8,306.89 889.2,306.65 889.6,305.04 890,306.36 890.4,305.89 890.8,306.09 891.2,306.84 891.6,305.27 892,307.34 892.4,307.02 892.8,307.4 893.2,305.52 893.6,306.73 894,304.67 894.4,305.95 894.8,306.26 895.2,306.84 895.6,306.04 896,307.04 896.4,305.01 896.8,303.81 897.2,303.98 897.6,305.22 898,304.56 898.4,305.84 898.8,305.13 899.2,303.77 899.6,303.64 900,302.37 900.4,304.38 900.8,303.8 901.2,304.96 901.6,305.3 902,305.06 902.4,302.88 902.8,303.7 903.2,302.94 903.6,302.6 904,301.57 904.4,301.53 904.8,302.87 905.2,302.04 905.6,301.89 906,303.2 906.4,303.18 906.8,303.92 907.2,304.02 907.6,303.67 908,303.25 908.4,303.49 908.8,302.22 909.2,304.68 909.6,304.3 910,303.24 910.4,302.93 910.8,302.34 911.2,303.38 911.6,303.5 912,301.69 912.4,303.34 912.8,303.34 913.2,302.04 913.6,304.04 914,303.28 914.4,303.52 914.8,305.54 915.2,304.79 915.6,305.61 916,306.22 916.4,306.68 916.8,305.69 917.2,304.88 917.6,305.93 918,305.81 918.4,305.1 918.8,306.73 919.2,306.63 919.6,305.89 920,304.65 920.4,305.77 920.8,305.4 921.2,304.65 921.6,305.13 922,304.49 922.4,305.4 922.8,304.96 923.2,306.33 923.6,304.93 924,304.13 924.4,302.72 924.8,303.55 925.2,305.89 925.6,306.66 926,305.63 926.4,304.9 926.8,303.88 927.2,304.01 927.6,304.21 928,304.86 928.4,304.98 928.8,304.71 929.2,303.76 929.6,304.04 930,304.66 930.4,303.43 930.8,304.08 931.2,304.28 931.6,304.62 932,304.32 932.4,304.17 932.8,304.47 933.2,305.21 933.6,305.08 934,305.17 934.4,306.55 934.8,306.63 935.2,304.44 935.6,305.26 936,306.51 936.4,305.88 936.8,305.32 937.2,306.74 937.6,306.24 938,305.72 938.4,304.84 938.8,305.17 939.2,303.36 939.6,303.61 940,303.34 940.4,305.1 940.8,304.48 941.2,304.48 941.6,304.92 942,305.46 942.4,305.08 942.8,305.17 943.2,304.61 943.6,303.44 944,301.62 944.4,301.55 944.8,300.43 945.2,302.11 945.6,299.92 946,299.02 946.4,298.31 946.8,300.06 947.2,297.57 947.6,297.33 948,296.5 948.4,297.31 948.8,299.05 949.2,297.36 949.6,291.95 950,296.84 950.4,298.48 950.8,291.73 951.2,294.79 951.6,286.86 952,291.59 952.4,290.98 952.8,292.35 953.2,291.46 953.6,294.68 954,287.08 954.4,287.33 954.8,294.12 955.2,286.12 955.6,285.12 956,289.89 956.4,292.09 956.8,283.4 957.2,285.33 957.6,286 958,290.08 958.4,287.78 958.8,289.31 959.2,291.95 959.6,291.97 960,291.78 960.4,289.21 960.8,287.8 961.2,280.52 961.6,283.28 962,278.38 962.4,284.72 962.8,279.75 963.2,285.98 963.6,280.55 964,282.42 964.4,285.17 964.8,291.27 965.2,287 965.6,287.28 966,291.46 966.4,291.84 966.8,293.44 967.2,291.87 967.6,289.96 968,290.76 968.4,287.3 968.8,298.47 969.2,288.84 969.6,296.02 970,297.45 970.4,299.55 970.8,299.45 971.2,299.9 971.6,297.39 972,300.2 972.4,298.97 972.8,298.72 973.2,300.96 973.6,301.34 974,302.78 974.4,302.58 974.8,304.01 975.2,305.94 975.6,305.22 976,307.97 976.4,307.6 976.8,307.54 977.2,306.8 977.6,309.34 978,308.3 978.4,308.73 978.8,309.87 979.2,309.51 979.6,311.61 980,312.52 980.4,312.57 980.8,313.51 981.2,313.32 981.6,314.89 982,314.91 982.4,314.42 982.8,313.65" fill="none" stroke="#0000ff" stroke-width="1.3" stroke-linejoin="round" stroke-linecap="round" /><polyline points="870.8,312.94 871.2,312.86 871.6,313.26 872,312.44 872.4,312.34 872.8,311.85 873.2,311.77 873.6,312.52 874,313.37 874.4,313.41 874.8,313.35 875.2,313.2 875.6,312.26 876,312.55 876.4,312.99 876.8,312.79 877.2,312.53 877.6,312.78 878,312.68 878.4,312.94 878.8,313.34 879.2,313.01 879.6,313.05 880,312.83 880.4,312.43 880.8,312.63 881.2,313.21 881.6,313.01 882,313.69 882.4,312.64 882.8,312.94 883.2,312.98 883.6,312.88 884,313.22 884.4,313.29 884.8,313.49 885.2,313.34 885.6,313.26 886,313.31 886.4,312.54 886.8,313.51 887.2,312.97 887.6,313.28 888,314.16 888.4,313.47 888.8,312.86 889.2,313.88 889.6,313.98 890,313.58 890.4,313.01 890.8,312.71 891.2,312.9 891.6,312.72 892,313.37 892.4,312.66 892.8,312.78 893.2,312.44 893.6,313.2 894,313.4 894.4,313.13 894.8,313.41 895.2,313.44 895.6,313.09 896,313.31 896.4,314.21 896.8,313.32 897.2,313.16 897.6,313.71 898,313.2 898.4,313.97 898.8,313.01 899.2,313.95 899.6,313.37 900,313.36 900.4,313.22 900.8,312.92 901.2,313.8 901.6,313.41 902,314.12 902.4,313.57 902.8,314.2 903.2,314.66 903.6,313.86 904,313.74 904.4,313.4 904.8,313.67 905.2,312.96 905.6,312.71 906,311.94 906.4,312.78 906.8,312.8 907.2,312.71 907.6,312.87 908,312.79 908.4,312.47 908.8,313.16 909.2,312.76 909.6,312.94 910,312.97 910.4,312.54 910.8,312.49 911.2,312.54 911.6,312.94 912,313.55 912.4,314.25 912.8,314.1 913.2,314.49 913.6,315.24 914,315.31 914.4,314.07 914.8,314.62 915.2,313.88 915.6,313.62 916,313.39 916.4,313.29 916.8,313.36 917.2,313.85 917.6,314.37 918,313.41 918.4,313.42 918.8,313.37 919.2,314.74 919.6,314.63 920,313.9 920.4,314.18 920.8,314.31 921.2,313.3 921.6,314.21 922,314.3 922.4,314.24 922.8,314.21 923.2,314.28 923.6,313.69 924,314.33 924.4,314.68 924.8,315.57 925.2,314.63 925.6,314.49 926,314.48 926.4,313.61 926.8,314.52 927.2,314.58 927.6,314.76 928,314.43 928.4,314.87 928.8,314.8 929.2,315.14 929.6,316.05 930,315.42 930.4,316.09 930.8,315.53 931.2,315.89 931.6,316.51 932,315.88 932.4,316.04 932.8,315.41 933.2,315.37 933.6,315.5 934,315.36 934.4,314.96 934.8,315.72 935.2,315.03 935.6,315.08 936,315.5 936.4,315.65 936.8,315.55 937.2,316.82 937.6,316.33 938,316.17 938.4,315.86 938.8,315.21 939.2,315.41 939.6,315.04 940,314.88 940.4,315.34 940.8,314.87 941.2,315.44 941.6,315.4 942,315.46 942.4,315.93 942.8,316.24 943.2,316.27 943.6,316.45 944,315.82 944.4,315.74 944.8,315.33 945.2,316.21 945.6,316.32 946,315.89 946.4,316.58 946.8,316.01 947.2,315.51 947.6,316.02 948,316.12 948.4,316.76 948.8,315.25 949.2,315.67 949.6,316.76 950,316.9 950.4,316.29 950.8,315.58 951.2,315.68 951.6,315.83 952,316.2 952.4,316.59 952.8,316.16 953.2,316.7 953.6,316.08 954,316.42 954.4,316.42 954.8,316.27 955.2,316.93 955.6,316.22 956,316.51 956.4,316.41 956.8,316.3 957.2,316.28 957.6,316.29 958,317.2 958.4,316.67 958.8,317.49 959.2,316.9 959.6,316.9 960,316.64 960.4,316.92 960.8,316.41 961.2,316.44 961.6,317.18 962,317.16 962.4,316.71 962.8,316.49 963.2,316.12 963.6,316.61 964,317.58 964.4,317.47 964.8,317.74 965.2,318.03 965.6,318.31 966,317.58 966.4,317.45 966.8,317.88 967.2,317.51 967.6,316.97 968,316.86 968.4,317.17 968.8,317.08 969.2,317.31 969.6,316.68 970,316.91 970.4,316.47 970.8,316.24 971.2,316.51 971.6,317.2 972,317.41 972.4,317.62 972.8,317.42 973.2,317.17 973.6,317.69 974,317.32 974.4,317.27 974.8,317.18 975.2,317.35 975.6,317.64 976,317.07 976.4,317.75 976.8,317.71 977.2,317.75 977.6,317.52 978,318.33 978.4,318.15 978.8,317.9 979.2,317.99 979.6,316.92 980,316.98 980.4,317.04 980.8,316.94 981.2,317.06 981.6,317.87 982,317.5 982.4,318.25 982.8,317.85" fill="none" stroke="#ff0000" stroke-width="1.3" stroke-linejoin="round" stroke-linecap="round" /><polyline points="870.8,330.84 871.2,333.05 871.6,332.27 872,331.87 872.4,333.59 872.8,332.48 873.2,332.8 873.6,332.98 874,333.69 874.4,334.66 874.8,336.33 875.2,335.98 875.6,336.4 876,337.74 876.4,337.38 876.8,337.89 877.2,337.75 877.6,338.49 878,337.26 878.4,336.55 878.8,336.38 879.2,336.01 879.6,336.28 880,338.07 880.4,337.64 880.8,335.94 881.2,338.38 881.6,337.82 882,338.68 882.4,337.6 882.8,339.3 883.2,339.69 883.6,339.76 884,340.04 884.4,339.79 884.8,341.08 885.2,339.27 885.6,340.51 886,339.22 886.4,340.36 886.8,340.62 887.2,342.51 887.6,341.33 888,341.72 888.4,341.09 888.8,341.16 889.2,340.29 889.6,340.13 890,342.6 890.4,342.62 890.8,342.94 891.2,342.85 891.6,342.36 892,344.91 892.4,344.73 892.8,341.81 893.2,343.16 893.6,343.13 894,344.94 894.4,344.36 894.8,343.51 895.2,345 895.6,343.19 896,345.4 896.4,343.49 896.8,344.47 897.2,344.63 897.6,345.82 898,342.96 898.4,343.64 898.8,344.12 899.2,345.93 899.6,347.34 900,346.16 900.4,346.13 900.8,347.01 901.2,345.74 901.6,346.22 902,345.82 902.4,346.02 902.8,346.85 903.2,346.05 903.6,347.12 904,347.85 904.4,348.36 904.8,348.77 905.2,347.7 905.6,348.34 906,346.51 906.4,349.94 906.8,348.15 907.2,349.37 907.6,348.75 908,346.77 908.4,348.39 908.8,349.61 909.2,348.1 909.6,348.28 910,349.37 910.4,348.69 910.8,350.7 911.2,348.94 911.6,347.29 912,348.57 912.4,347.98 912.8,349.56 913.2,349.12 913.6,346.46 914,347.91 914.4,346.81 914.8,345.68 915.2,345.72 915.6,347.25 916,347.44 916.4,344.37 916.8,345.2 917.2,345.77 917.6,347.2 918,344.64 918.4,344.32 918.8,346.93 919.2,345.91 919.6,345.94 920,348.05 920.4,344.04 920.8,346.11 921.2,345.49 921.6,347.8 922,345.57 922.4,345.17 922.8,345.79 923.2,344.7 923.6,345.82 924,344.2 924.4,343.21 924.8,343.91 925.2,344.01 925.6,343.96 926,343.17 926.4,341.98 926.8,342.43 927.2,340.99 927.6,342.35 928,340.53 928.4,339.62 928.8,339.1 929.2,341.74 929.6,340.83 930,339.41 930.4,340.47 930.8,343.4 931.2,341.18 931.6,340.21 932,340.78 932.4,340.97 932.8,341.27 933.2,338.4 933.6,338.97 934,338.03 934.4,341 934.8,340.09 935.2,341.97 935.6,340.95 936,342.08 936.4,340.33 936.8,338.58 937.2,339.89 937.6,338.25 938,339.03 938.4,338.08 938.8,338.16 939.2,339.13 939.6,338.7 940,336.89 940.4,339.15 940.8,339.1 941.2,337.56 941.6,340.65 942,339.89 942.4,340.09 942.8,340.77 943.2,340.8 943.6,338.68 944,341.49 944.4,342.6 944.8,341.95 945.2,342.33 945.6,342.17 946,343.78 946.4,344.49 946.8,345.58 947.2,341.54 947.6,340.17 948,344.48 948.4,352.35 948.8,341.61 949.2,346.26 949.6,352.89 950,353.24 950.4,343.43 950.8,350.82 951.2,351.22 951.6,345.06 952,343.86 952.4,352.18 952.8,353.21 953.2,350.83 953.6,346.75 954,354.55 954.4,349.94 954.8,349.78 955.2,352.94 955.6,350.65 956,352.01 956.4,350.78 956.8,347.99 957.2,359.46 957.6,352.91 958,352.16 958.4,359 958.8,352.29 959.2,362.25 959.6,351.5 960,352.79 960.4,353.24 960.8,358.65 961.2,354.67 961.6,354.38 962,363.79 962.4,355.99 962.8,361.2 963.2,363.11 963.6,361.72 964,363.76 964.4,366.88 964.8,357.15 965.2,361.24 965.6,362.41 966,361.32 966.4,360.17 966.8,356.88 967.2,362.12 967.6,365.41 968,354.59 968.4,363.96 968.8,364.82 969.2,361.04 969.6,360.03 970,363.61 970.4,359.81 970.8,361.92 971.2,353.48 971.6,353.47 972,345.17 972.4,349.58 972.8,348.28 973.2,347.6 973.6,345.1 974,345.55 974.4,344 974.8,343.17 975.2,339.36 975.6,336.9 976,336.14 976.4,335.15 976.8,335.49 977.2,333.77 977.6,331.7 978,332.59 978.4,332.74 978.8,331.81 979.2,331.08 979.6,330.77 980,327.92 980.4,328.2 980.8,325.51 981.2,324.26 981.6,324.46 982,320.35 982.4,320.5 982.8,319.9" fill="none" stroke="#138013" stroke-width="1.3" stroke-linejoin="round" stroke-linecap="round" /><polyline points="870.8,326.73 871.2,326.67 871.6,327 872,327.19 872.4,327.28 872.8,327.65 873.2,328.03 873.6,327.27 874,327.31 874.4,329.58 874.8,328.72 875.2,327.44 875.6,329.86 876,330.49 876.4,329.2 876.8,330.26 877.2,331.39 877.6,329.84 878,329.89 878.4,329.79 878.8,329.22 879.2,330.06 879.6,328.53 880,329.48 880.4,329.27 880.8,330.06 881.2,329.05 881.6,329.65 882,330.89 882.4,330.73 882.8,329.3 883.2,330.51 883.6,330.13 884,330.61 884.4,330.13 884.8,330.64 885.2,330.95 885.6,330.83 886,331.07 886.4,331.19 886.8,330.86 887.2,331.2 887.6,331.11 888,329.79 888.4,329.55 888.8,328.97 889.2,329.17 889.6,329.31 890,330.3 890.4,330.21 890.8,329.89 891.2,330.41 891.6,329.21 892,329.14 892.4,329.66 892.8,329.72 893.2,329.42 893.6,331.13 894,330.03 894.4,331.15 894.8,330.83 895.2,330.3 895.6,330.44 896,329.8 896.4,330.71 896.8,332.03 897.2,331.9 897.6,332.58 898,332.32 898.4,330.48 898.8,331.05 899.2,331.91 899.6,331.7 900,332.74 900.4,331.02 900.8,330.92 901.2,331.31 901.6,333 902,332.71 902.4,332.95 902.8,332.77 903.2,331.96 903.6,331.84 904,333.57 904.4,332.55 904.8,332.35 905.2,331.98 905.6,333.03 906,333.06 906.4,333.69 906.8,332.33 907.2,332.8 907.6,332.23 908,333.15 908.4,333.43 908.8,333.62 909.2,332.84 909.6,334.14 910,334.19 910.4,333.82 910.8,333.92 911.2,334.73 911.6,333.46 912,332.72 912.4,332.71 912.8,331.62 913.2,332.9 913.6,333.36 914,333.2 914.4,333.15 914.8,333.65 915.2,333.37 915.6,332.45 916,334.45 916.4,332.52 916.8,333.42 917.2,334.77 917.6,334.37 918,333.3 918.4,333.6 918.8,332.41 919.2,334.02 919.6,333.14 920,333.46 920.4,332.95 920.8,334.7 921.2,334.14 921.6,332.93 922,333.53 922.4,334.09 922.8,334.47 923.2,334.53 923.6,335.29 924,334.55 924.4,334.12 924.8,333.62 925.2,333.34 925.6,334.91 926,335.06 926.4,335.14 926.8,334.25 927.2,332.84 927.6,333.16 928,334.09 928.4,334.32 928.8,334.42 929.2,334.11 929.6,333.92 930,333.78 930.4,333.11 930.8,332.55 931.2,333.28 931.6,332.64 932,332.04 932.4,332.34 932.8,332.65 933.2,331.91 933.6,332.2 934,331.66 934.4,331.83 934.8,330.74 935.2,330.22 935.6,331.28 936,330.68 936.4,331.33 936.8,331.54 937.2,330.61 937.6,332.64 938,331.56 938.4,331.7 938.8,330.97 939.2,330.51 939.6,331.01 940,331.7 940.4,332.07 940.8,331.65 941.2,332.34 941.6,331.25 942,329.85 942.4,331.54 942.8,329.88 943.2,331 943.6,332.14 944,332.29 944.4,331.45 944.8,332.01 945.2,331.05 945.6,330.75 946,332.13 946.4,332.82 946.8,334.05 947.2,334.18 947.6,334.8 948,334.48 948.4,334.48 948.8,334.11 949.2,338.09 949.6,334.77 950,337.16 950.4,343.71 950.8,343.4 951.2,341.37 951.6,335.68 952,335.42 952.4,334.49 952.8,339.18 953.2,338.51 953.6,343.08 954,340.35 954.4,336.73 954.8,345.28 955.2,339 955.6,342.93 956,344.71 956.4,342.63 956.8,346.14 957.2,343.92 957.6,339.28 958,339.59 958.4,343.87 958.8,343.63 959.2,345.13 959.6,339.1 960,338.1 960.4,341.81 960.8,342.09 961.2,346.65 961.6,348.23 962,344.03 962.4,341.47 962.8,351.08 963.2,349.75 963.6,341.62 964,349.33 964.4,343.28 964.8,349.79 965.2,351.89 965.6,348.16 966,349.79 966.4,344.4 966.8,347.09 967.2,345.14 967.6,343.86 968,342.48 968.4,345.94 968.8,347.25 969.2,347.66 969.6,346.16 970,344.36 970.4,340.88 970.8,341.08 971.2,338.47 971.6,341.56 972,341.84 972.4,334.3 972.8,336.03 973.2,335.19 973.6,334.06 974,332.81 974.4,331.37 974.8,330.46 975.2,329.64 975.6,329.49 976,328.99 976.4,329.03 976.8,328.13 977.2,327.22 977.6,327.05 978,326.87 978.4,325.19 978.8,324.54 979.2,324.25 979.6,322.83 980,322.23 980.4,320.63 980.8,321.62 981.2,321.53 981.6,321.3 982,320.23 982.4,320.62 982.8,320.51" fill="none" stroke="#0000ff" stroke-width="1.3" stroke-linejoin="round" stroke-linecap="round" /><polyline points="870.8,323.09 871.2,322.75 871.6,323.01 872,323.46 872.4,323.11 872.8,323.39 873.2,323.13 873.6,322.62 874,323.13 874.4,323.58 874.8,323.81 875.2,324.06 875.6,324.9 876,324.09 876.4,323.73 876.8,323.89 877.2,323.87 877.6,323.52 878,323.53 878.4,323.68 878.8,324.25 879.2,324.59 879.6,324.41 880,324.27 880.4,324.14 880.8,323.79 881.2,324.27 881.6,323.36 882,323.87 882.4,324.44 882.8,324.08 883.2,324.39 883.6,323.71 884,324.46 884.4,324.3 884.8,324.56 885.2,324.48 885.6,324.1 886,324.31 886.4,324.02 886.8,324.41 887.2,323.96 887.6,324.02 888,323.75 888.4,324.42 888.8,324.18 889.2,324.81 889.6,324.49 890,323.97 890.4,324.36 890.8,325 891.2,325.15 891.6,324.81 892,324.92 892.4,325.79 892.8,325.61 893.2,325.9 893.6,326.05 894,325.95 894.4,326.43 894.8,325.37 895.2,325.88 895.6,324.76 896,324.07 896.4,324.32 896.8,324.68 897.2,323.81 897.6,324.08 898,323.94 898.4,324.78 898.8,325.38 899.2,324.69 899.6,325.07 900,324.48 900.4,324.46 900.8,324.25 901.2,325.44 901.6,324.42 902,324.88 902.4,324.22 902.8,324.74 903.2,324.72 903.6,325.03 904,324.68 904.4,324.05 904.8,324.55 905.2,324.24 905.6,324.95 906,324.36 906.4,324.41 906.8,324.09 907.2,324.02 907.6,324.02 908,324.41 908.4,324 908.8,324.17 909.2,323.93 909.6,324.92 910,324.7 910.4,324.42 910.8,324.41 911.2,324.81 911.6,323.99 912,324.38 912.4,325.14 912.8,324.41 913.2,324.56 913.6,324.42 914,324.7 914.4,324.57 914.8,323.61 915.2,324.83 915.6,324.19 916,323.93 916.4,323.36 916.8,323.61 917.2,323.83 917.6,323.33 918,323.93 918.4,323.32 918.8,323.19 919.2,323.9 919.6,323.22 920,323.11 920.4,324.16 920.8,323.93 921.2,323.56 921.6,324.46 922,324.82 922.4,325.49 922.8,324.63 923.2,324.14 923.6,323.79 924,324.21 924.4,323.95 924.8,322.87 925.2,323.19 925.6,322.32 926,322.64 926.4,321.84 926.8,321.79 927.2,322.51 927.6,322.35 928,321.58 928.4,321.78 928.8,322.19 929.2,322.37 929.6,322.32 930,323.5 930.4,323.72 930.8,323.05 931.2,323.35 931.6,322.47 932,323.21 932.4,322.35 932.8,322.92 933.2,322.55 933.6,322.41 934,322.77 934.4,322.75 934.8,322.65 935.2,322.54 935.6,322.03 936,322.11 936.4,322.75 936.8,322.13 937.2,323.49 937.6,323.09 938,322.06 938.4,322.71 938.8,321.67 939.2,322.64 939.6,322.07 940,321.66 940.4,322.73 940.8,321.92 941.2,322.45 941.6,321.9 942,322.1 942.4,322.08 942.8,321.74 943.2,321.9 943.6,322.48 944,322.72 944.4,321.84 944.8,322.31 945.2,321.85 945.6,322.44 946,322.13 946.4,321.72 946.8,322.02 947.2,321.14 947.6,322.03 948,321.56 948.4,322.08 948.8,321.55 949.2,320.9 949.6,321.49 950,321.98 950.4,321.72 950.8,320.9 951.2,320.84 951.6,321.67 952,321.55 952.4,321.31 952.8,320.86 953.2,320.57 953.6,320.78 954,320.51 954.4,320.29 954.8,319.69 955.2,319.3 955.6,319.25 956,319.81 956.4,320.33 956.8,320.8 957.2,320.52 957.6,320.05 958,320.28 958.4,320.19 958.8,320.34 959.2,321.29 959.6,319.82 960,320.69 960.4,320.64 960.8,320.4 961.2,319.78 961.6,320.87 962,320.23 962.4,320.4 962.8,320.87 963.2,320.11 963.6,320.3 964,320.39 964.4,320.42 964.8,320.22 965.2,319.93 965.6,319.88 966,319.8 966.4,320.08 966.8,319.61 967.2,319.43 967.6,319.24 968,320.02 968.4,319.71 968.8,319.73 969.2,319.05 969.6,319.47 970,319.56 970.4,319.98 970.8,319.03 971.2,318.96 971.6,318.93 972,319.16 972.4,318.97 972.8,318.54 973.2,319.03 973.6,318.95 974,318.06 974.4,318.17 974.8,318.11 975.2,317.56 975.6,318.33 976,318.22 976.4,318.6 976.8,318.66 977.2,317.49 977.6,317.68 978,317.7 978.4,318.53 978.8,317.99 979.2,318.89 979.6,318.17 980,318.46 980.4,318.36 980.8,317.83 981.2,317.55 981.6,317.6 982,317.57 982.4,318.07 982.8,318.15" fill="none" stroke="#ff0000" stroke-width="1.3" stroke-linejoin="round" stroke-linecap="round" /><polyline points="1027.8,318.16 1028.2,316.49 1028.6,317.5 1029,316.46 1029.4,315.59 1029.8,317.46 1030.2,316.41 1030.6,316.47 1031,316.89 1031.4,316.45 1031.8,317.3 1032.2,315.65 1032.6,314.98 1033,315.65 1033.4,313.94 1033.8,313.58 1034.2,314.86 1034.6,312.88 1035,313.49 1035.4,314.41 1035.8,313.71 1036.2,311.85 1036.6,311.93 1037,312.14 1037.4,310.45 1037.8,311.26 1038.2,311.09 1038.6,311.78 1039,310.68 1039.4,308.61 1039.8,308.91 1040.2,309.45 1040.6,308.97 1041,308.52 1041.4,308.09 1041.8,308.01 1042.2,306.35 1042.6,306.94 1043,305.51 1043.4,307.05 1043.8,305.92 1044.2,305.07 1044.6,305.61 1045,305.58 1045.4,306.71 1045.8,305.57 1046.2,306.9 1046.6,305.82 1047,304.04 1047.4,305.37 1047.8,303.31 1048.2,303.81 1048.6,304.77 1049,303.13 1049.4,303.08 1049.8,303.34 1050.2,300.94 1050.6,300.82 1051,300.3 1051.4,301.17 1051.8,299.87 1052.2,298.96 1052.6,298.02 1053,299.87 1053.4,301.12 1053.8,300.77 1054.2,300.29 1054.6,300.52 1055,300.14 1055.4,300.16 1055.8,300.8 1056.2,299.84 1056.6,299.6 1057,300.1 1057.4,298.9 1057.8,297.91 1058.2,298.38 1058.6,297.49 1059,298.98 1059.4,300.86 1059.8,299.45 1060.2,300.58 1060.6,300.68 1061,300.15 1061.4,299.81 1061.8,300.56 1062.2,298.28 1062.6,297.82 1063,300.45 1063.4,300.26 1063.8,298.69 1064.2,299.74 1064.6,301.1 1065,301.15 1065.4,300.91 1065.8,301.04 1066.2,299.69 1066.6,300.85 1067,298.16 1067.4,298.23 1067.8,299.56 1068.2,299.25 1068.6,298.29 1069,298.08 1069.4,298.3 1069.8,298.62 1070.2,297.25 1070.6,298.75 1071,295.98 1071.4,299.07 1071.8,292.79 1072.2,291.57 1072.6,290.87 1073,287.27 1073.4,288.96 1073.8,287.72 1074.2,291.56 1074.6,289.08 1075,288.03 1075.4,287.93 1075.8,292.15 1076.2,286.2 1076.6,286.79 1077,288.7 1077.4,290.14 1077.8,286.15 1078.2,287.25 1078.6,289.84 1079,287.69 1079.4,292.29 1079.8,288.03 1080.2,287.82 1080.6,291.34 1081,294.35 1081.4,288.75 1081.8,294.83 1082.2,294.34 1082.6,295.74 1083,296.91 1083.4,297.38 1083.8,298.42 1084.2,298.51 1084.6,299.94 1085,297.74 1085.4,297.23 1085.8,297.47 1086.2,297.83 1086.6,299.16 1087,298.64 1087.4,299.57 1087.8,297.73 1088.2,298.35 1088.6,298.62 1089,300.53 1089.4,298.63 1089.8,297.89 1090.2,298.86 1090.6,299.23 1091,299.49 1091.4,298.16 1091.8,298.25 1092.2,299.87 1092.6,297.78 1093,297.88 1093.4,296.67 1093.8,298.7 1094.2,297.04 1094.6,298.15 1095,297.32 1095.4,297.7 1095.8,298.86 1096.2,296.95 1096.6,298.19 1097,297.46 1097.4,297.99 1097.8,299.28 1098.2,298.97 1098.6,299.4 1099,298.7 1099.4,298.73 1099.8,297.91 1100.2,297.08 1100.6,297.53 1101,298.77 1101.4,297.46 1101.8,297.44 1102.2,297.09 1102.6,296.78 1103,297.64 1103.4,295.38 1103.8,296.83 1104.2,299.53 1104.6,299.93 1105,302.28 1105.4,304.82 1105.8,307.21 1106.2,308.97 1106.6,309.79 1107,310.01 1107.4,312.44 1107.8,314.46 1108.2,313.02 1108.6,312.44 1109,314.63 1109.4,313.25 1109.8,313.11 1110.2,313.06 1110.6,314.93 1111,314.34 1111.4,313.62 1111.8,314.64 1112.2,313.54 1112.6,313.11 1113,313.77 1113.4,313.73 1113.8,313.37 1114.2,313.51 1114.6,315.34 1115,315.88 1115.4,314.95 1115.8,316.39 1116.2,316.06 1116.6,315.48 1117,316.35 1117.4,316.83 1117.8,314.32 1118.2,316.15 1118.6,316.67 1119,315.28 1119.4,315.99 1119.8,317.33 1120.2,316.51 1120.6,318.87 1121,316.86 1121.4,316.95 1121.8,317.08 1122.2,315.28 1122.6,316.37 1123,315.86 1123.4,316.45 1123.8,316.4 1124.2,314.69 1124.6,314.24 1125,314.47 1125.4,314.78 1125.8,312.99 1126.2,313.53 1126.6,312.34 1127,313.19 1127.4,314.33 1127.8,313.97 1128.2,312.7 1128.6,314.43 1129,312.01 1129.4,311.34 1129.8,312.57 1130.2,310.17 1130.6,309.51 1131,309.51 1131.4,310.26 1131.8,308.64 1132.2,309.29 1132.6,308.66 1133,308.25 1133.4,308.94 1133.8,310.15 1134.2,309.86 1134.6,308.82 1135,311.54 1135.4,310.02 1135.8,309.4 1136.2,311.13 1136.6,310.55 1137,310.79 1137.4,310.49 1137.8,308.99 1138.2,310.3 1138.6,310.76 1139,309.96 1139.4,308.91 1139.8,309 1140.2,308.52 1140.6,309.21 1141,310.72 1141.4,309.75 1141.8,309.91 1142.2,310.29 1142.6,309.7 1143,310.98 1143.4,310.27 1143.8,310.05 1144.2,309.56 1144.6,310.47 1145,310 1145.4,309.01 1145.8,308.08 1146.2,308.57 1146.6,307.76 1147,307.81 1147.4,308.94 1147.8,308.95 1148.2,308.53 1148.6,310.83 1149,309.75 1149.4,308.05 1149.8,308.66 1150.2,307.04 1150.6,308.63 1151,307.48 1151.4,306.94 1151.8,308.67 1152.2,308.83 1152.6,307.94 1153,308.41 1153.4,307.88 1153.8,309.51 1154.2,308.92 1154.6,309.14 1155,307.37 1155.4,306.71 1155.8,308.76 1156.2,307.16 1156.6,307.75 1157,308.6 1157.4,308.22 1157.8,308.71 1158.2,309.61 1158.6,309.97 1159,309.49 1159.4,311.14 1159.8,310.96 1160.2,308.68 1160.6,310.95 1161,310.12 1161.4,309.91 1161.8,310.48 1162.2,311.11 1162.6,310.22 1163,311.12 1163.4,309.95 1163.8,310.67 1164.2,310.78 1164.6,309.91 1165,310.95 1165.4,311.21 1165.8,309.94 1166.2,312.08 1166.6,311.76 1167,311.57 1167.4,309.95 1167.8,310.59" fill="none" stroke="#138013" stroke-width="1.3" stroke-linejoin="round" stroke-linecap="round" /><polyline points="1027.8,317.94 1028.2,318.76 1028.6,318.53 1029,317.16 1029.4,318 1029.8,317.94 1030.2,317.45 1030.6,317.6 1031,316.72 1031.4,316.05 1031.8,316.01 1032.2,314.82 1032.6,314.9 1033,314.57 1033.4,315.18 1033.8,315.53 1034.2,314.56 1034.6,315.08 1035,313.84 1035.4,313.41 1035.8,313.59 1036.2,313.9 1036.6,312.66 1037,312.16 1037.4,312.31 1037.8,312.84 1038.2,311.84 1038.6,311.35 1039,311.29 1039.4,311.06 1039.8,310.93 1040.2,311.06 1040.6,310.63 1041,309.94 1041.4,309.93 1041.8,308.79 1042.2,309.34 1042.6,308.89 1043,308.89 1043.4,308.66 1043.8,308.32 1044.2,307.2 1044.6,307.4 1045,307.22 1045.4,306.35 1045.8,305.98 1046.2,306.29 1046.6,306.08 1047,306.37 1047.4,305.99 1047.8,306.33 1048.2,305.21 1048.6,304.99 1049,304.89 1049.4,304.64 1049.8,304.66 1050.2,303.82 1050.6,304.56 1051,304.58 1051.4,302.97 1051.8,302.84 1052.2,303.03 1052.6,303.9 1053,303.19 1053.4,303.22 1053.8,304.17 1054.2,304.28 1054.6,304.52 1055,304.67 1055.4,304.99 1055.8,305.79 1056.2,304.37 1056.6,305.05 1057,304.71 1057.4,306.04 1057.8,305.4 1058.2,306.08 1058.6,304.96 1059,304.69 1059.4,304.95 1059.8,305.55 1060.2,305.55 1060.6,305.06 1061,305.43 1061.4,304.53 1061.8,304.62 1062.2,304.38 1062.6,304.55 1063,305.34 1063.4,304.81 1063.8,304.35 1064.2,305.15 1064.6,305.22 1065,306.08 1065.4,305.84 1065.8,305.31 1066.2,304.84 1066.6,305.07 1067,304.52 1067.4,303.93 1067.8,305.21 1068.2,303.97 1068.6,303.64 1069,304.01 1069.4,303.97 1069.8,303.87 1070.2,303.56 1070.6,304.14 1071,301.74 1071.4,299.74 1071.8,302.23 1072.2,298.96 1072.6,297.91 1073,300.85 1073.4,300.75 1073.8,299.7 1074.2,298 1074.6,298.36 1075,298.96 1075.4,301.4 1075.8,301.41 1076.2,298.55 1076.6,300.42 1077,302.86 1077.4,301.91 1077.8,300.76 1078.2,300.46 1078.6,302.34 1079,303.19 1079.4,301.78 1079.8,304.22 1080.2,304.88 1080.6,300.57 1081,301.86 1081.4,300.79 1081.8,300.81 1082.2,302.94 1082.6,303.3 1083,303.62 1083.4,303.69 1083.8,304.88 1084.2,305 1084.6,304.29 1085,304.84 1085.4,305.44 1085.8,304.99 1086.2,306.06 1086.6,305.81 1087,305.81 1087.4,305.28 1087.8,305.51 1088.2,306.51 1088.6,306.15 1089,305.26 1089.4,306.03 1089.8,305.51 1090.2,305.02 1090.6,305.7 1091,304.8 1091.4,305.36 1091.8,305.32 1092.2,305.42 1092.6,305.61 1093,305.12 1093.4,305.68 1093.8,305.8 1094.2,306.11 1094.6,305.72 1095,304.98 1095.4,304.77 1095.8,304.6 1096.2,305.5 1096.6,304.56 1097,305.21 1097.4,305.04 1097.8,304.09 1098.2,304.51 1098.6,303.36 1099,304.06 1099.4,303.43 1099.8,303.92 1100.2,303.17 1100.6,303 1101,303.39 1101.4,303.37 1101.8,303.16 1102.2,303.59 1102.6,304.3 1103,303.53 1103.4,303.79 1103.8,304.08 1104.2,305.08 1104.6,306.68 1105,307.06 1105.4,308.76 1105.8,309.83 1106.2,310.77 1106.6,311.23 1107,312.6 1107.4,313.98 1107.8,313.79 1108.2,313.91 1108.6,314.55 1109,315.04 1109.4,314.71 1109.8,315.54 1110.2,315.45 1110.6,316.17 1111,314.84 1111.4,315.46 1111.8,315.24 1112.2,314.82 1112.6,315.14 1113,315.26 1113.4,315.7 1113.8,315.44 1114.2,316.1 1114.6,317.66 1115,317.16 1115.4,316.74 1115.8,316.38 1116.2,317.29 1116.6,316.76 1117,317.1 1117.4,317.27 1117.8,316.92 1118.2,316.58 1118.6,316.66 1119,316.56 1119.4,317.67 1119.8,318.13 1120.2,318.6 1120.6,318.76 1121,318.02 1121.4,318.5 1121.8,317.98 1122.2,317.51 1122.6,317.55 1123,317.71 1123.4,316.79 1123.8,316.63 1124.2,315.67 1124.6,315.98 1125,316.61 1125.4,315.77 1125.8,314.99 1126.2,315.39 1126.6,315 1127,314.84 1127.4,315.69 1127.8,315.69 1128.2,315.9 1128.6,315 1129,315.65 1129.4,314.86 1129.8,315.19 1130.2,314.65 1130.6,315.09 1131,314.77 1131.4,313.64 1131.8,314.1 1132.2,313.45 1132.6,313 1133,312.94 1133.4,312.53 1133.8,312.68 1134.2,313.06 1134.6,312.53 1135,312.76 1135.4,312.82 1135.8,313.24 1136.2,312.93 1136.6,313 1137,313.63 1137.4,313.72 1137.8,312.97 1138.2,313.25 1138.6,313.48 1139,312.92 1139.4,313.27 1139.8,312.57 1140.2,313.04 1140.6,314.16 1141,313.38 1141.4,311.79 1141.8,312.12 1142.2,311.6 1142.6,312.01 1143,312.06 1143.4,312.44 1143.8,312.34 1144.2,311.84 1144.6,312.7 1145,311.82 1145.4,311.89 1145.8,312.72 1146.2,313.08 1146.6,312.57 1147,312.56 1147.4,312.34 1147.8,312.4 1148.2,312.11 1148.6,311.56 1149,311.6 1149.4,311.52 1149.8,311.78 1150.2,311.9 1150.6,312.26 1151,312.5 1151.4,311.92 1151.8,312.44 1152.2,312.33 1152.6,312.74 1153,312.91 1153.4,314.06 1153.8,313.11 1154.2,313.71 1154.6,314.3 1155,313.56 1155.4,313.59 1155.8,312.99 1156.2,313.61 1156.6,313.13 1157,314 1157.4,314.23 1157.8,314.08 1158.2,313.21 1158.6,312.98 1159,313.39 1159.4,312.89 1159.8,312.33 1160.2,312.67 1160.6,312.66 1161,312.92 1161.4,313.01 1161.8,314 1162.2,313.12 1162.6,313.87 1163,314.05 1163.4,313.81 1163.8,313.39 1164.2,313.96 1164.6,314.12 1165,313.66 1165.4,313.54 1165.8,314.27 1166.2,314.26 1166.6,313.53 1167,313.86 1167.4,313.32 1167.8,312.97" fill="none" stroke="#ff0000" stroke-width="1.3" stroke-linejoin="round" stroke-linecap="round" /><polyline points="1027.8,317.76 1028.2,317.96 1028.6,318 1029,318.26 1029.4,318.64 1029.8,316.69 1030.2,317.09 1030.6,317.16 1031,317.26 1031.4,317.85 1031.8,317.91 1032.2,316.46 1032.6,316.83 1033,315.65 1033.4,315.69 1033.8,316.17 1034.2,316.86 1034.6,317.01 1035,317.75 1035.4,317.23 1035.8,316.31 1036.2,316.17 1036.6,316.55 1037,317.51 1037.4,316.54 1037.8,316.81 1038.2,317.44 1038.6,316.38 1039,317 1039.4,316.06 1039.8,315.42 1040.2,315.81 1040.6,317.1 1041,316.56 1041.4,317.04 1041.8,317.28 1042.2,315.99 1042.6,316.12 1043,316.79 1043.4,316.07 1043.8,317.31 1044.2,317.18 1044.6,316.99 1045,316.61 1045.4,314.94 1045.8,316.42 1046.2,315.89 1046.6,315.66 1047,315.88 1047.4,314.56 1047.8,315.85 1048.2,316.45 1048.6,315.68 1049,314.59 1049.4,315.7 1049.8,315.54 1050.2,315.29 1050.6,314.84 1051,314.5 1051.4,316.13 1051.8,315.58 1052.2,316.56 1052.6,316.09 1053,315.57 1053.4,315.79 1053.8,315.76 1054.2,314.86 1054.6,315.44 1055,314.56 1055.4,315.01 1055.8,315.23 1056.2,315.2 1056.6,314.77 1057,315.22 1057.4,316.23 1057.8,314.9 1058.2,314.9 1058.6,314.95 1059,315.98 1059.4,316.14 1059.8,316.22 1060.2,315.54 1060.6,315.66 1061,315.68 1061.4,316.52 1061.8,316.75 1062.2,316.09 1062.6,314.78 1063,314.78 1063.4,314.84 1063.8,314.96 1064.2,315.89 1064.6,315.79 1065,314.58 1065.4,314.43 1065.8,315.48 1066.2,315.58 1066.6,314.77 1067,313.69 1067.4,314.69 1067.8,313.52 1068.2,314.29 1068.6,314.73 1069,314.45 1069.4,314.99 1069.8,314.93 1070.2,315.24 1070.6,314.03 1071,314.41 1071.4,314.31 1071.8,313.37 1072.2,313.47 1072.6,313.04 1073,313.34 1073.4,311.75 1073.8,312.16 1074.2,311.7 1074.6,311.86 1075,312.31 1075.4,311.83 1075.8,312.21 1076.2,311.65 1076.6,311.22 1077,312.27 1077.4,312.35 1077.8,311.68 1078.2,312.53 1078.6,311.86 1079,312.76 1079.4,312.3 1079.8,312.11 1080.2,312.21 1080.6,311.88 1081,312.55 1081.4,311.05 1081.8,312 1082.2,312.17 1082.6,312.16 1083,311.52 1083.4,311.91 1083.8,312.22 1084.2,312.65 1084.6,312.2 1085,312.02 1085.4,312.67 1085.8,312.62 1086.2,312.51 1086.6,313.14 1087,313.61 1087.4,313.36 1087.8,313.29 1088.2,314.14 1088.6,313.82 1089,314.08 1089.4,313.83 1089.8,314.5 1090.2,313.15 1090.6,313.96 1091,314.31 1091.4,313.46 1091.8,313.23 1092.2,313.29 1092.6,314.69 1093,314.1 1093.4,314.59 1093.8,313.7 1094.2,314.64 1094.6,314.8 1095,314.39 1095.4,314.01 1095.8,313.34 1096.2,313.45 1096.6,313.53 1097,313.8 1097.4,314.96 1097.8,314.76 1098.2,315.41 1098.6,315.24 1099,315.28 1099.4,315.28 1099.8,315.63 1100.2,314.42 1100.6,315.63 1101,314.26 1101.4,314.73 1101.8,314.42 1102.2,314.04 1102.6,314.87 1103,314.43 1103.4,314.68 1103.8,315.55 1104.2,316.31 1104.6,316.2 1105,315.88 1105.4,315.46 1105.8,315.64 1106.2,315.58 1106.6,316.85 1107,317.2 1107.4,317.02 1107.8,316.62 1108.2,316.67 1108.6,316.52 1109,316.13 1109.4,315.74 1109.8,316.89 1110.2,316.18 1110.6,317.1 1111,317.02 1111.4,316.46 1111.8,316.97 1112.2,317.92 1112.6,317.06 1113,317.09 1113.4,317.3 1113.8,318.06 1114.2,317.99 1114.6,317.65 1115,316.46 1115.4,318 1115.8,318.04 1116.2,318.62 1116.6,317.15 1117,318.03 1117.4,318.66 1117.8,317.6 1118.2,317.32 1118.6,317.58 1119,317.41 1119.4,317.49 1119.8,317.87 1120.2,318.45 1120.6,317.89 1121,318.57 1121.4,318.54 1121.8,318.59 1122.2,318.23 1122.6,318.64 1123,318.64 1123.4,319.39 1123.8,318.25 1124.2,319.03 1124.6,317.85 1125,317.79 1125.4,318.36 1125.8,318.59 1126.2,318.85 1126.6,318.91 1127,318.57 1127.4,317.31 1127.8,318.49 1128.2,318.32 1128.6,318.11 1129,318.16 1129.4,317.08 1129.8,317.42 1130.2,316.66 1130.6,316.94 1131,317.01 1131.4,318.06 1131.8,317.25 1132.2,317.09 1132.6,318.71 1133,317.62 1133.4,319.11 1133.8,317.4 1134.2,317.25 1134.6,318.31 1135,317.92 1135.4,318.54 1135.8,319.21 1136.2,318.05 1136.6,317.58 1137,318.66 1137.4,318.1 1137.8,317.43 1138.2,318.5 1138.6,317.94 1139,318.53 1139.4,317.66 1139.8,317.45 1140.2,318.26 1140.6,317.64 1141,317.41 1141.4,316.87 1141.8,317.68 1142.2,317.03 1142.6,317.68 1143,317.04 1143.4,316.17 1143.8,317.48 1144.2,317.69 1144.6,317.94 1145,317.34 1145.4,318.02 1145.8,316.48 1146.2,317.65 1146.6,317.39 1147,317.24 1147.4,318.71 1147.8,318.09 1148.2,317.72 1148.6,317.95 1149,317.53 1149.4,316.92 1149.8,317.74 1150.2,317.12 1150.6,317.42 1151,317.35 1151.4,317.32 1151.8,316.17 1152.2,316.46 1152.6,317.7 1153,317.02 1153.4,316.84 1153.8,316.62 1154.2,315.92 1154.6,317.26 1155,316.13 1155.4,317.19 1155.8,316.42 1156.2,316.78 1156.6,317.22 1157,317.31 1157.4,318.06 1157.8,317.11 1158.2,317 1158.6,316.96 1159,317.86 1159.4,318.18 1159.8,316.74 1160.2,317.19 1160.6,317.27 1161,316.92 1161.4,317.32 1161.8,317.36 1162.2,316.42 1162.6,316.23 1163,317.5 1163.4,315.93 1163.8,315.68 1164.2,316.81 1164.6,316.48 1165,317.29 1165.4,316.87 1165.8,316.84 1166.2,317.45 1166.6,317.91 1167,317.5 1167.4,316.08 1167.8,316.21" fill="none" stroke="#0000ff" stroke-width="1.3" stroke-linejoin="round" stroke-linecap="round" /><polyline points="1027.8,317.58 1028.2,319.81 1028.6,318.65 1029,319.99 1029.4,319.27 1029.8,320.76 1030.2,320.19 1030.6,320.53 1031,320.51 1031.4,322.24 1031.8,320.71 1032.2,320.83 1032.6,321.63 1033,321.33 1033.4,321.46 1033.8,321.97 1034.2,322.74 1034.6,321.73 1035,323.91 1035.4,323.05 1035.8,323.07 1036.2,324.89 1036.6,323.44 1037,325.45 1037.4,325.35 1037.8,326.78 1038.2,327.08 1038.6,326.2 1039,326.82 1039.4,327.69 1039.8,327.4 1040.2,329.26 1040.6,329.04 1041,329.09 1041.4,329.42 1041.8,329.72 1042.2,328.12 1042.6,329.76 1043,330.36 1043.4,330.91 1043.8,331.66 1044.2,331.47 1044.6,332.13 1045,333.37 1045.4,334.46 1045.8,333.12 1046.2,332.32 1046.6,332.9 1047,334.33 1047.4,336.53 1047.8,334.31 1048.2,333.84 1048.6,335.09 1049,336.47 1049.4,337.3 1049.8,336.16 1050.2,336.96 1050.6,337.15 1051,336.45 1051.4,335.79 1051.8,339.23 1052.2,337.93 1052.6,339.35 1053,341.16 1053.4,340.94 1053.8,340.22 1054.2,340.3 1054.6,341.07 1055,340.63 1055.4,339.29 1055.8,339.78 1056.2,340.46 1056.6,337.59 1057,339.88 1057.4,339.14 1057.8,338.88 1058.2,337.7 1058.6,339.38 1059,336.98 1059.4,339.09 1059.8,338.4 1060.2,336.17 1060.6,336.42 1061,335.44 1061.4,337.21 1061.8,337.06 1062.2,338.02 1062.6,337.05 1063,336.34 1063.4,337.18 1063.8,335.95 1064.2,336.14 1064.6,337.93 1065,336.88 1065.4,337.71 1065.8,338.25 1066.2,336.03 1066.6,338.62 1067,336.33 1067.4,337.72 1067.8,336.06 1068.2,337.3 1068.6,337.5 1069,336.98 1069.4,336.67 1069.8,336.35 1070.2,338.46 1070.6,338.3 1071,339.28 1071.4,339.55 1071.8,339.15 1072.2,338.93 1072.6,339.71 1073,334.99 1073.4,339.83 1073.8,342.91 1074.2,344.55 1074.6,342.74 1075,342.73 1075.4,343.23 1075.8,345.05 1076.2,341.54 1076.6,343.41 1077,343.07 1077.4,343.55 1077.8,347.17 1078.2,347.44 1078.6,342.03 1079,347.89 1079.4,348.07 1079.8,343.67 1080.2,343.84 1080.6,346.61 1081,342.23 1081.4,343.32 1081.8,347.58 1082.2,343.78 1082.6,343.48 1083,343.28 1083.4,344.68 1083.8,344.4 1084.2,343.91 1084.6,343.58 1085,344.5 1085.4,341.91 1085.8,342.25 1086.2,342.51 1086.6,344.09 1087,344.45 1087.4,344.26 1087.8,342.97 1088.2,343.24 1088.6,344.31 1089,343.12 1089.4,343.18 1089.8,344.29 1090.2,343.6 1090.6,343.5 1091,345.11 1091.4,342.96 1091.8,343.42 1092.2,342.34 1092.6,343.39 1093,344.12 1093.4,343.98 1093.8,342.59 1094.2,341.73 1094.6,342.38 1095,340.84 1095.4,339.77 1095.8,341.66 1096.2,341 1096.6,339.96 1097,341.28 1097.4,339.55 1097.8,341.77 1098.2,340.43 1098.6,340.79 1099,340.82 1099.4,342.34 1099.8,342.63 1100.2,341.76 1100.6,340.78 1101,341.94 1101.4,341.06 1101.8,341.82 1102.2,340.23 1102.6,341.59 1103,341.62 1103.4,340.57 1103.8,339.97 1104.2,339.37 1104.6,336.5 1105,334.09 1105.4,331.44 1105.8,328.19 1106.2,326.34 1106.6,325.29 1107,324.3 1107.4,323.2 1107.8,322.04 1108.2,321.73 1108.6,321.9 1109,321.34 1109.4,322.76 1109.8,322.37 1110.2,324.1 1110.6,323.51 1111,324.83 1111.4,323.68 1111.8,322.62 1112.2,322.6 1112.6,322.55 1113,321.2 1113.4,321.77 1113.8,322.02 1114.2,322.16 1114.6,321.94 1115,321.27 1115.4,319.07 1115.8,319.62 1116.2,322.16 1116.6,320.92 1117,322.34 1117.4,321.5 1117.8,320.01 1118.2,321.56 1118.6,318.7 1119,319.58 1119.4,320.93 1119.8,320.76 1120.2,320.43 1120.6,319.4 1121,321.46 1121.4,319.51 1121.8,319.36 1122.2,319.4 1122.6,318.79 1123,319.34 1123.4,321.1 1123.8,320.51 1124.2,320.48 1124.6,321.81 1125,322.19 1125.4,321.56 1125.8,322.63 1126.2,320.35 1126.6,322.48 1127,321.44 1127.4,322.12 1127.8,323.44 1128.2,323.26 1128.6,324.39 1129,324.19 1129.4,324.8 1129.8,323.56 1130.2,323.16 1130.6,324.67 1131,324.71 1131.4,323.85 1131.8,323.84 1132.2,325.08 1132.6,323.8 1133,325.41 1133.4,327.53 1133.8,325.38 1134.2,327.25 1134.6,326.61 1135,327.62 1135.4,327.78 1135.8,327.44 1136.2,326.5 1136.6,328.23 1137,328.47 1137.4,328.39 1137.8,326.43 1138.2,327.59 1138.6,326.64 1139,327.17 1139.4,326.69 1139.8,327.35 1140.2,328.19 1140.6,326.44 1141,327.53 1141.4,329.68 1141.8,328.18 1142.2,328.23 1142.6,329.41 1143,328.37 1143.4,328.54 1143.8,327 1144.2,327.26 1144.6,326.42 1145,326.51 1145.4,325.55 1145.8,326.63 1146.2,326.84 1146.6,324.86 1147,326.09 1147.4,324 1147.8,323.24 1148.2,324.61 1148.6,324.78 1149,324.19 1149.4,325.08 1149.8,325.53 1150.2,325.77 1150.6,324.96 1151,325.81 1151.4,325.27 1151.8,323.88 1152.2,322.87 1152.6,324.23 1153,324.21 1153.4,325.14 1153.8,324.66 1154.2,324.83 1154.6,325.49 1155,324.91 1155.4,326.67 1155.8,324.94 1156.2,325.45 1156.6,324.5 1157,324.73 1157.4,325.18 1157.8,325.62 1158.2,324.39 1158.6,326.2 1159,323.37 1159.4,323.79 1159.8,323.85 1160.2,323.75 1160.6,324.38 1161,326.34 1161.4,325.68 1161.8,324.83 1162.2,324.46 1162.6,324.15 1163,322.54 1163.4,324.45 1163.8,323.23 1164.2,323.58 1164.6,324.88 1165,323.99 1165.4,325.65 1165.8,324.33 1166.2,325.09 1166.6,324.21 1167,325.04 1167.4,324.57 1167.8,325.31" fill="none" stroke="#138013" stroke-width="1.3" stroke-linejoin="round" stroke-linecap="round" /><polyline points="1027.8,318.48 1028.2,319.34 1028.6,319.65 1029,318.93 1029.4,318.79 1029.8,319.46 1030.2,318.69 1030.6,318.82 1031,320.32 1031.4,320.65 1031.8,320.76 1032.2,321.12 1032.6,321.26 1033,321.63 1033.4,321.88 1033.8,322.66 1034.2,322.65 1034.6,322.65 1035,323.55 1035.4,323.72 1035.8,323.77 1036.2,323.98 1036.6,323.89 1037,324.51 1037.4,324.8 1037.8,325.45 1038.2,325.28 1038.6,325.72 1039,325.6 1039.4,326.12 1039.8,326.4 1040.2,326.73 1040.6,327.17 1041,327.24 1041.4,327.02 1041.8,326.06 1042.2,327.47 1042.6,328.13 1043,328.23 1043.4,328.87 1043.8,328.89 1044.2,329.91 1044.6,330.01 1045,330.29 1045.4,330.49 1045.8,330.58 1046.2,330.33 1046.6,330.06 1047,330.5 1047.4,331.33 1047.8,330.55 1048.2,331.2 1048.6,331.4 1049,332.16 1049.4,331.96 1049.8,332.57 1050.2,331.78 1050.6,331.16 1051,331.07 1051.4,331.11 1051.8,330.46 1052.2,331.58 1052.6,331.65 1053,330.03 1053.4,329.87 1053.8,329.49 1054.2,329.9 1054.6,331.07 1055,330.91 1055.4,330.91 1055.8,331.04 1056.2,330.86 1056.6,330.73 1057,330.71 1057.4,330.47 1057.8,330.39 1058.2,330.71 1058.6,331.15 1059,331.26 1059.4,330.81 1059.8,330.01 1060.2,329.73 1060.6,329.58 1061,329.3 1061.4,330.09 1061.8,329.8 1062.2,329.44 1062.6,329.16 1063,329.54 1063.4,329.74 1063.8,330.2 1064.2,330.71 1064.6,329.97 1065,329.7 1065.4,329.6 1065.8,329.46 1066.2,329.72 1066.6,329.23 1067,328.97 1067.4,329.8 1067.8,329.2 1068.2,329.86 1068.6,329.49 1069,328.91 1069.4,328.62 1069.8,328.6 1070.2,329.03 1070.6,327.97 1071,327.88 1071.4,330.77 1071.8,329.09 1072.2,326.84 1072.6,326.08 1073,330.1 1073.4,334.42 1073.8,336.98 1074.2,336.43 1074.6,341.11 1075,337.76 1075.4,339.17 1075.8,335.85 1076.2,336.65 1076.6,337.91 1077,336.28 1077.4,337.34 1077.8,335.95 1078.2,339.5 1078.6,336.4 1079,334.9 1079.4,337.35 1079.8,337.8 1080.2,337.94 1080.6,336.5 1081,337.13 1081.4,336.98 1081.8,337.24 1082.2,335.44 1082.6,335.62 1083,335.47 1083.4,335.21 1083.8,335.59 1084.2,334.74 1084.6,335.09 1085,335.09 1085.4,335.83 1085.8,335.14 1086.2,334.89 1086.6,335.79 1087,335.52 1087.4,335.27 1087.8,335.58 1088.2,334.97 1088.6,334.4 1089,333.99 1089.4,333.39 1089.8,333.96 1090.2,333.04 1090.6,333.95 1091,333.46 1091.4,333.41 1091.8,332.8 1092.2,332.76 1092.6,332.23 1093,332.16 1093.4,331.79 1093.8,331.78 1094.2,331.71 1094.6,331.54 1095,331.95 1095.4,331.03 1095.8,331.41 1096.2,331.25 1096.6,331.87 1097,330.9 1097.4,330.49 1097.8,329.98 1098.2,329.96 1098.6,329.79 1099,329.52 1099.4,329.23 1099.8,329.44 1100.2,328.71 1100.6,328.65 1101,328.27 1101.4,328.22 1101.8,328.92 1102.2,328.85 1102.6,329.36 1103,328.68 1103.4,328.21 1103.8,328.64 1104.2,328.2 1104.6,327.06 1105,326 1105.4,324.55 1105.8,324.07 1106.2,323.3 1106.6,321.68 1107,321.25 1107.4,321.99 1107.8,321.63 1108.2,321.68 1108.6,321.32 1109,321.12 1109.4,320.57 1109.8,321.14 1110.2,321.33 1110.6,320.68 1111,320.62 1111.4,320.83 1111.8,320.78 1112.2,320.89 1112.6,321.08 1113,320.27 1113.4,320.93 1113.8,320.72 1114.2,320.28 1114.6,319.36 1115,319.47 1115.4,318.54 1115.8,318.49 1116.2,319.31 1116.6,318.94 1117,319.1 1117.4,319.11 1117.8,318.12 1118.2,318.27 1118.6,317.8 1119,318.36 1119.4,318.65 1119.8,319.1 1120.2,318.95 1120.6,319.19 1121,318.33 1121.4,319.28 1121.8,319.81 1122.2,320.19 1122.6,319.63 1123,320.28 1123.4,319.54 1123.8,318.59 1124.2,319.62 1124.6,320.79 1125,319.9 1125.4,320.76 1125.8,320.87 1126.2,319.73 1126.6,321.02 1127,320.65 1127.4,321.01 1127.8,320.26 1128.2,321.11 1128.6,321.23 1129,321.58 1129.4,321.31 1129.8,320.77 1130.2,320.17 1130.6,320.93 1131,320.42 1131.4,321.17 1131.8,320.52 1132.2,321.04 1132.6,321.67 1133,322.13 1133.4,322.72 1133.8,321.92 1134.2,321.85 1134.6,321.75 1135,322.14 1135.4,322.66 1135.8,322.8 1136.2,322.39 1136.6,322.87 1137,322.91 1137.4,322.26 1137.8,323.23 1138.2,323.36 1138.6,323.49 1139,323.11 1139.4,324.13 1139.8,323.52 1140.2,323.7 1140.6,323.8 1141,323.11 1141.4,323.49 1141.8,323 1142.2,323.18 1142.6,323.5 1143,323.57 1143.4,322.51 1143.8,322.87 1144.2,323.25 1144.6,323.01 1145,323.69 1145.4,323.73 1145.8,323.62 1146.2,323.17 1146.6,323.13 1147,322.92 1147.4,323.22 1147.8,323.13 1148.2,323.15 1148.6,323.27 1149,322.81 1149.4,323.3 1149.8,323.3 1150.2,323.97 1150.6,322.65 1151,323.31 1151.4,322.21 1151.8,322.65 1152.2,322.79 1152.6,321.88 1153,322.14 1153.4,323.09 1153.8,322.72 1154.2,322.13 1154.6,322.79 1155,322.64 1155.4,323.06 1155.8,322.86 1156.2,322.4 1156.6,323.1 1157,322.89 1157.4,322.06 1157.8,321.98 1158.2,321.46 1158.6,321.63 1159,322.24 1159.4,321.23 1159.8,321.29 1160.2,322.16 1160.6,322.51 1161,322.85 1161.4,322.83 1161.8,323.12 1162.2,323.12 1162.6,321.99 1163,322.67 1163.4,321.75 1163.8,321.89 1164.2,321.95 1164.6,320.69 1165,321.3 1165.4,321.14 1165.8,321.27 1166.2,320.84 1166.6,321.67 1167,320.81 1167.4,320.72 1167.8,321.24" fill="none" stroke="#ff0000" stroke-width="1.3" stroke-linejoin="round" stroke-linecap="round" /><polyline points="1027.8,318.98 1028.2,317.18 1028.6,318.67 1029,317.81 1029.4,319.33 1029.8,319.03 1030.2,318.06 1030.6,318.57 1031,317.37 1031.4,319.07 1031.8,318.06 1032.2,317.95 1032.6,318.38 1033,318.94 1033.4,319.15 1033.8,318.3 1034.2,318.41 1034.6,319.42 1035,317.89 1035.4,318.73 1035.8,318.51 1036.2,319.58 1036.6,318.78 1037,318.85 1037.4,317.98 1037.8,318.28 1038.2,319.52 1038.6,318.59 1039,318.97 1039.4,320.87 1039.8,319.79 1040.2,320.18 1040.6,319.75 1041,319.27 1041.4,319.1 1041.8,318.66 1042.2,319.11 1042.6,319.79 1043,320.06 1043.4,318.8 1043.8,320.38 1044.2,319.55 1044.6,318.84 1045,319.18 1045.4,319.31 1045.8,319.69 1046.2,319.25 1046.6,319.27 1047,318.58 1047.4,318.89 1047.8,318.8 1048.2,319.69 1048.6,319.42 1049,318.2 1049.4,319.23 1049.8,319.45 1050.2,320.36 1050.6,319.82 1051,319.97 1051.4,320.16 1051.8,320.82 1052.2,321.15 1052.6,320.44 1053,320.97 1053.4,320.28 1053.8,321.9 1054.2,320.27 1054.6,320.9 1055,320.2 1055.4,319.87 1055.8,320.92 1056.2,320.04 1056.6,320.49 1057,319.77 1057.4,319.85 1057.8,319.72 1058.2,320.83 1058.6,320.01 1059,320.33 1059.4,320.78 1059.8,321.48 1060.2,321.26 1060.6,321.09 1061,322.41 1061.4,321.9 1061.8,322.2 1062.2,322.18 1062.6,321.2 1063,321.59 1063.4,320.45 1063.8,321.2 1064.2,321.61 1064.6,320.6 1065,321.33 1065.4,321.65 1065.8,321.94 1066.2,320.29 1066.6,321.66 1067,321.7 1067.4,321.41 1067.8,321.9 1068.2,321.59 1068.6,321.38 1069,321.81 1069.4,322.27 1069.8,321.59 1070.2,321.58 1070.6,322.55 1071,321.62 1071.4,322.07 1071.8,323.44 1072.2,323.82 1072.6,324.22 1073,325.09 1073.4,325.17 1073.8,324.86 1074.2,324.96 1074.6,325.66 1075,324.4 1075.4,324.84 1075.8,324.49 1076.2,324.22 1076.6,325.59 1077,325.03 1077.4,324.02 1077.8,325.23 1078.2,324.05 1078.6,324.55 1079,323.75 1079.4,323.75 1079.8,323.47 1080.2,323.81 1080.6,324.22 1081,323.37 1081.4,322.89 1081.8,323.17 1082.2,323.18 1082.6,323.39 1083,323.65 1083.4,323.85 1083.8,323.39 1084.2,324 1084.6,323.6 1085,324.82 1085.4,323.15 1085.8,324.04 1086.2,323.99 1086.6,323.01 1087,324.06 1087.4,324.17 1087.8,322.98 1088.2,323.14 1088.6,324.01 1089,322.71 1089.4,322.21 1089.8,322.47 1090.2,322.7 1090.6,322.14 1091,322.49 1091.4,322.67 1091.8,322.23 1092.2,321.55 1092.6,321.61 1093,322.94 1093.4,322.78 1093.8,322.95 1094.2,322.67 1094.6,323.37 1095,324.19 1095.4,324.34 1095.8,324.04 1096.2,323.24 1096.6,323.38 1097,323.5 1097.4,323.77 1097.8,322.82 1098.2,322.85 1098.6,322.42 1099,322.79 1099.4,322.48 1099.8,321.12 1100.2,321.81 1100.6,321.13 1101,322.06 1101.4,320.94 1101.8,320.62 1102.2,321.26 1102.6,319.92 1103,320.19 1103.4,321.29 1103.8,321.29 1104.2,321.43 1104.6,321.26 1105,320.44 1105.4,321.2 1105.8,320.89 1106.2,321.87 1106.6,320.57 1107,320.98 1107.4,320.81 1107.8,320.21 1108.2,321.3 1108.6,320.38 1109,321.51 1109.4,321.14 1109.8,320.64 1110.2,320.58 1110.6,320.03 1111,320.04 1111.4,320.26 1111.8,319.1 1112.2,319.86 1112.6,319.25 1113,319.89 1113.4,319.66 1113.8,318.79 1114.2,319.2 1114.6,318.93 1115,319.29 1115.4,319.69 1115.8,319.14 1116.2,318.94 1116.6,318.4 1117,319.33 1117.4,318.09 1117.8,318.93 1118.2,318.21 1118.6,318.88 1119,318.72 1119.4,317.87 1119.8,319.37 1120.2,318.32 1120.6,318.26 1121,318.46 1121.4,318.39 1121.8,318.62 1122.2,319.81 1122.6,319.32 1123,319.32 1123.4,319.52 1123.8,318.04 1124.2,318.76 1124.6,318.47 1125,318.04 1125.4,318.42 1125.8,318.54 1126.2,318.12 1126.6,317.72 1127,319.58 1127.4,319.47 1127.8,318.95 1128.2,319.67 1128.6,319.44 1129,318.32 1129.4,318.54 1129.8,319.63 1130.2,318.47 1130.6,318.21 1131,319.25 1131.4,319 1131.8,318.79 1132.2,319.07 1132.6,319.04 1133,318.66 1133.4,319.49 1133.8,319.88 1134.2,318.59 1134.6,318.89 1135,318.03 1135.4,318.58 1135.8,319.14 1136.2,319.39 1136.6,317.92 1137,317.83 1137.4,319.18 1137.8,319.03 1138.2,318.12 1138.6,317.81 1139,319.85 1139.4,319.58 1139.8,319.98 1140.2,319.61 1140.6,319.39 1141,319.98 1141.4,319.82 1141.8,320.45 1142.2,319.56 1142.6,319.77 1143,318.7 1143.4,318.88 1143.8,318.66 1144.2,318.8 1144.6,318.78 1145,319.1 1145.4,319.68 1145.8,318.74 1146.2,319.12 1146.6,319.61 1147,318.58 1147.4,318.42 1147.8,320.05 1148.2,319.36 1148.6,319.47 1149,319.55 1149.4,319.69 1149.8,320.59 1150.2,319.38 1150.6,319.84 1151,319.95 1151.4,319.98 1151.8,318.91 1152.2,320.31 1152.6,319.08 1153,319.47 1153.4,320.58 1153.8,319.81 1154.2,319.04 1154.6,319.6 1155,319.26 1155.4,318.92 1155.8,319.5 1156.2,318.47 1156.6,318.75 1157,318.75 1157.4,318.94 1157.8,320.2 1158.2,319.39 1158.6,320.89 1159,320.71 1159.4,319.51 1159.8,319.66 1160.2,319.02 1160.6,319.83 1161,320.29 1161.4,320.34 1161.8,319.14 1162.2,320.05 1162.6,320.26 1163,319.98 1163.4,320.4 1163.8,319 1164.2,319.48 1164.6,319.22 1165,320 1165.4,320.5 1165.8,318.82 1166.2,319.42 1166.6,319.07 1167,320.22 1167.4,319.19 1167.8,320.33" fill="none" stroke="#0000ff" stroke-width="1.3" stroke-linejoin="round" stroke-linecap="round" /><line x1="982.8" y1="318.4" x2="1027.8" y2="318.4" stroke="#ff0000" stroke-width="1.4" /><polyline points="1051.3,299.86 1052.6,294.1 1053.9,299.16" fill="none" stroke="#138013" stroke-width="1.2" stroke-linejoin="miter"/><polyline points="1051.3,337.75 1052.6,342.8 1053.9,339.77" fill="none" stroke="#138013" stroke-width="1.2" stroke-linejoin="miter"/><polyline points="1072.4,293.45 1073.7,286 1075,291" fill="none" stroke="#138013" stroke-width="1.2" stroke-linejoin="miter"/><polyline points="1072.4,336.47 1073.7,363.9 1075,345" fill="none" stroke="#138013" stroke-width="1.2" stroke-linejoin="miter"/><polyline points="1072.6,300.18 1073.9,297 1075.2,300.2" fill="none" stroke="#ff0000" stroke-width="1.2" stroke-linejoin="miter"/><polyline points="1072.6,329.02 1073.9,349.2 1075.2,339.41" fill="none" stroke="#ff0000" stroke-width="1.2" stroke-linejoin="miter"/><polyline points="1102.7,298.1 1104,296 1105.3,303.41" fill="none" stroke="#138013" stroke-width="1.2" stroke-linejoin="miter"/><polyline points="1102.7,341.22 1104,341 1105.3,332.88" fill="none" stroke="#138013" stroke-width="1.2" stroke-linejoin="miter"/><polyline points="1072.6,312.66 1073.9,310.5 1075.2,311.78" fill="none" stroke="#0000ff" stroke-width="1.2" stroke-linejoin="miter"/><polyline points="1072.6,323.7 1073.9,327 1075.2,324.8" fill="none" stroke="#0000ff" stroke-width="1.2" stroke-linejoin="miter"/><line x1="870.8" y1="280" x2="870.8" y2="360" stroke="#138013" stroke-width="1.3" /><line x1="870.8" y1="296" x2="870.8" y2="340" stroke="#0000ff" stroke-width="1.3" /><line x1="870.8" y1="306" x2="870.8" y2="330" stroke="#ff0000" stroke-width="1.3" /><line x1="870.8" y1="126" x2="870.8" y2="190" stroke="#138013" stroke-width="1.3" /><line x1="870.8" y1="140" x2="870.8" y2="178" stroke="#0000ff" stroke-width="1.3" /><line x1="870.8" y1="150" x2="870.8" y2="166" stroke="#ff0000" stroke-width="1.3" /><line x1="985.5" y1="107.6" x2="985.5" y2="158.8" stroke="#000" stroke-width="1.5" stroke-dasharray="5,4"/><line x1="1018" y1="107.6" x2="1018" y2="158.8" stroke="#000" stroke-width="1.5" stroke-dasharray="5,4"/><line x1="986.5" y1="112.6" x2="1017" y2="112.6" stroke="#000" stroke-width="1.3" /><polygon points="992.5,109.6 986.0,112.6 992.5,115.6" fill="#000"/><polygon points="1011,109.6 1017.5,112.6 1011,115.6" fill="#000"/><line x1="983.3" y1="262.8" x2="983.3" y2="320" stroke="#000" stroke-width="1.5" stroke-dasharray="5,4"/><line x1="1027.5" y1="262.8" x2="1027.5" y2="320" stroke="#000" stroke-width="1.5" stroke-dasharray="5,4"/><line x1="984.3" y1="268" x2="1026.5" y2="268" stroke="#000" stroke-width="1.3" /><polygon points="990.3,265 983.8,268 990.3,271" fill="#000"/><polygon points="1020.5,265 1027.0,268 1020.5,271" fill="#000"/><text x="1007" y="103.8" font-size="15.5" font-weight="bold" text-anchor="middle" fill="#000" >1.365eV</text><text x="1008.5" y="255.2" font-size="15.4" font-weight="bold" text-anchor="middle" fill="#000" >1.844eV</text><text x="1158.8" y="92.6" font-size="15.5" font-weight="bold" text-anchor="end" fill="#000" >Position 1</text><text x="1158" y="253.6" font-size="15.3" font-weight="bold" text-anchor="end" fill="#000" >Pristine</text><rect x="869.8" y="73.9" width="299.0" height="318.6" fill="none" stroke="#000" stroke-width="2"/><line x1="869.8" y1="232.5" x2="1168.8" y2="232.5" stroke="#000" stroke-width="2" /><line x1="892.8" y1="73.9" x2="892.8" y2="77.4" stroke="#000" stroke-width="1.5" /><line x1="892.8" y1="229.5" x2="892.8" y2="235.5" stroke="#000" stroke-width="1.5" /><line x1="892.8" y1="392.5" x2="892.8" y2="389" stroke="#000" stroke-width="1.5" /><text x="892.8" y="407.6" font-size="13.8" font-weight="bold" text-anchor="middle" fill="#000" >-4</text><line x1="938.8" y1="73.9" x2="938.8" y2="77.4" stroke="#000" stroke-width="1.5" /><line x1="938.8" y1="229.5" x2="938.8" y2="235.5" stroke="#000" stroke-width="1.5" /><line x1="938.8" y1="392.5" x2="938.8" y2="389" stroke="#000" stroke-width="1.5" /><text x="938.8" y="407.6" font-size="13.8" font-weight="bold" text-anchor="middle" fill="#000" >-2</text><line x1="984.8" y1="73.9" x2="984.8" y2="77.4" stroke="#000" stroke-width="1.5" /><line x1="984.8" y1="229.5" x2="984.8" y2="235.5" stroke="#000" stroke-width="1.5" /><line x1="984.8" y1="392.5" x2="984.8" y2="389" stroke="#000" stroke-width="1.5" /><text x="984.8" y="407.6" font-size="13.8" font-weight="bold" text-anchor="middle" fill="#000" >0</text><line x1="1030.8" y1="73.9" x2="1030.8" y2="77.4" stroke="#000" stroke-width="1.5" /><line x1="1030.8" y1="229.5" x2="1030.8" y2="235.5" stroke="#000" stroke-width="1.5" /><line x1="1030.8" y1="392.5" x2="1030.8" y2="389" stroke="#000" stroke-width="1.5" /><text x="1030.8" y="407.6" font-size="13.8" font-weight="bold" text-anchor="middle" fill="#000" >2</text><line x1="1076.8" y1="73.9" x2="1076.8" y2="77.4" stroke="#000" stroke-width="1.5" /><line x1="1076.8" y1="229.5" x2="1076.8" y2="235.5" stroke="#000" stroke-width="1.5" /><line x1="1076.8" y1="392.5" x2="1076.8" y2="389" stroke="#000" stroke-width="1.5" /><text x="1076.8" y="407.6" font-size="13.8" font-weight="bold" text-anchor="middle" fill="#000" >4</text><line x1="1122.8" y1="73.9" x2="1122.8" y2="77.4" stroke="#000" stroke-width="1.5" /><line x1="1122.8" y1="229.5" x2="1122.8" y2="235.5" stroke="#000" stroke-width="1.5" /><line x1="1122.8" y1="392.5" x2="1122.8" y2="389" stroke="#000" stroke-width="1.5" /><text x="1122.8" y="407.6" font-size="13.8" font-weight="bold" text-anchor="middle" fill="#000" >6</text><line x1="1168.8" y1="73.9" x2="1168.8" y2="77.4" stroke="#000" stroke-width="1.5" /><line x1="1168.8" y1="229.5" x2="1168.8" y2="235.5" stroke="#000" stroke-width="1.5" /><line x1="1168.8" y1="392.5" x2="1168.8" y2="389" stroke="#000" stroke-width="1.5" /><text x="1168.8" y="407.6" font-size="13.8" font-weight="bold" text-anchor="middle" fill="#000" >8</text><line x1="915.8" y1="392.5" x2="915.8" y2="391" stroke="#000" stroke-width="1.2" /><line x1="915.8" y1="232.5" x2="915.8" y2="231" stroke="#000" stroke-width="1.2" /><line x1="961.8" y1="392.5" x2="961.8" y2="391" stroke="#000" stroke-width="1.2" /><line x1="961.8" y1="232.5" x2="961.8" y2="231" stroke="#000" stroke-width="1.2" /><line x1="1007.8" y1="392.5" x2="1007.8" y2="391" stroke="#000" stroke-width="1.2" /><line x1="1007.8" y1="232.5" x2="1007.8" y2="231" stroke="#000" stroke-width="1.2" /><line x1="1053.8" y1="392.5" x2="1053.8" y2="391" stroke="#000" stroke-width="1.2" /><line x1="1053.8" y1="232.5" x2="1053.8" y2="231" stroke="#000" stroke-width="1.2" /><line x1="1099.8" y1="392.5" x2="1099.8" y2="391" stroke="#000" stroke-width="1.2" /><line x1="1099.8" y1="232.5" x2="1099.8" y2="231" stroke="#000" stroke-width="1.2" /><line x1="1145.8" y1="392.5" x2="1145.8" y2="391" stroke="#000" stroke-width="1.2" /><line x1="1145.8" y1="232.5" x2="1145.8" y2="231" stroke="#000" stroke-width="1.2" /><text x="1019.3" y="437.5" font-size="19" font-weight="bold" text-anchor="middle" fill="#000" >Energy (eV)</text><text x="0" y="0" font-size="20.2" font-weight="bold" text-anchor="middle" fill="#000" transform="translate(854.8,222.5) rotate(-90)">Density of State (a.u.)</text><line x1="975.5" y1="378.5" x2="1012" y2="378.5" stroke="#138013" stroke-width="1.7" /><text x="1014.5" y="384" font-size="15.5" font-weight="bold" text-anchor="start" fill="#000" >Total</text><line x1="1051.5" y1="378.5" x2="1090" y2="378.5" stroke="#ff0000" stroke-width="1.7" /><text x="1090" y="384" font-size="15.5" font-weight="bold" text-anchor="start" fill="#000" >Nb</text><line x1="1111" y1="378.5" x2="1149.5" y2="378.5" stroke="#0000ff" stroke-width="1.7" /><text x="1149" y="384" font-size="15.5" font-weight="bold" text-anchor="start" fill="#000" >O</text><text x="826.2" y="67.3" font-size="27.2" font-weight="normal" text-anchor="start" fill="#000" stroke="#000" stroke-width="0.45" letter-spacing="1.7">(f)</text>
</svg></body></html>
